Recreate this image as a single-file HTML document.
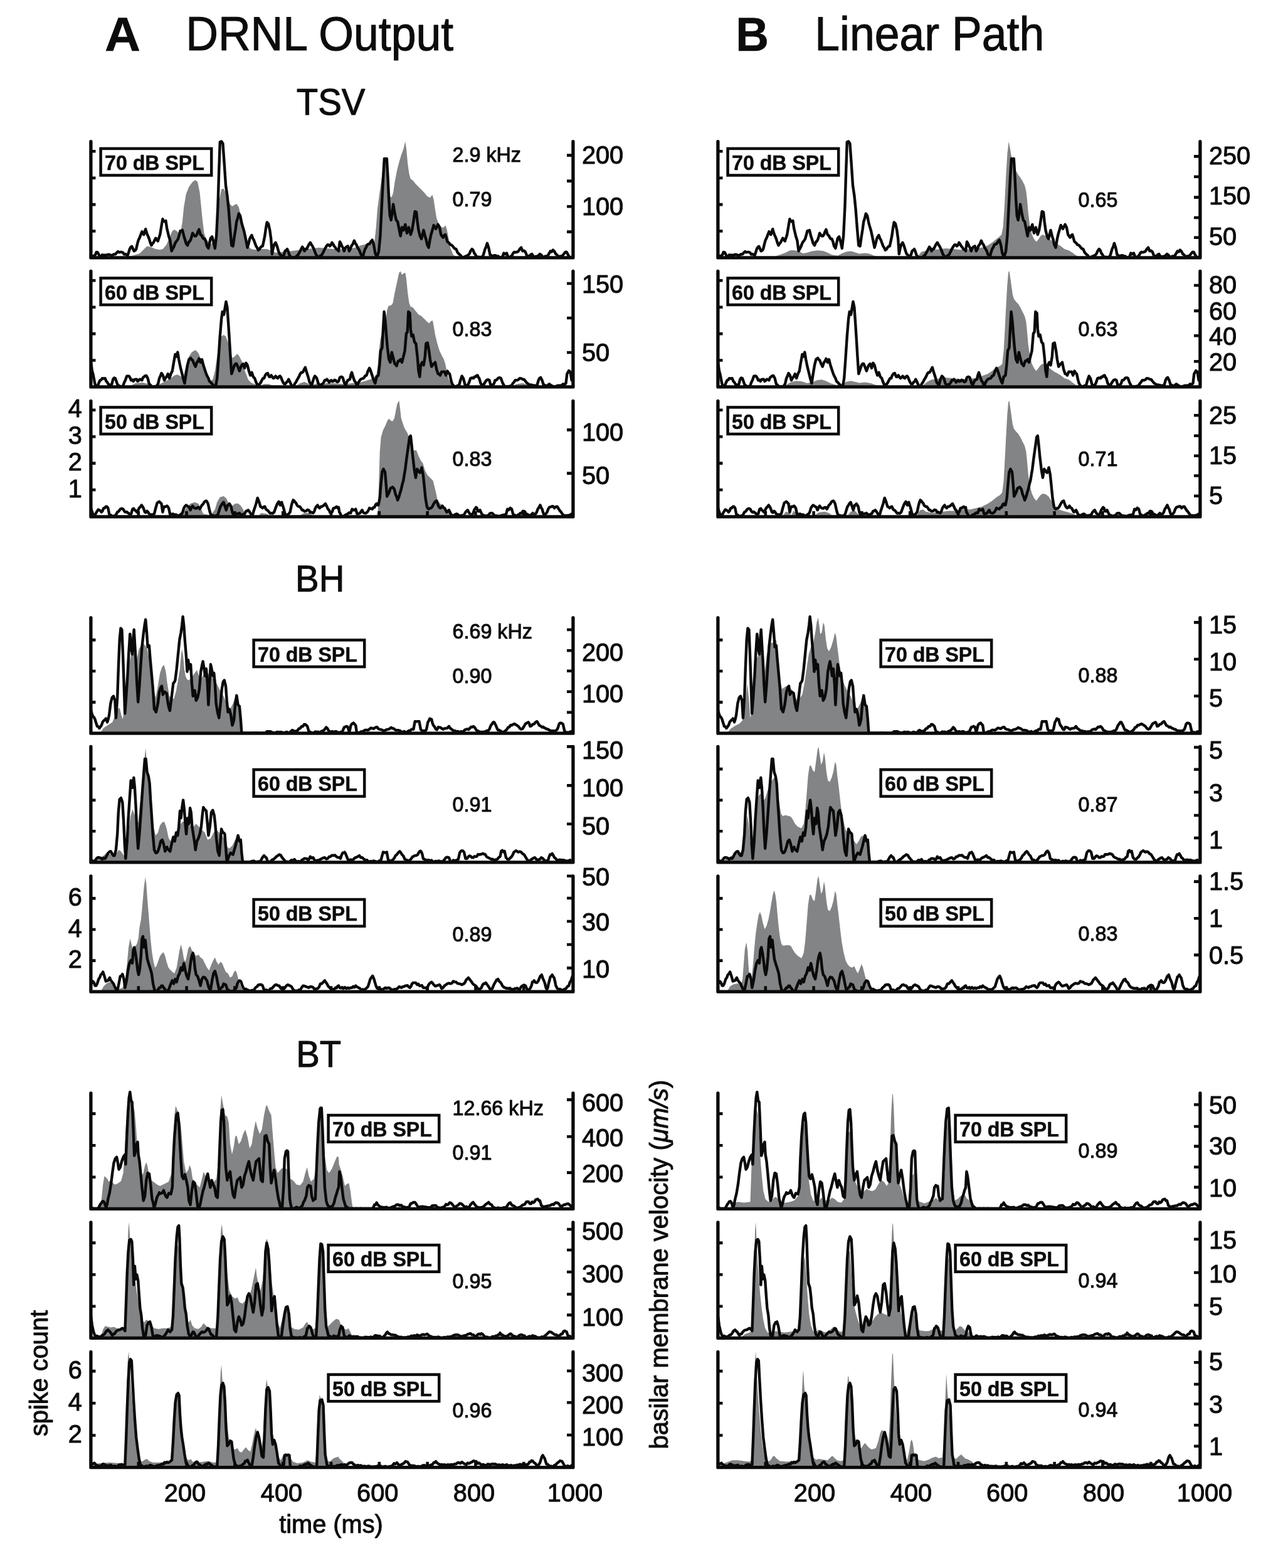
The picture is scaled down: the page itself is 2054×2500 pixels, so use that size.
<!DOCTYPE html>
<html lang="en"><head><meta charset="utf-8"><title>DRNL Output vs Linear Path</title>
<style>
html,body{margin:0;padding:0;background:#fff;}
body{width:2054px;height:2500px;overflow:hidden;font-family:"Liberation Sans", Arial, Helvetica, sans-serif;}
svg{display:block;}
text{font-family:"Liberation Sans", Arial, Helvetica, sans-serif;fill:#0c0c0c;stroke:#0c0c0c;stroke-width:1.0px;stroke-linejoin:round;}
.g{fill:#828486;stroke:none;}
.t{fill:none;stroke:#0a0a0a;stroke-width:4.4;stroke-linejoin:round;stroke-linecap:round;}
.ax{fill:none;stroke:#0a0a0a;stroke-width:5.3;stroke-linejoin:round;stroke-linecap:round;}
.tk{fill:none;stroke:#0a0a0a;stroke-width:4.6;}
.bx{fill:#fff;stroke:#0a0a0a;stroke-width:4.5;}
.al{font-size:41px;}
.bl{font-size:34px;font-weight:bold;stroke-width:0.5px;}
.nt{font-size:32.8px;}
.h1{font-size:75.2px;}
.h1b{font-size:76.5px;font-weight:bold;stroke-width:0.5px;}
.h2{font-size:59.5px;}
</style></head><body>
<svg width="2054" height="2500" viewBox="0 0 2054 2500" role="img" aria-label="Spike counts compared with DRNL output (A) and linear path (B) for TSV, BH and BT stimuli">
<rect width="2054" height="2500" fill="#fff"/>
<text class="h1b" transform="translate(167.1 81) scale(1.033 1)">A</text>
<text class="h1" transform="translate(296.2 80) scale(0.952 1)">DRNL Output</text>
<text class="h1b" transform="translate(1173.2 81) scale(0.955 1)">B</text>
<text class="h1" transform="translate(1299.2 80) scale(0.952 1)">Linear Path</text>
<text class="h2" transform="translate(527.6 183.4) scale(0.948 1)" text-anchor="middle">TSV</text>
<text class="h2" transform="translate(510.2 943) scale(0.948 1)" text-anchor="middle">BH</text>
<text class="h2" transform="translate(508.2 1701) scale(0.948 1)" text-anchor="middle">BT</text>
<text class="al" transform="translate(75.9 2189.5) rotate(-90) scale(0.97 1)" text-anchor="middle">spike count</text>
<text class="al" transform="translate(1065 2016) rotate(-90) scale(0.976 1)" text-anchor="middle">basilar membrane velocity (<tspan font-style="italic">μm/s</tspan>)</text>
<text class="al" transform="translate(528 2444) scale(0.97 1)" text-anchor="middle">time (ms)</text>
<text class="al" transform="translate(295 2393.6) scale(0.97 1)" text-anchor="middle">200</text>
<text class="al" transform="translate(1299 2393.6) scale(0.97 1)" text-anchor="middle">200</text>
<text class="al" transform="translate(449 2393.6) scale(0.97 1)" text-anchor="middle">400</text>
<text class="al" transform="translate(1453 2393.6) scale(0.97 1)" text-anchor="middle">400</text>
<text class="al" transform="translate(602.2 2393.6) scale(0.97 1)" text-anchor="middle">600</text>
<text class="al" transform="translate(1606.2 2393.6) scale(0.97 1)" text-anchor="middle">600</text>
<text class="al" transform="translate(756 2393.6) scale(0.97 1)" text-anchor="middle">800</text>
<text class="al" transform="translate(1760 2393.6) scale(0.97 1)" text-anchor="middle">800</text>
<text class="al" transform="translate(917 2393.6) scale(0.97 1)" text-anchor="middle">1000</text>
<text class="al" transform="translate(1921 2393.6) scale(0.97 1)" text-anchor="middle">1000</text>
<g id="A_tsv70">
<path class="g" d="M202.2,410.9L202.2,409.7L216,406.2L222.9,403.9L229.9,397L234.5,392.4L239.1,393.6L248.3,397L255.2,398.2L259.8,397L265.6,390.1L271.3,376.3L274.8,368.2L278.2,365.9L281.7,368.2L285.2,371.7L288.6,367.1L290.9,353.2L293.2,330.2L296.7,309.5L301.3,297.9L307.1,289.9L311.7,286.9L315.1,289.9L318.6,307.2L320.9,330.2L323.2,353.2L325.5,371.7L328.9,380.9L335.9,390.1L342.8,380.9L346.2,353.2L349.7,318.7L353.1,301.4L356.6,300.7L360,307.2L363.5,316.4L367,325.6L370.4,329.1L373.9,326.8L377.3,325.1L380.8,330.2L384.2,344L387.7,357.9L391.2,376.3L395.8,392.4L400.4,397L407.3,398.2L416.5,397L425.7,397L431.5,399.3L439.5,402.8L451.1,401.6L462.6,400.5L471.8,399.3L481,398.2L490.2,397L499.4,395.9L508.7,394.7L520.2,395.9L531.7,397L540,398.2L547.6,397L556.9,397L566.1,394.7L575.3,391.3L584.5,389L591.4,386.7L597.2,385.5L599.5,364.8L601.8,334.8L605.3,307.2L608.7,284.1L612.2,261.1L614.5,256.5L617.9,268L620.2,295.6L622.5,314.1L624.8,314.1L627.1,307.2L629.4,291L632.9,272.6L636.4,258.8L639.8,247.3L643.3,238L646.3,225.4L648.1,238L650.2,261.1L652.5,277.2L654.8,285.3L658.2,287.6L662.9,293.3L667.5,297.9L672.1,302.6L676.7,307.2L681.3,312.9L685.9,315.2L689.4,310.6L691.7,318.7L694,334.8L696.3,348.6L699.7,356.7L704.3,362.5L707.8,362.5L710.1,359L712.4,364.8L714.7,376.3L718.2,394.7L722.8,406.2L727.4,409.7L727.4,410.9Z"/>
<path class="t" d="M145.1,408.6L146.8,408.2L148.6,408.4L150.4,407.5L152.1,406.2L153.8,401.9L155.6,402.3L157.3,405.1L159.6,409.8L161.3,409.3L163,406.3L165.3,406.8L167.6,406.6L170,406.8L172.3,405.8L174.6,405.9L176.9,407.1L179.2,406.8L181.5,405.5L183.8,405.4L186.1,402.9L188.1,401L190.1,402.4L192.1,401.9L194.1,401.9L196.1,402.8L198,405.6L199.9,405.1L201.6,405.9L203.4,407.5L205.1,402.7L206.8,397.1L208.5,394.1L210.3,392.9L212,396.5L213.7,400.3L215.5,399.3L217.2,397.1L218.9,389.5L220.6,383.2L222.9,378.6L224.7,373.5L226.4,369.4L227.9,372.7L229.4,374L230.8,369.2L232.2,365.2L233.5,370.1L234.9,374L236.4,377.1L237.9,380.9L239.7,386.9L241.4,391.3L243.1,388.3L244.8,386.7L246.6,382.8L248.3,379.7L250,382.7L251.8,384.4L253.5,379.1L255.2,374L257.5,360.2L259.4,349.1L260.7,352.4L262.1,353.2L264.4,352.1L266.3,364.8L267.6,370.1L269,376.3L271.3,383.2L273.6,400.3L275.4,396.8L277.1,393.6L278.8,389.1L280.6,385.5L282.3,383.7L284,380.9L285.7,375L287.5,368.2L289.2,367.8L290.9,367.1L293.2,376.3L295,382L296.7,387.8L299,391.3L301.3,385.5L302.7,384.8L304.1,382.1L305.6,377.3L307.1,371.7L308.8,374.1L310.5,376.3L312.2,376.3L314,374L315.7,369.3L317.4,365.9L319.7,374L321.5,375.4L323.2,378.6L324.9,380.9L326.6,380.9L328.4,385.5L330.1,392.4L332.4,395.9L334.1,387.8L335.9,379.7L338.2,377.4L340.5,385.5L342.8,395.9L345.1,376.3L347.4,330.2L349.2,272.6L350.8,226.5L353.1,225.4L355.4,228.8L357.7,261.1L360,295.6L362.4,311.8L364.7,334.8L367,364.8L369.3,391.3L371.6,392.4L373.9,376.3L375.6,365.8L377.3,353.2L379.1,347.8L380.8,340.6L383.1,344L385.4,355.6L387.1,361.5L388.8,367.1L390.6,375L392.3,383.2L394.6,394.7L396.3,388.7L398.1,380.9L399.8,377.5L401.5,375.1L403.2,380L405,383.2L406.7,388.1L408.4,392.4L410.2,395.3L411.9,398.7L413.6,397.7L415.3,394.7L417.1,392.9L418.8,392.4L420.5,385L422.3,376.3L424,364.1L425.7,354.4L428,356.7L430.3,367.1L432.2,380.9L433.8,405.1L435.5,396.2L437.2,390.1L439.5,386.7L441.8,392.4L444.1,400.3L445.9,405.2L447.6,406.3L449.3,408.7L451.1,408.6L452.8,406.3L454.5,400.3L456.2,399.1L458,397.1L459.7,400.8L461.4,406.3L463.7,409.8L465.5,410.4L467.2,410.4L469.5,410.1L471.8,409.8L473.5,407.7L475.3,406.3L477,403.5L478.7,400.3L480.4,397L482.2,393.6L483.9,396.3L485.6,400.3L487.4,397L489.1,397.1L490.8,393.4L492.5,390.1L494.8,386.7L496.6,389.9L498.3,392.4L500,395.9L501.8,400.3L503.5,405L505.2,407.5L506.9,409.9L508.7,409.8L511,407.7L513.3,406.3L515.6,402L517.9,397.1L520.2,393.1L522.5,390.1L524.2,390.4L525.9,392.4L527.7,390.6L529.4,386.7L531.1,389L532.9,392.4L534.6,394.3L536.3,397.1L538.2,397.9L540,400.3L541.9,385.5L543.6,388.2L545.3,392.4L547.1,395.5L548.8,400.3L550.5,395.6L552.3,393.6L554.6,392.4L556.9,400.3L558.6,397.2L560.3,392.4L562.6,389.2L564.9,383.7L566.7,388.1L568.4,390.1L570.1,394.5L571.8,397.1L573.6,400.2L575.3,405.1L577,407.3L578.8,408.6L580.5,402.3L582.2,397.1L583.9,394.4L585.7,390.1L587.4,389.2L589.1,389L591.4,385.3L593.7,382.7L596,390.1L598.3,403.5L599.7,406.9L601.1,409.8L602.6,405.3L604.1,400.3L606.4,376.3L608.7,330.2L611,284.1L612.9,253L614.8,253.5L616.8,253L618.6,284.1L620.2,318.7L621.8,344L623.7,350.9L625.5,339.4L627.1,325.6L629.4,339.4L631.8,350.9L634.1,353.2L636.4,364.8L638.7,376.3L641,362.5L643.3,367.1L644.8,363.2L646.3,357.9L647.6,365.3L649,371.7L650.4,367.1L651.8,362.5L653.3,368L654.8,374L657.1,367.1L659.4,353.2L661.7,337.1L664,338.3L665.6,353.2L667.5,367.1L669.8,376.3L672.1,380.9L673.8,374.1L675.5,367.1L677.8,376.3L679.6,382.1L681.3,390.1L683.6,394.7L685.9,380.9L687.6,373.3L689.4,367.1L691.7,359L693.4,362.9L695.1,364.8L696.8,361.3L698.6,357.9L700.9,362.5L703.2,374L704.9,376.7L706.6,378.6L708.4,375.4L710.1,374L711.8,379.7L713.5,385.5L715.9,387.1L718.2,390.1L720.5,391.1L722.8,393.6L725.1,396.4L727.4,397.1L729.7,402.6L732,405.1L734.3,406.9L736.6,409.8L738.5,410.1L740.4,409.7L742.4,408.6L744.7,407.8L747,406.3L748.7,404.3L750.4,400.3L752.7,397.1L754.4,398.6L756.2,403.5L757.9,405.6L759.6,408.6L761.9,410.1L764.2,409.8L766.2,410.4L768.1,409.6L770,408.6L771.7,403.5L773.5,397.1L775.2,393.5L776.9,387.8L779.2,394.7L781.5,406.3L783.2,406.9L785,408.6L786.9,408L788.8,407.1L790.7,407.5L792.7,408.6L794.6,408.5L796.5,410.4L798.8,410.4L801.1,409.8L803.4,403.5L805.7,405.2L808,403.5L810.3,409.8L812.6,410.2L814.9,408.6L816.7,406.9L818.4,403.5L820.3,401.8L822.2,402.3L824.1,401.9L826.5,400.9L828.8,397.1L831.1,394.7L833.4,400.3L835.7,399.7L838,401.9L839.7,406.5L841.4,409.8L843.2,407.9L844.9,408.6L846.6,405.7L848.3,405.1L850.1,408.1L851.8,409.8L854.1,408.9L856.4,408.6L858.7,407.5L861,405.1L863.3,406.6L865.6,409.8L867.5,410.4L869.5,408.4L871.4,408.6L873.7,407.3L876,403.5L877.9,400.3L879.8,401.4L881.8,398.7L884.1,400.9L886.4,405.1L888.7,406.8L891,409.8L893.3,408.4L895.6,408.6L897.9,406.5L900.2,403.5L901.9,401.7L903.6,401.9L905.4,405.2L907.1,408.6L909.4,410.4L911.7,409.8"/>
<path class="ax" d="M144.9,225.6V410.9H913.9V225.6"/>
<path class="tk" d="M144.9,368.5h7.6M144.9,326.1h7.6M144.9,283.7h7.6M144.9,241.3h7.6M913.9,369.6h-9.9M913.9,329.3h-9.9M913.9,288.6h-9.9M913.9,247.6h-9.9"/>
<text class="al" transform="translate(927.9 343.1) scale(0.97 1)">100</text>
<text class="al" transform="translate(927.9 261) scale(0.97 1)">200</text>
<rect class="bx" x="160.6" y="236.9" width="176.6" height="42.6"/>
<text class="bl" transform="translate(246.5 271.1) scale(0.945 1)" text-anchor="middle">70 dB SPL</text>
<text class="nt" transform="translate(721.5 258.2) scale(0.985 1)">2.9 kHz</text>
<text class="nt" transform="translate(721.5 329.1) scale(0.985 1)">0.79</text>
</g>
<g id="A_tsv60">
<path class="g" d="M206.8,616.9L206.8,615.7L216,611.1L227.6,609.9L236.8,612.2L243.7,614.5L255.2,612.2L264.4,607.6L272.5,603L278.2,598.4L282.9,597.3L287.5,599.6L292.1,603L296.7,582.3L301.3,568.5L305.9,561.6L311.7,558.1L316.3,562.7L319.7,570.8L323.2,580L326.6,591.5L330.1,603L334.7,607.6L339.3,605.3L342.8,591.5L346.2,568.5L349.7,550L353.1,536.2L356.6,533.9L360,536.2L363.5,545.4L367,559.2L370.4,570.8L373.9,568.5L378.5,563.9L381.9,568.5L385.4,575.4L388.8,586.9L392.3,596.1L395.8,605.3L400.4,609.9L405,612.2L409.6,614.1L414.2,615.7L421.1,612.2L428,612.2L434.9,614.5L471.8,615.7L478.7,611.1L485.6,608.8L492.5,612.2L499.4,613.4L506.4,611.1L513.3,613.4L520.2,611.1L531.7,611.1L540,611.8L552.3,612.2L561.5,611.1L573,609.9L582.2,607.6L589.1,605.3L596,603L600.6,596.1L602.5,582.3L604.3,559.2L606.6,540.8L609.4,529.3L612.2,522.4L614.9,513.2L617.2,494.7L619.5,487.8L623.7,486.7L626.5,483.2L629.4,467.1L632.9,451L636.4,434.8L638.7,432.5L641,438.3L643.3,436L646.3,434.8L647.9,444L650.2,467.1L652.5,483.2L654.8,489L658.2,490.1L662.9,495.9L667.5,501.6L672.1,503.9L676.7,508.6L681.3,513.2L684.7,515.5L687.1,512L690,510.9L691.7,520.1L694,533.9L697.4,547.7L700.9,559.2L704.3,566.2L707.8,573.1L710.1,580L712.4,591.5L715.9,605.3L719.3,612.2L722.8,615.7L817.2,615.7L824.1,612.2L833.4,611.1L842.6,613.4L847.2,615.7L847.2,616.9Z"/>
<path class="t" d="M145.1,577.7L146.9,591.5L148.3,596.1L149.7,603.1L151.2,611L152.7,615.8L154.4,616.4L156.1,614.6L157.9,609.8L159.6,606.3L161.3,605.7L163,603.1L165.3,603.5L167.6,603.1L169.4,607.7L171.1,609.5L172.8,612.4L174.6,614.6L176.3,613.4L178,613.5L180.3,604.7L182.1,602.5L183.8,603.1L186.1,609.5L188.4,615.8L190.1,614.9L191.8,616.4L194.1,616.3L196.5,614.6L198.2,609.5L199.9,606.3L202.2,599.6L203.9,599.5L205.7,599.6L207.4,602.2L209.1,606.3L210.9,605.6L212.6,607.9L214.3,605.4L216,604.7L217.8,604.6L219.5,607.9L221.2,606.7L222.9,604.7L224.7,605.1L226.4,606.3L228.1,601.8L229.9,600.7L231.6,599.1L233.3,598.9L235.6,603.1L237.9,612.3L239.7,613.5L241.4,615.8L243.7,616.4L246,616.4L248.3,616.4L250.6,614.6L252.3,611.1L254.1,603.1L255.8,599.5L257.5,595L259.8,598.4L262.1,606.3L263.8,602.8L265.6,600.7L267.9,596.1L270.2,603.1L272.5,596.1L274.8,591.5L277.1,577.7L279.4,565L281.7,568.5L283.3,561.6L285.2,573.1L287.5,584.6L289.8,593.8L292.1,603.1L294.4,611.1L296.7,596.1L299,582.3L301.3,573.1L302.7,572L304.1,570.8L305.6,573.3L307.1,574.2L309.4,580L311.7,584.6L314,577.7L315.7,575.8L317.4,571.9L319.7,577.7L322,573.1L324.3,582.3L326.6,589.2L328.9,596.1L330.7,600.2L332.4,603.1L334.1,608.1L335.9,609.5L338.2,612L340.5,614.6L342.2,616L343.9,616.4L346.2,603.1L348.5,570.8L350.8,536.2L353.1,508.6L354.7,497L357.1,501.6L358.9,490.1L360.5,480.9L362.4,490.1L364,513.2L365.8,540.8L367.6,570.8L369.3,596.1L371.6,589.2L373.9,582.3L375.6,580L377.3,580L379.6,585.7L381.9,591.5L384.2,584.6L386,581.6L387.7,580L390,586.9L392.3,578.8L394.6,582.3L396.9,591.5L399.2,598.4L401.5,593.8L403.8,600.7L406.1,603.1L408.4,609.5L410.7,614.6L412.5,613.4L414.2,612.3L415.9,609.7L417.6,606.3L419.4,603.2L421.1,603.1L422.8,598.8L424.6,596.1L426.9,595L429.2,600.7L430.9,600.8L432.6,598.4L434.4,601.2L436.1,603.1L437.8,601.6L439.5,599.6L441.3,602.1L443,603.1L444.7,600.4L446.5,599.6L448.2,601.9L449.9,606.3L451.6,610L453.4,612.3L455.1,612.2L456.8,609.5L458.5,608.3L460.3,604.7L462.6,609.5L464.9,614.6L466.6,616.3L468.3,615.8L470.1,611.7L471.8,609.5L473.5,606.2L475.3,603.1L477,600.1L478.7,596.1L480.4,594L482.2,593.8L483.5,592.3L484.9,589.2L486.8,585.7L489.1,593.8L491.4,600.7L493.7,609.5L495.4,611.4L497.1,614.6L499.4,606.3L500.8,602.3L502.2,599.6L503.7,601.2L505.2,603.1L507.5,611.1L509.2,613.6L511,614.6L512.7,612.8L514.4,612.3L516.2,609.8L517.9,606.3L519.6,606.4L521.3,604.7L523.1,606.7L524.8,609.5L526.5,607.9L528.2,606.3L530,608.2L531.7,607.9L533.4,605.8L535.2,606.3L536.8,608.5L538.4,609.1L540,607.9L541.9,601.9L544.2,600.7L546.5,601.9L548.8,609.5L551.1,614.6L552.8,609.9L554.6,606.3L556.3,605.5L558,604.7L559.5,597.8L561,593.8L562.4,598.3L563.8,603.1L565.5,607.6L567.2,609.5L569.5,615.8L571.8,609.5L573.6,606.7L575.3,604.7L577.6,603.7L579.9,603.1L582.2,599.5L584.5,598.4L586.8,591.5L589.1,586.9L590.5,589.5L591.9,593.8L593.4,598.3L594.9,603.1L596.6,607.7L598.3,611.1L600.6,600.7L602,599.8L603.4,598.4L605.3,582.3L607.1,559.2L609.4,554.6L611,524.7L612.6,497L614.5,513.2L616.3,536.2L617.9,554.6L620.2,573.1L622.5,577.7L624.8,561.6L627.1,570.8L629.4,580L630.9,581.1L632.4,583.4L633.8,578.7L635.2,575.4L636.9,575.5L638.7,573.1L641,577.7L643.3,568.5L645.6,559.2L647.9,531.6L649.7,529.3L651.3,497L653.6,499.3L654.8,524.7L656.4,536.2L658.7,533.9L661,545.4L663.3,547.7L665.6,568.5L667.5,591.5L669.3,600.7L670.9,582.3L673.2,577.7L675.5,582.3L677.8,568.5L679.4,547.7L681.8,546.6L684.1,559.2L685.9,573.1L688.2,584.6L689.9,582L691.7,580L694,577.7L696.3,589.2L698.6,596.1L700.3,596.1L702,598.4L704.3,592.7L706.6,592.9L708.9,592.7L711.2,598.4L713.5,591.5L715.3,594.6L717,596.1L719.3,606.3L721,611.8L722.8,614.6L725.1,616.4L727.4,616.4L729.7,614.9L732,614.6L734.3,606.3L736.6,599.6L738.9,603.1L741.2,612.3L742.9,614.4L744.7,616.4L746.4,613.3L748.1,609.5L750.4,603.1L752.7,602.5L755,603.1L756.8,600.6L758.5,600.7L760,598.8L761.5,598.4L762.9,601.7L764.2,603.1L766.5,611.1L768.3,613.6L770,615.8L771.7,612.5L773.5,609.5L775.8,606.3L778.1,605.1L780.4,606.3L782.7,614.6L784.4,613.8L786.1,613.5L787.9,611.4L789.6,606.3L791.9,606L794.2,603.1L796.5,602.1L798.8,603.1L801.1,609.5L802.8,612.9L804.6,615.8L806.5,616.4L808.4,616.4L810.3,616.4L812.2,615.7L814.2,615.4L816.1,614.6L817.8,611.3L819.5,609.5L821.8,606.1L824.1,606.3L826.5,605.5L828.8,603.1L831.1,603.4L833.4,604.7L835.7,604.9L838,607.9L840.3,610.6L842.6,612.3L844.9,613.9L847.2,613.5L849.5,614.2L851.8,614.6L854.1,614.8L856.4,614.6L858.7,606.3L860.4,603.1L862.2,601.9L864.5,606.3L866.8,613.5L869.1,614.2L871.4,615.8L873.7,614.1L876,612.3L877.7,613.7L879.4,614.6L881.8,616.2L884.1,616.4L886.4,616.1L888.7,615L891,614.6L893.3,614.8L895.6,614.4L897.9,612.3L900.2,613L902.5,611.1L904.3,596.1L905.7,593.5L907.1,591L909.4,592.7L911.7,606.3"/>
<path class="ax" d="M144.9,432.5V616.9H913.9V432.5"/>
<path class="tk" d="M144.9,574.5h7.6M144.9,532.1h7.6M144.9,489.7h7.6M144.9,447.3h7.6M913.9,562h-9.9M913.9,507h-9.9M913.9,452h-9.9"/>
<text class="al" transform="translate(927.9 576.3) scale(0.97 1)">50</text>
<text class="al" transform="translate(927.9 467.2) scale(0.97 1)">150</text>
<rect class="bx" x="160.6" y="443.4" width="176.6" height="42.6"/>
<text class="bl" transform="translate(246.5 477.6) scale(0.945 1)" text-anchor="middle">60 dB SPL</text>
<text class="nt" transform="translate(721.5 535.5) scale(0.985 1)">0.83</text>
</g>
<g id="A_tsv50">
<path class="g" d="M289.8,823.9L289.8,822.7L296.7,810L303.6,803.1L310.5,800.8L316.3,803.1L320.9,812.3L324.3,819.2L335.9,821.5L342.8,812.3L346.2,800.8L350.8,792.7L356.6,791.1L361.2,795.1L364.7,803.1L368.1,810L371.6,805.4L375,803.1L379.6,802.7L383.1,805.4L386.5,810L390,816.9L393.5,822.7L411.9,822.7L416.5,818.1L425.7,819.2L430.3,822.7L476.4,822.7L485.6,818.1L494.8,818.1L499.4,822.7L600.6,822.7L602.9,812.3L604.3,766.2L605.7,720.2L607.6,697.1L611,685.6L614.5,678.7L617.9,670.6L620.2,667.6L623.2,670.6L626,671.8L628.8,667.2L631.1,655.6L633.4,644.1L636.4,638.4L638,651L639.8,667.2L642.1,674.1L644.4,681L646.7,685.6L649,689.1L652.5,697.1L655.9,708.6L659.4,717.9L664,717.9L667.5,727.1L670.9,734L674.4,738.6L677.8,750.1L681.3,757L684.7,760.5L688.2,763.9L690.5,766.2L692.8,775.5L695.1,784.7L697.4,796.2L702,803.1L706.6,806.6L711.2,810L715.9,816.9L720.5,822.7L720.5,823.9Z"/>
<path class="t" d="M145.1,810.1L146.6,815.3L148.1,819.3L149.8,820.9L151.5,821.6L153.2,817.8L155,814.9L156.7,812.6L158.4,813.3L160.2,814.4L161.9,816.5L163.6,814.3L165.3,810.1L167.1,809.8L168.8,807.7L170.5,807.7L172.3,810.1L174.6,821.6L176.9,821.3L179.2,823.4L181.5,822.4L183.8,822.8L185.5,819.6L187.2,816.5L189.5,815.1L191.8,811.7L194.1,810.7L196.5,811.7L198.2,815.1L199.9,816.5L202.2,816.2L204.5,818.1L206.8,819.7L209.1,819.3L211.4,811.7L213.2,810.8L214.9,813.3L216.6,814.5L218.3,816.5L220.1,813.7L221.8,810.1L223.8,808.1L225.7,805.4L227.2,807.3L228.7,810.1L231,816.5L232.7,817.3L234.5,814.9L236.2,816.6L237.9,819.3L239.7,820.7L241.4,820.5L243.7,820.5L246,819.3L248.3,810.1L250.6,802L252.3,800.7L254.1,799.7L255.8,801.6L257.5,803.1L259.4,816.5L260.7,810.8L262.1,807.7L264.2,807.8L266.3,806.6L267.6,807.8L269,810.1L271.3,820.5L273.6,819.9L275.9,819.3L278.2,820.6L280.6,820.5L282.9,821.8L285.2,822.8L287.5,820.4L289.8,819.3L291.5,816L293.2,810.1L295,807.2L296.7,805.4L298.4,806.5L300.1,807.7L301.9,808.9L303.6,813.3L305.3,809.2L307.1,806.6L308.8,809.1L310.5,810.1L312.8,810.7L315.1,808.9L316.8,808.9L318.6,811.7L320.3,808.5L322,805.4L323.8,803.9L325.5,800.8L327.2,799.2L328.9,798.5L330.3,800.1L331.7,803.1L334,813.3L335.5,818.8L337,821.6L339.3,821.6L341.6,822.8L343.9,822.5L346.2,821.6L347.9,819.5L349.7,813.3L351.4,807.9L353.1,805.4L354.9,802.4L356.6,800.8L358.9,807.7L360.7,813.3L363,805.4L364.4,805.3L365.8,803.1L367.2,805.3L368.6,807.7L370.4,816.5L372.7,821.6L375,820.5L377.3,819.3L379.6,819L381.9,818.1L383.7,820.4L385.4,820.5L387.1,820.8L388.8,819.3L390.6,818.7L392.3,814.9L394,814.6L395.8,813.3L397.5,815.4L399.2,818.1L400.9,820.9L402.7,821.6L404.4,815.2L406.1,810.1L408.4,803.1L410.7,793.9L413,799.7L415.3,807.7L417.1,808.5L418.8,810.1L420.5,808.3L422.3,807.7L424,811.7L425.7,813.3L427.4,814.1L429.2,816.5L430.9,818.5L432.6,818.1L434.9,818.5L437.2,816.5L439.5,810.1L440.9,806.2L442.3,803.1L444.6,799.7L446.9,805.4L449.2,800.8L450.7,805.8L452.2,810.1L454.5,819.3L456.2,820.5L458,821.6L460.3,819.2L462.6,816.5L464.9,805.4L466.3,800.6L467.6,797.4L469.1,798.3L470.6,800.8L472.1,801.9L473.6,805.4L475,806.9L476.4,807.7L478.1,807.8L479.9,810.1L481.6,813.2L483.3,813.3L485.6,815.2L487.9,814.9L490.2,812.8L492.5,813.3L494.3,816.7L496,816.5L497.7,817.3L499.4,818.1L501.2,815.4L502.9,810.1L504.6,807.4L506.4,805.4L508.1,808.7L509.8,810.1L511.5,807.7L513.3,807.7L515,806.6L516.7,805.4L519,803.1L521.3,807.7L523.1,811.9L524.8,813.3L526.5,817.3L528.2,818.1L530,815.5L531.7,810.1L533.4,810.1L535.2,808.9L536.8,807.8L538.4,809.9L540,808.9L541.2,816.5L542.7,818.8L544.2,822.8L546.1,822.9L548,823.3L550,821.6L552.3,820.5L554.6,819.3L556.9,817.4L559.2,818.1L561.5,811.7L563.4,813.3L565.3,813.3L567.2,811.7L569.5,819.3L571.8,819.1L574.1,818.1L575.9,815.2L577.6,813.3L579.3,817.1L581.1,818.1L583.4,818.3L585.7,816.5L587.4,813.9L589.1,810.1L591.4,810.9L593.7,811.7L595.5,809.1L597.2,808.9L598.9,804.8L600.6,803.1L602,805.3L603.4,805.4L605.7,793.9L607.6,770.9L609.4,752.4L611.5,747.8L612.7,750.7L614,752.4L615.6,770.9L617.2,791.6L619.5,787L621,783.7L622.5,778.9L624.3,777.6L626,776.6L627.4,777.8L628.8,780.1L631.1,789.3L632.6,792.1L634.1,797.4L636.4,791.6L638.1,785.7L639.8,780.1L641.5,772.2L643.3,766.2L644.8,756.7L646.3,747.8L648.6,729.4L650.9,713.3L653.2,697.1L654.8,694.8L656.4,708.6L658.2,727.1L660.6,747.8L662.9,761.6L665.2,747.8L667.5,751.3L669.8,753.6L671.2,750.5L672.5,745.5L674.8,757L676.7,775.5L678.5,793.9L680.8,807.7L682.2,810.4L683.6,811.7L685.3,810.5L687.1,810.1L688.8,808.7L690.5,805.4L692.2,802.2L694,799.7L696.3,798.5L698.6,805.4L700.3,808.6L702,810.1L703.8,809.1L705.5,806.6L707.2,809.2L708.9,810.1L710.7,813.2L712.4,816.5L714.1,815.5L715.9,813.3L717.6,816.6L719.3,820.5L721.6,821.7L723.9,821.6L726.2,820.1L728.5,819.3L730.8,820.8L733.1,822.8L735.1,822L737,821.8L738.9,821.6L740.6,819.8L742.4,816.5L744.1,814.6L745.8,813.3L747.5,816.7L749.3,819.3L751,820L752.7,820.5L754.4,818.3L756.2,813.3L757.7,811L759.2,808.9L760.6,810.2L761.9,814.9L763.7,815.3L765.4,813.3L767.1,816.9L768.8,820.5L771.2,821.5L773.5,822.8L775.4,822.5L777.3,821.9L779.2,821.6L780.9,818.9L782.7,818.1L785,818.3L787.3,820.5L789.2,822.5L791.1,822.1L793,822.8L795.3,822.7L797.6,823.2L800,821.6L802.3,821.1L804.6,820.8L806.9,820.5L809.2,811.7L811.5,813L813.8,809.9L816.1,811.7L818.4,820.5L820.3,821L822.2,822L824.1,822.8L826.1,820.8L828,820.1L829.9,818.1L831.8,818.5L833.7,815L835.7,814.9L837.4,816.3L839.1,820.5L841,819.8L843,821.6L844.9,821.6L847.2,821L849.5,818.1L851.8,820L854.1,819.3L855.8,816.7L857.6,811.7L859.5,808.9L861.5,805.4L863,809.3L864.5,811.7L866.2,817.5L867.9,821.6L870.2,819.5L872.5,816.5L874.3,811.4L876,808.9L878.3,808.2L880.6,807.3L882.3,807.5L884.1,810.1L886.4,808L888.7,807.7L890.4,810.5L892.1,813.3L894.4,816L896.7,819.3L898.5,821L900.2,822.8L902.1,821.7L904,822.5L905.9,821.6L907.9,821.6L909.8,820.5L911.7,819.3"/>
<path class="ax" d="M144.9,639.5V823.9H913.9V639.5"/>
<path class="tk" d="M144.9,781h7.6M144.9,738.6h7.6M144.9,696.2h7.6M144.9,653.8h7.6M913.9,754.6h-9.9M913.9,685.4h-9.9M220.8,823.9v-9M297.6,823.9v-9M374.4,823.9v-9M451.2,823.9v-9M528,823.9v-9M604.8,823.9v-9M681.6,823.9v-9M758.4,823.9v-9M835.2,823.9v-9"/>
<text class="al" transform="translate(130.9 792.6) scale(0.97 1)" text-anchor="end">1</text>
<text class="al" transform="translate(130.9 750.2) scale(0.97 1)" text-anchor="end">2</text>
<text class="al" transform="translate(130.9 707.8) scale(0.97 1)" text-anchor="end">3</text>
<text class="al" transform="translate(130.9 665.4) scale(0.97 1)" text-anchor="end">4</text>
<text class="al" transform="translate(927.9 772) scale(0.97 1)">50</text>
<text class="al" transform="translate(927.9 702.9) scale(0.97 1)">100</text>
<rect class="bx" x="160.6" y="649.4" width="176.6" height="42.6"/>
<text class="bl" transform="translate(246.5 683.6) scale(0.945 1)" text-anchor="middle">50 dB SPL</text>
<text class="nt" transform="translate(721.5 742.5) scale(0.985 1)">0.83</text>
</g>
<g id="A_bh70">
<path class="g" d="M159.6,1169.2L159.6,1168.7L165.3,1160.6L172.3,1156L179.2,1151.4L183.8,1139.9L187.2,1130.7L190.7,1128.4L193.5,1139.9L195.8,1146.8L198.1,1130.7L200.4,1103L204.5,1066.2L209.1,1043.1L213.7,1040.8L218.3,1050L221.8,1033.9L225.3,1029.3L229.9,1027L234.5,1033.9L237.9,1050L241.4,1073.1L244.8,1098.4L248.3,1112.2L251.8,1093.8L255.2,1073.1L258.7,1062.7L261.7,1060.4L264.4,1070.8L266.7,1089.2L270.2,1109.9L273.6,1112.2L277.1,1114.6L280.6,1103L284,1084.6L287,1066.2L288.6,1045.4L290.2,1035.1L292.1,1045.4L293.9,1066.2L295.8,1077.7L298.5,1083.4L301.3,1084.6L305.9,1080L310.5,1073.1L314,1068.5L317.4,1077.7L320.9,1082.3L324.3,1075.4L328.9,1070.8L333.5,1075.4L338.2,1080L342.8,1084.6L347.4,1093.8L352,1103L356.6,1109.9L361.2,1121.5L367,1130.7L371.6,1121.5L375,1112.2L378.5,1116.9L381.9,1126.1L384.2,1146.8L386.1,1168.7L386.1,1169.2Z"/>
<path class="t" d="M145.1,1133L146.6,1138L148.1,1142.2L149.8,1143.5L151.5,1146.8L153.2,1152.5L155,1158L156.7,1158.3L158.4,1161.2L160.2,1158.7L161.9,1156.4L163.6,1151.3L165.3,1149.1L167.1,1147.6L168.8,1145.7L171.1,1151.4L172.6,1146.9L174.1,1139.9L176.4,1121.5L178.7,1112.2L181,1109.9L183.3,1116.9L184.9,1144.5L187.2,1112.2L188.8,1066.2L190.7,1020.1L192.5,1001.6L194.4,1004L196,1043.1L197.6,1089.2L199.2,1137.6L201.1,1112.2L203.4,1077.7L205.2,1043.1L207.3,1010.9L209.1,1031.6L211,1043.1L212.6,1015.5L213.7,1004L215.3,1031.6L216.7,1054.6L218.3,1089.2L220.2,1119.2L222.3,1093.8L224.1,1066.2L226.4,1031.6L228.7,1010.9L230.6,997L232.2,987.8L234,1008.6L235.6,1031.6L237.9,1029.3L239.5,1050L241.4,1070.8L243.7,1096.1L246,1130.7L247.4,1132.4L248.8,1135.3L250.3,1128.7L251.8,1121.5L254.1,1103L256.4,1096.1L258,1093.8L259.8,1107.6L262.1,1103L263.8,1103.9L265.6,1105.3L267.9,1121.5L269.4,1128.5L270.9,1133L272.3,1121.6L273.6,1112.2L275,1100.3L276.4,1089.2L277.9,1087.7L279.4,1084.6L281.7,1066.2L284,1043.1L286.3,1020.1L288.6,1008.6L290.2,997L291.6,983.2L293.2,997L294.8,1020.1L296.7,1043.1L298.5,1070.8L300.1,1052.3L302,1066.2L304.1,1059.3L305.9,1089.2L307.7,1109.9L309.1,1104.6L310.5,1100.7L312.8,1116.9L315.1,1112.2L316.5,1105.9L317.9,1098.4L320.2,1070.8L322,1061.6L323.6,1054.6L325.5,1066.2L327.1,1077.7L328.9,1066.2L330.8,1089.2L332.4,1123.8L334.2,1089.2L335.9,1059.3L337.5,1066.2L339.3,1077.7L341.2,1073.1L342.8,1089.2L344.6,1121.5L346.9,1135.3L349.2,1144.5L351.5,1123.8L353.8,1098.4L355.9,1086.9L357.7,1084.6L360,1093.8L361.7,1116.9L363.5,1135.3L365.8,1130.7L368.1,1139.9L370.4,1156.4L371.8,1152.6L373.2,1146.8L375,1123.8L377.3,1108.8L379.6,1123.8L381.9,1126.1L383.8,1146.8L385.4,1168.7L387.4,1168.7L389.4,1168.7L391.4,1168.6L393.5,1168.7L395.8,1168.7L398.1,1168.7L400.4,1168.7L402.7,1168.7L405,1168.3L407.3,1168.7L409.6,1168.4L411.9,1168.7L414.2,1168.7L416.5,1168.7L418.8,1168.7L421.1,1168.7L423.4,1168.6L425.7,1166.2L428,1166.5L430.3,1166.1L432.6,1166.8L434.9,1168.7L437.2,1168.1L439.5,1168.7L441.8,1167L444.1,1167.6L446.5,1167.2L448.8,1167.2L451.1,1168.3L453.4,1168.7L455.7,1167.3L458,1167.3L460.3,1168.5L462.6,1167.6L464.3,1165.6L466,1164.2L467.8,1164.8L469.5,1166.5L471.8,1165.6L474.1,1165.3L476.4,1161.9L478.7,1161.2L481,1158.2L483.3,1158L485,1154.9L486.8,1154.9L488.5,1156.4L490.2,1158L492.5,1166.5L494.8,1166.9L497.1,1168.7L499.1,1168.7L501,1168L502.9,1166.5L504.8,1167.4L506.7,1166.8L508.7,1167.6L510.6,1167.4L512.5,1166L514.4,1165.3L516.3,1164.5L518.3,1162.3L520.2,1159.6L521.9,1161.2L523.6,1164.2L525.4,1166.1L527.1,1167.6L529.4,1166.1L531.7,1167.2L534,1166.5L536,1166.1L538,1167.5L540,1167.6L541.8,1168.2L543.6,1167L545.3,1167.6L547.1,1163.8L548.8,1159.6L550.7,1158.9L552.6,1158L554.6,1158.9L556.9,1167.6L558.2,1162.9L559.6,1156.4L561.7,1153.7L563.8,1152.6L565.5,1154.6L567.2,1156.4L568.8,1167.6L570.6,1168.4L572.4,1168.2L574.1,1167.6L576.1,1166.3L578,1167.2L579.9,1165.3L582.2,1163.9L584.5,1163.9L586.8,1164.2L589.1,1162.6L591.4,1160.6L593.7,1161.2L595.7,1162L597.6,1160.5L599.5,1159.6L601.4,1159.2L603.3,1162L605.3,1162.8L607.6,1163.2L609.9,1164.1L612.2,1165.3L614.5,1164.3L616.8,1163.2L619.1,1162.8L621.4,1161.9L623.7,1160L626,1161.2L628.3,1161.8L630.6,1164L632.9,1164.2L635.2,1164.3L637.5,1164.9L639.8,1166.5L642.1,1167.9L644.4,1166L646.7,1167.6L649,1167.3L651.3,1165.3L653.6,1165.3L655.6,1163.5L657.5,1162.4L659.4,1162.8L661.7,1150.3L664,1150.4L666.3,1150.2L668.6,1150.3L670.9,1162.8L672.8,1165L674.8,1165.2L676.7,1165.3L678.4,1165.4L680.1,1162.8L682.4,1151.4L683.9,1149.1L685.4,1145.7L686.8,1146.8L688.2,1146.8L689.6,1152.7L691,1156.4L693,1158.7L695.1,1162.8L697,1163.3L699,1159.3L700.9,1159.6L702.8,1160.1L704.7,1161.7L706.6,1162.8L708.9,1161.4L711.2,1161.2L713.5,1160.8L715.9,1158L718.2,1161.4L720.5,1162.8L722.4,1164.6L724.3,1165.3L726.2,1165.3L728.1,1167.2L730.1,1165.9L732,1167.6L734.3,1166.5L736.6,1166.4L738.9,1166.5L741.2,1163.8L743.5,1162.8L745.4,1162.4L747.3,1163.1L749.3,1161.2L751.2,1158.9L753.1,1159.4L755,1158L757.3,1160.2L759.6,1164.2L761.9,1165.2L764.2,1166.5L766.2,1167.5L768.1,1166.9L770,1167.6L771.9,1166.7L773.8,1166.8L775.8,1165.3L778.1,1165.3L780.4,1162.8L782.7,1156.9L785,1153.7L786.5,1151.4L788,1151.4L789.4,1153.9L790.7,1156.4L792.5,1160.9L794.2,1164.2L796.1,1163.9L798,1165.4L800,1166.5L801.9,1167.3L803.8,1166.8L805.7,1165.3L808,1163.5L810.3,1159.6L812.2,1159.3L814.2,1156.2L816.1,1156.4L818,1155.1L819.9,1154.1L821.8,1154.9L824.1,1156.3L826.5,1158L828.8,1161L831.1,1162.8L833.4,1161.8L835.7,1158L838,1154L840.3,1152.6L842.6,1151.4L844,1153.4L845.3,1158L847.4,1157.3L849.5,1154.9L851.8,1154.3L854.1,1151.4L856.4,1150.3L858.1,1153.2L859.9,1156.4L862.2,1157.5L864.5,1159.6L866.4,1158.9L868.3,1160.8L870.2,1161.2L872.2,1162.6L874.1,1162.6L876,1164.2L877.9,1164.9L879.8,1165.5L881.8,1165.3L884.1,1165.6L886.4,1164.8L888.7,1162.8L890,1159.7L891.4,1154.9L892.9,1152.9L894.4,1152.6L896.2,1153.3L897.9,1154.9L900.2,1165.3L902.5,1167.5L904.8,1167.6L907.1,1168.2L909.4,1166.5L911.7,1166.5"/>
<path class="ax" d="M144.9,984.8V1169.2H913.9V984.8"/>
<path class="tk" d="M144.9,1119.6h7.6M144.9,1070h7.6M144.9,1020.4h7.6M913.9,1135.8h-9.9M913.9,1102.8h-9.9M913.9,1069.8h-9.9M913.9,1037.2h-9.9M913.9,1004h-9.9"/>
<text class="al" transform="translate(927.9 1120) scale(0.97 1)">100</text>
<text class="al" transform="translate(927.9 1054.3) scale(0.97 1)">200</text>
<rect class="bx" x="404.6" y="1020.5" width="176.6" height="42.6"/>
<text class="bl" transform="translate(490.5 1054.7) scale(0.945 1)" text-anchor="middle">70 dB SPL</text>
<text class="nt" transform="translate(721.5 1017.5) scale(0.985 1)">6.69 kHz</text>
<text class="nt" transform="translate(721.5 1088.9) scale(0.985 1)">0.90</text>
</g>
<g id="A_bh60">
<path class="g" d="M151.5,1374.9L151.5,1374.7L158.4,1367.8L165.3,1364.3L170,1359.7L174.6,1362L181.5,1362L186.1,1359.7L189.5,1355.1L193,1357.4L197.6,1364.3L201.1,1359.7L204.5,1329.8L208,1302.1L211.4,1290.6L214.9,1299.8L218.3,1318.2L220.6,1309L222.9,1283.7L225.3,1265.3L227.6,1244.5L229.9,1214.6L232.2,1192.7L234,1214.6L236.3,1237.6L239.1,1256L241.4,1283.7L244.8,1318.2L248.3,1332.1L251.8,1327.5L255.2,1315.9L258.7,1311.3L262.1,1310.2L265.6,1320.6L269,1336.7L272.5,1341.3L275.9,1336.7L280.6,1327.5L285.2,1318.2L289.8,1311.3L294.4,1309L299,1313.6L303.6,1315.9L308.2,1318.2L312.8,1313.6L317.4,1318.2L322,1322.9L326.6,1327.5L331.2,1339L335.9,1336.7L340.5,1327.5L345.1,1322.9L349.7,1327.5L354.3,1332.1L358.9,1341.3L362.4,1350.5L365.8,1352.8L370.4,1348.2L375,1339L378.5,1336.7L381.9,1341.3L384.7,1359.7L387,1374.7L387,1374.9Z"/>
<path class="t" d="M145.1,1373.6L146.8,1372L148.6,1374.2L150.4,1372.5L152.1,1371.9L153.8,1368.9L156.1,1367.1L158.4,1367.3L160.7,1368L163,1370.2L165.3,1368L167.6,1368.9L169.4,1366L171.1,1362.5L172.6,1360L174.1,1358.6L175.5,1357.5L176.9,1357.4L178.2,1360.3L179.6,1362.5L181.1,1364.4L182.6,1364.1L184.9,1355.1L187.2,1329.8L188.8,1295.2L190.7,1274.5L193,1272.2L195.3,1279.1L197.1,1309L198.8,1345.9L200.4,1368.9L202.7,1341.3L204.5,1306.7L206.8,1272.2L208.7,1244.5L211,1256L213.3,1239.9L214.9,1256L216.5,1283.7L218.3,1322.9L220.2,1352.8L222.5,1327.5L224.8,1295.2L227.1,1260.6L229.4,1230.7L231,1210L232.6,1210L234.5,1230.7L236.8,1237.6L238.6,1249.1L240.2,1276.8L241.8,1299.8L243.7,1329.8L246,1355.1L248.3,1359.7L250,1359.8L251.8,1357.4L254.1,1350.5L256.4,1341.3L258.7,1339L261,1345.9L263.3,1357.4L264.8,1353.1L266.3,1350.5L267.6,1354L269,1355.1L271.3,1357.4L273.6,1345.9L275,1339.9L276.4,1334.4L278.7,1341.3L281,1327.5L283.3,1332.1L285.2,1318.2L287,1292.9L288.6,1304.4L290.2,1288.3L292.1,1275.6L293.9,1290.6L295.5,1313.6L297.1,1329.8L299,1304.4L301.3,1313.6L303.1,1288.3L304.7,1295.2L306.4,1318.2L308.2,1329.8L310,1341.3L311.7,1355.1L314,1341.3L316.3,1336.7L318.6,1329.8L320.9,1318.2L322.7,1299.8L324.3,1287.1L326.6,1290.6L328.9,1292.9L330.8,1313.6L332.4,1332.1L334.7,1318.2L337,1295.2L339.3,1291.8L341.6,1299.8L343.2,1313.6L345.1,1336.7L347.4,1357.4L349.7,1364.1L351.5,1341.3L353.1,1321.7L355.4,1327.5L356.9,1327.9L358.4,1329.8L360,1350.5L361.7,1373.6L363.2,1370.6L364.7,1365.7L366.4,1362.1L368.1,1359.7L369.8,1361.6L371.6,1362.5L373.3,1356.4L375,1350.5L377.3,1341.3L379.6,1332.1L381.9,1341.3L383.8,1339L385.4,1359.7L387,1374.4L389.2,1374.4L391.3,1374.1L393.5,1374.4L395.8,1374.4L398.1,1374.4L400.4,1373.6L402.7,1373L405,1372.7L407.3,1374.1L409.6,1374.4L411.9,1373.5L414.2,1374.4L415.9,1372.2L417.6,1368.9L419.4,1365.9L421.1,1364.1L422.8,1366.2L424.6,1367.3L426.9,1373.6L429.2,1374.2L431.5,1373.6L433.8,1371L436.1,1370.2L438.4,1368.2L440.7,1365.7L443,1364.4L445.3,1362.5L447.6,1363.3L449.9,1367.3L452.2,1370L454.5,1372.5L456.4,1374.4L458.4,1373.8L460.3,1374.4L462.6,1373.2L464.9,1371.3L467.2,1372.1L469.5,1370.2L471.8,1373.2L474.1,1373.6L476.4,1373.3L478.7,1374.4L481,1371.7L483.3,1370.2L485.6,1368.6L487.9,1368.9L489.7,1369.4L491.4,1371.3L493.1,1369.3L494.8,1365.7L497.1,1368.3L499.4,1367.3L501.8,1371.4L504.1,1372.5L506.4,1371.7L508.7,1371.3L511,1370L513.3,1368.9L515.6,1367.7L517.9,1367.3L520.2,1369.5L522.5,1368.9L524.8,1366L527.1,1365.7L529.4,1363.6L531.7,1364.1L534,1363.4L536.3,1365.7L538.2,1366.8L540,1367.3L541.5,1366.9L543,1368.9L544.8,1363.2L546.5,1359.7L548,1359.8L549.5,1358.6L550.9,1360.7L552.3,1364.1L554,1368.3L555.7,1372.5L557.6,1371.2L559.6,1370.5L561.5,1371.3L563.4,1370.4L565.3,1368.3L567.2,1367.3L569.2,1366.4L571.1,1365.3L573,1364.1L575.3,1367.2L577.6,1367.3L579.5,1369L581.4,1370.9L583.4,1371.3L585.3,1371.2L587.2,1373.8L589.1,1373.6L591.4,1373.1L593.7,1373.6L596,1372.5L598.3,1373.4L600.6,1374.2L602.9,1373.6L605.3,1372.3L607.6,1371.3L609.3,1364.5L611,1358.6L612.9,1359L614.9,1359.6L616.8,1358.6L619.1,1371.3L621.4,1372.4L623.7,1372.5L626,1371.2L628.3,1368.9L630.6,1364.4L632.9,1362.5L635.2,1359.3L637.5,1357.4L639.2,1359.4L641,1362.5L643.3,1364.8L645.6,1370.2L647.5,1370.6L649.4,1371.6L651.3,1372.5L653.6,1371.7L655.9,1368.9L657.9,1366L659.8,1365.2L661.7,1364.1L664,1364L666.3,1362.5L667.8,1359.3L669.3,1357.4L670.7,1356.7L672.1,1358.6L673.5,1362.3L674.8,1368.9L676.9,1369.9L679,1371.3L681.3,1371.6L683.6,1371.1L685.9,1372.5L688.2,1371.6L690.5,1374.4L692.8,1373.6L695.1,1373L697.4,1373.6L699.7,1372.5L702,1373.6L704.3,1373.4L706.6,1373.6L708.9,1370.4L711.2,1367.3L713.5,1366.7L715.9,1367.3L718.2,1373.6L720.5,1374.4L722.8,1371.6L725.1,1372.5L727,1372L728.9,1371.1L730.8,1370.2L733.1,1359.7L734.9,1357.2L736.6,1356.3L738.3,1356.7L740,1358.6L742.4,1368.9L744.7,1369.1L747,1365.7L748.9,1364.4L750.8,1365.5L752.7,1367.3L754.6,1367.3L756.6,1365.4L758.5,1365.7L760.4,1365.5L762.3,1362.1L764.2,1362.5L766.2,1362.3L768.1,1361.7L770,1360.9L771.9,1361.7L773.8,1362.3L775.8,1365.7L777.7,1367L779.6,1367.9L781.5,1368.9L783.4,1369.9L785.4,1369.6L787.3,1371.3L789.6,1370.8L791.9,1370.5L794.2,1368.9L795.9,1366.6L797.6,1365.7L799.3,1357L801,1355.8L802.8,1358.1L804.6,1357L806.9,1367.3L809.2,1369.9L811.5,1370.2L813.8,1367.9L816.1,1365.7L817.8,1362.7L819.5,1358.6L821.3,1357.6L823,1356.3L824.7,1357.4L826.5,1358.6L828.8,1357.7L831.1,1358.6L833.4,1361.2L835.7,1362.5L838,1366.1L840.3,1370.2L842.6,1372L844.9,1373.6L847.2,1370.3L849.5,1368.9L851.2,1367.8L852.9,1367.3L855.3,1369.9L857.6,1371.3L859.5,1370.6L861.4,1369.4L863.3,1367.3L865.6,1368.7L867.9,1371.3L869.8,1372.5L871.8,1372.5L873.7,1372.5L875.4,1366.8L877.1,1362.5L878.9,1362.9L880.6,1360.9L882.3,1363.7L884.1,1367.3L886.4,1369.1L888.7,1372.5L891,1371.1L893.3,1370.8L895.6,1371.3L897.9,1371.1L900.2,1371.8L902.5,1372.5L904.8,1373L907.1,1372.2L909.4,1371.3"/>
<path class="ax" d="M144.9,1190.5V1374.9H913.9V1190.5"/>
<path class="tk" d="M144.9,1325.3h7.6M144.9,1275.7h7.6M144.9,1226.1h7.6M913.9,1313.8h-9.9M913.9,1252.4h-9.9M913.9,1190.4h-9.9"/>
<text class="al" transform="translate(927.9 1330.6) scale(0.97 1)">50</text>
<text class="al" transform="translate(927.9 1269.7) scale(0.97 1)">100</text>
<text class="al" transform="translate(927.9 1209.8) scale(0.97 1)">150</text>
<rect class="bx" x="404.6" y="1227.1" width="176.6" height="42.6"/>
<text class="bl" transform="translate(490.5 1261.3) scale(0.945 1)" text-anchor="middle">60 dB SPL</text>
<text class="nt" transform="translate(721.5 1293.5) scale(0.985 1)">0.91</text>
</g>
<g id="A_bh50">
<path class="g" d="M160.7,1581.2L160.7,1580.7L165.3,1572.6L170,1568L174.6,1565.7L179.2,1568L183.8,1572.6L188.4,1577.2L195.3,1574.9L199.9,1561.1L202.7,1535.8L205,1510.4L207.5,1496.6L209.8,1505.8L212.6,1515L214.9,1510.4L218.3,1504.7L220.6,1496.6L222.5,1478.2L224.8,1466.6L227.1,1443.6L229.4,1416L231.7,1398.7L233.3,1409L234.9,1432.1L236.8,1455.1L238.6,1478.2L240.5,1501.2L242.5,1519.6L244.8,1533.5L247.1,1542.7L249.4,1540.4L251.8,1533.5L255.2,1524.2L258.7,1519.6L261,1518.5L263.3,1524.2L265.6,1533.5L268.6,1542.7L271.3,1546.1L274.8,1549.6L278.2,1551.9L281.7,1542.7L284,1528.9L286.3,1515L288.6,1505.8L290.9,1515L293.2,1528.9L295.5,1533.5L297.8,1524.2L300.1,1512.7L303.1,1508.1L305.9,1515L309.4,1519.6L312.8,1524.2L316.3,1521.9L319.7,1526.6L323.2,1528.9L326.6,1535.8L330.1,1542.7L333.5,1547.3L337,1538.1L340,1531.2L342.8,1526.6L345.5,1533.5L348.5,1538.1L351.5,1533.5L354.3,1535.8L357.1,1542.7L360,1549.6L363.5,1551.9L367,1558.8L370.4,1556.5L373.2,1549.6L375.5,1547.3L377.8,1551.9L380.1,1561.1L383.1,1570.3L386.5,1577.2L391.2,1580.7L391.2,1581.2Z"/>
<path class="t" d="M145.1,1568.4L146.6,1567.1L148.1,1564.6L149.8,1566.6L151.5,1571.6L153.2,1571.6L155,1568.4L157.3,1561.1L159,1558.8L160.7,1554.2L162.5,1552.5L164.2,1549.6L166.5,1556.5L168.8,1564.6L170.5,1563.7L172.3,1563.4L173.6,1560.8L175,1558.8L176.5,1562.8L178,1564.6L179.5,1566.6L181,1568.4L182.4,1571.9L183.8,1574.8L185.5,1578.3L187.2,1579.6L189.5,1568.4L191.8,1556.5L193.6,1556L195.3,1553.1L197.6,1561.1L199.4,1574.8L201.8,1563.4L204.1,1547.3L206.4,1535.8L208.7,1531.2L211,1535.8L212.6,1515L214.2,1510.4L216,1519.6L217.9,1533.5L219.5,1547.3L221.1,1554.2L222.9,1545L224.8,1524.2L226.4,1496.6L228,1493.1L229.9,1510.4L231.7,1498.9L233.3,1515L234.9,1528.9L236.8,1535.8L239.1,1542.7L240.5,1547.3L241.8,1551.9L244.1,1568.4L246.5,1578.5L248.5,1580.3L250.6,1579.6L252.3,1577.4L254.1,1574.8L255.8,1574.7L257.5,1571.6L259.2,1571.6L261,1574.8L262.7,1576.6L264.4,1579.6L266.2,1579.9L267.9,1580.7L269.6,1576L271.3,1571.6L273.1,1566.9L274.8,1563.4L277.1,1568.4L279.4,1561.1L281.7,1565.7L284,1556.5L286.3,1551.9L288.6,1542.7L290.9,1547.3L293.2,1535.8L295.5,1547.3L297.8,1556.5L300.1,1561.1L302.4,1547.3L304.1,1533.5L305.9,1524.2L307.7,1519.6L309.4,1528.9L311,1545L312.8,1554.2L315.1,1556.5L317.4,1563.4L319.7,1571.6L322,1561.1L324.3,1557.7L325.7,1558.6L327.1,1558.8L328.6,1561.7L330.1,1563.4L331.6,1569.7L333.1,1574.8L334.5,1577.2L335.9,1577.3L338.2,1563.4L340.5,1551.9L342.8,1548.4L345.1,1556.5L347.4,1568.4L348.8,1574.9L350.1,1579.6L351.6,1576.3L353.1,1574.8L354.9,1573.3L356.6,1568.4L358.3,1569.8L360,1570L362.4,1577.3L364.1,1578.3L365.8,1579.6L368.1,1580.7L370.4,1580.7L372.7,1579.3L375,1577.3L376.8,1575L378.5,1568.4L380.2,1565.3L381.9,1563.4L384.2,1564.6L386.5,1571.6L388.3,1575.4L390,1577.3L392.3,1576.9L394.6,1578.5L396.9,1579.1L399.2,1580.7L401.1,1578.9L403.1,1578.9L405,1578.5L407.3,1574.8L409.6,1573.2L411.9,1570.5L414.2,1570L416.5,1569.8L418.8,1571.6L420.5,1576.8L422.3,1578.5L424.6,1578.2L426.9,1579.6L429.2,1578.7L431.5,1576.2L433.8,1575.8L436.1,1573.2L438.4,1570.6L440.7,1570L443,1571.4L445.3,1571.6L447.6,1575.6L449.9,1577.3L452.2,1577.2L454.5,1574.8L456.8,1571.5L459.1,1570L460.9,1571.2L462.6,1571.6L464.9,1573.2L467.2,1577.3L469.1,1579.1L471,1580.2L472.9,1579.6L474.9,1580.1L476.8,1578.1L478.7,1578.5L481,1574.6L483.3,1571.6L485.6,1572.1L487.9,1573.2L490.2,1573.9L492.5,1574.8L494.8,1573.1L497.1,1573.2L499.4,1574.5L501.8,1577.3L504.1,1576.6L506.4,1576.2L508.7,1573.9L511,1568.4L513.3,1568.2L515.6,1565.7L517.9,1563.4L519.6,1566.2L521.3,1568.4L523.6,1572.6L525.9,1574.8L528.2,1576.8L530.6,1577.3L532.9,1577.4L535.2,1574.8L536.8,1575.3L538.4,1572.2L540,1571.6L541.9,1574.8L543.8,1575.3L545.7,1574.1L547.6,1576.2L550,1574.1L552.3,1576.1L554.6,1574.8L556.9,1575.9L559.2,1574.6L561.5,1574.8L563.4,1572.7L565.3,1574.2L567.2,1571.6L569.5,1573.6L571.8,1574.8L574.1,1575.9L576.5,1578.5L578.4,1577.4L580.3,1577.8L582.2,1577.3L584.5,1575.3L586.8,1573.2L589.1,1565.7L590.5,1561.2L591.9,1558.8L594.2,1556L596.5,1561.1L598,1566.7L599.5,1571.6L601.2,1575.4L602.9,1576.2L604.9,1576.1L606.8,1576.6L608.7,1578.5L610.6,1577.6L612.5,1576.1L614.5,1574.8L616.4,1575.8L618.3,1575.1L620.2,1574.8L622.5,1576.3L624.8,1578.5L626.8,1577.8L628.7,1577.3L630.6,1577.3L632.5,1576.7L634.4,1575.6L636.4,1573.2L638.3,1573.8L640.2,1574.7L642.1,1573.2L644,1573.1L646,1571.8L647.9,1571.6L649.8,1571.1L651.7,1573.4L653.6,1574.8L655.4,1572.6L657.1,1568.4L658.8,1567L660.6,1566.9L662.9,1566.9L665.2,1570L667.1,1568.8L669,1571.8L670.9,1571.6L672.8,1571.1L674.8,1574.7L676.7,1574.8L679,1575.1L681.3,1576.2L683,1570.9L684.7,1568.4L686.5,1566.9L688.2,1565.7L689.9,1567.5L691.7,1570L694,1572.3L696.3,1571.6L698.6,1570.9L700.9,1570L702.6,1572.3L704.3,1576.2L706.6,1574.8L708.9,1571.6L711.2,1570L713.5,1568.4L715.9,1567.7L718.2,1568.4L720.5,1567.7L722.8,1564.6L725.1,1565.6L727.4,1565.7L729.7,1568L732,1568.4L734.3,1568.9L736.6,1570L738.3,1569L740,1568.4L741.8,1565.9L743.5,1562.3L745.2,1560.9L747,1558.8L748.7,1561L750.4,1563.4L752.1,1565.5L753.9,1568.4L756.2,1570.3L758.5,1571.6L760.8,1574.6L763.1,1577.3L765.4,1577.1L767.7,1574.8L769.4,1570.7L771.2,1568.4L772.9,1568.6L774.6,1566.9L776.3,1568.9L778.1,1571.6L779.8,1574L781.5,1577.3L783.2,1578L785,1576.2L786.7,1572.2L788.4,1568.4L790.2,1565.4L791.9,1562.3L794.2,1561.1L795.9,1564.5L797.6,1565.7L799.4,1568L801.1,1571.6L803.4,1574.1L805.7,1574.8L807.6,1575.8L809.6,1575.6L811.5,1576.2L813.4,1575.4L815.3,1577.9L817.2,1577.3L819.2,1578.2L821.1,1575.9L823,1576.2L824.9,1575.4L826.8,1577.3L828.8,1577.3L831.1,1573.3L833.4,1571.6L835.7,1570.5L838,1571.6L840.3,1576.9L842.6,1578.5L844.3,1577.6L846,1574.8L847.5,1571.6L849,1565.7L850.4,1565.3L851.8,1563.4L853.5,1566L855.3,1566.9L857,1566.2L858.7,1563.4L860.1,1560L861.5,1556.5L863.8,1554.2L866.1,1561.1L867.6,1564.1L869.1,1568.4L870.6,1574.8L872.1,1577.3L873.5,1574.9L874.8,1568.4L876.2,1563.4L877.6,1557.7L879.1,1556.5L880.6,1554.2L882.1,1557L883.6,1558.8L885,1564.5L886.4,1571.6L888.7,1576.1L891,1577.3L892.9,1576.9L894.8,1578.2L896.7,1578.5L898.6,1578.3L900.6,1576.9L902.5,1576.2L904.8,1573L907.1,1571.6L908.8,1566.2L910.6,1563.4L912.9,1556.5"/>
<path class="ax" d="M144.9,1396.8V1581.2H913.9V1396.8"/>
<path class="tk" d="M144.9,1531.6h7.6M144.9,1482h7.6M144.9,1432.4h7.6M913.9,1543.4h-9.9M913.9,1506h-9.9M913.9,1469h-9.9M913.9,1432h-9.9M913.9,1396.8h-9.9M220.8,1581.2v-9M297.6,1581.2v-9M374.4,1581.2v-9M451.2,1581.2v-9M528,1581.2v-9M604.8,1581.2v-9M681.6,1581.2v-9M758.4,1581.2v-9M835.2,1581.2v-9"/>
<text class="al" transform="translate(130.9 1543.4) scale(0.97 1)" text-anchor="end">2</text>
<text class="al" transform="translate(130.9 1493.8) scale(0.97 1)" text-anchor="end">4</text>
<text class="al" transform="translate(130.9 1444.2) scale(0.97 1)" text-anchor="end">6</text>
<text class="al" transform="translate(927.9 1558.6) scale(0.97 1)">10</text>
<text class="al" transform="translate(927.9 1483.8) scale(0.97 1)">30</text>
<text class="al" transform="translate(927.9 1411.7) scale(0.97 1)">50</text>
<rect class="bx" x="404.6" y="1434.1" width="176.6" height="42.6"/>
<text class="bl" transform="translate(490.5 1468.3) scale(0.945 1)" text-anchor="middle">50 dB SPL</text>
<text class="nt" transform="translate(721.5 1501) scale(0.985 1)">0.89</text>
</g>
<g id="A_bt70">
<path class="g" d="M159.6,1927.4L159.6,1926.7L161.9,1911.7L164.2,1888.7L166.5,1874.9L168.8,1877.2L171.1,1879.5L173.4,1884.1L176.9,1881.8L180.3,1886.4L183.8,1888.7L188.4,1886.4L193,1882.9L196.5,1870.2L198.8,1835.7L201.1,1789.6L203.4,1766.6L205.7,1755L209.1,1752.7L212.6,1762L214.9,1773.5L217.2,1801.1L219.5,1835.7L221.8,1861L225.3,1874.9L228.7,1870.2L231,1858.7L233.3,1853L235.6,1861L237.9,1874.9L241.4,1881.8L246,1885.2L250.6,1888.7L255.2,1891L259.8,1888.7L264.4,1886.4L269,1884.1L273.6,1870.2L275.9,1824.2L278.2,1778.1L280.1,1763.1L282.4,1768.9L285.2,1778.1L288.6,1796.5L290.9,1824.2L293.2,1851.8L296.7,1870.2L300.1,1865.6L302.4,1857.6L304.7,1863.3L307.1,1879.5L310.5,1884.1L314,1888.7L318.6,1893.3L322,1879.5L324.8,1867.9L327.8,1874.9L331.2,1879.5L335.9,1884.1L340.5,1885.2L345.1,1879.5L348.5,1847.2L350.8,1778.1L353.1,1745.8L355.4,1759.6L358.9,1778.1L362.4,1780.4L364.7,1789.6L367,1824.2L370,1840.3L372.7,1828.8L375,1812.6L377.3,1810.3L380.8,1824.2L384.2,1819.6L387.7,1808L391.2,1801.1L394.6,1812.6L398.1,1831.1L401.5,1824.2L405,1801.1L407.7,1787.3L410.7,1798.8L414.2,1808L417.6,1801.1L421.1,1778.1L423.9,1764.3L425.7,1762L429.2,1771.2L432.6,1778.1L434.9,1808L437.2,1835.7L439.5,1861L443,1870.2L448.8,1863.3L453.4,1861L459.1,1865.6L462.6,1879.5L467.2,1881.8L472.9,1888.7L478.7,1889.8L483.3,1884.1L486.8,1870.2L489.8,1861L492.5,1874.9L496,1884.1L500.6,1879.5L504.1,1861L506.4,1812.6L508.7,1766.6L511,1762L514.4,1789.6L517.9,1842.6L521.3,1865.6L524.8,1870.2L529.4,1863.3L534,1851.8L537.5,1843.8L540,1844.9L540.7,1856.4L543,1863.3L546.5,1874.9L550,1891L553.4,1887.5L556.4,1886.4L558.7,1897.9L561,1916.3L562.6,1926.7L562.6,1927.4Z"/>
<path class="t" d="M145.1,1925.6L146.8,1925.9L148.6,1926.8L150.4,1926.9L152.3,1926.9L154.2,1926.9L156.1,1926.8L157.9,1924.3L159.6,1920.7L161.3,1918.5L163,1915.9L164.8,1915.2L166.5,1917.5L168,1922.4L169.5,1924.5L170.9,1919.8L172.3,1911.7L174.6,1902.5L176.9,1888.7L179.2,1870.2L181.5,1854.1L183.8,1847.2L186.1,1844.9L187.9,1854.1L189.5,1864.5L191.8,1861L194.1,1851.8L196.5,1844.9L198.8,1841.4L200.4,1856.4L202.2,1812.6L204.1,1773.5L205.7,1750.4L207.3,1741.2L209.1,1755L210.7,1757.3L212.6,1801.1L214.2,1842.6L216,1835.7L217.9,1824.2L219.5,1820.7L220.6,1840.3L222.5,1851.8L224.3,1870.2L226.4,1893.3L228.7,1914.3L231,1907.1L233.3,1881.8L235.6,1870.2L237.9,1871.4L240.2,1888.7L242.5,1911.7L244,1916.8L245.5,1924.5L246.9,1922.8L248.3,1917.5L249.7,1911L251.1,1907.1L252.6,1904.9L254.1,1901.4L255.8,1903.1L257.5,1902.5L259.2,1901.5L261,1897.9L263.3,1904.8L264.8,1907.7L266.3,1909.4L267.6,1906.4L269,1902.5L270.8,1902.9L272.5,1903.7L274.8,1893.3L276.4,1847.2L278.2,1812.6L280.1,1789.6L281.7,1776.9L283.5,1774.6L285.2,1789.6L287,1824.2L288.6,1851.8L290.2,1874.9L292.5,1879.5L294.8,1872.6L297.1,1881.8L299.4,1893.3L301.3,1914.3L303.6,1920.7L305.9,1897.9L308.2,1884.1L310.5,1886.4L312.8,1902.5L315.1,1923.3L316.5,1924.5L317.9,1924.5L319.4,1919.4L320.9,1911.7L322.4,1904.8L323.9,1897.9L325.3,1894.2L326.6,1888.7L328.9,1879.5L331.2,1871.4L333.1,1881.8L335.4,1893.3L337.7,1881.8L340,1888.7L342.3,1893.3L344.6,1907.1L346.9,1909.4L348.5,1881.8L350.1,1835.7L352,1789.6L353.8,1770L355.4,1768.9L357.1,1789.6L358.4,1824.2L360,1861L362.4,1881.8L364.7,1872.6L367,1867.9L369.3,1888.7L371.6,1904.8L373.9,1909.4L376.2,1893.3L378.5,1881.8L380.8,1879.5L383.1,1877.2L385.4,1893.3L387.7,1888.7L390,1874.9L392.3,1867.9L394.6,1858.7L396.9,1851.8L399.2,1865.6L401.5,1874.9L403.8,1881.8L406.1,1865.6L408.4,1851.8L410.7,1849.5L413,1847.2L414.7,1865.6L416.5,1881.8L418.8,1884.1L420.6,1847.2L422.3,1811.5L424.6,1810.3L426.9,1819.6L429.2,1824.2L430.8,1861L432.6,1886.4L434.9,1874.9L437.2,1865.6L439.5,1879.5L441.8,1897.9L444.1,1911.7L445.5,1916.6L446.9,1923.3L448.4,1925.8L449.9,1926.8L452.2,1893.3L453.8,1847.2L456.1,1835.7L457.6,1834.6L459.1,1835.7L460.3,1870.2L462.1,1911.7L463.5,1919.9L464.9,1925.6L466.6,1926.6L468.3,1926.9L470.6,1926.1L472.9,1924.5L475.3,1926L477.6,1925.6L479.9,1924.4L482.2,1922.2L483.9,1916.9L485.6,1914.3L487,1910.4L488.4,1907.1L490.2,1893.3L492.5,1889.8L493.9,1891.6L495.3,1891L497.1,1907.1L499.4,1914.3L501.2,1911.8L502.9,1911.7L504.5,1870.2L506.4,1824.2L508.2,1789.6L510.5,1767.7L512.8,1766.6L514.4,1801.1L516,1847.2L517.9,1893.3L520.2,1914.3L521.9,1920.1L523.6,1923.3L525.9,1923.9L528.2,1924.5L530.6,1922.5L532.9,1917.5L534.6,1909.7L536.3,1904.8L538.2,1898L540,1893.3L541.4,1867.9L543,1874.9L545.3,1893.3L547.6,1911.7L549.4,1917.6L551.1,1923.3L553.4,1924.5L555.7,1926.8L557.8,1926.9L559.9,1926.9L561.9,1926.8L564,1926.9L566.1,1926.9L568.4,1926.6L570.7,1926.9L573,1926.9L575.3,1926.6L577.6,1926.9L579.9,1926.9L582.2,1926.9L584.5,1926.9L586.8,1926.9L589.1,1926.9L591.4,1926.9L593.7,1926.9L595.5,1924.9L597.2,1920.7L598.9,1920.7L600.6,1917.5L602.4,1920.8L604.1,1922.2L606.4,1924.2L608.7,1924.5L610.6,1925.5L612.5,1925L614.5,1925.2L616.8,1924.6L619.1,1926.8L621.4,1925.6L623.3,1925.4L625.2,1924.4L627.1,1923.8L629.1,1923.5L631,1921.9L632.9,1920.7L635.2,1920.7L637.5,1922.1L639.8,1921.4L641.7,1923.5L643.7,1924.3L645.6,1924.5L647.5,1925.9L649.4,1924.9L651.3,1925.6L653.1,1923L654.8,1919.1L657.1,1918.4L659.4,1916.9L661.7,1916.9L664,1920.1L666.3,1923.8L668.6,1924.5L670.9,1923.9L673.2,1923.8L675.1,1924L677.1,1924.3L679,1924.5L681.3,1925L683.6,1925.2L685.9,1925.6L687.6,1924.3L689.4,1922.2L691.3,1922.6L693.2,1921.9L695.1,1922.2L697.4,1924.8L699.7,1925.6L702,1925.7L704.3,1925.3L706.6,1924.5L708.9,1923.6L711.2,1920.1L713.2,1920.9L715.1,1920.1L717,1917.5L719.3,1917.9L721.6,1920.7L723.9,1923.4L726.2,1924.5L728.5,1922.6L730.8,1921.4L733.1,1918.8L735.4,1919.1L737.7,1920.9L740,1923.3L742,1924.6L743.9,1923.8L745.8,1925.6L748.1,1924.6L750.4,1920.7L752.5,1918.4L754.6,1916.9L756.5,1919.6L758.5,1922.2L760.4,1924.3L762.3,1924.8L764.2,1925.6L766.2,1925.2L768.1,1924.9L770,1924.5L772.3,1922.7L774.6,1920.1L776.9,1918.8L779.2,1916.9L781.5,1919.8L783.8,1920.7L786.1,1924.5L788.4,1925.6L790.4,1926.5L792.5,1926.1L794.5,1925.5L796.5,1926.8L798.8,1926.1L801.1,1926.9L803.4,1925.1L805.7,1925.6L808,1924.1L810.3,1920.1L812.1,1918.1L813.8,1917.5L815.7,1920.6L817.7,1922.2L819.5,1922.6L821.2,1924L823,1925.6L825.3,1925.9L827.6,1925.1L829.9,1924.5L831.8,1922.6L833.7,1920.9L835.7,1920.7L837.4,1919.4L839,1916.6L840.7,1915.9L842.8,1916L844.9,1919.1L846.8,1919.3L848.7,1916.3L850.6,1917.5L852.4,1916.1L854.1,1912.9L855.8,1912.3L857.6,1911.7L859.3,1914.4L861,1914.3L863.3,1922.2L865.6,1923.7L867.9,1924L870.2,1923.3L872.5,1922.9L874.8,1922.4L877.1,1922.2L879.1,1920.9L881,1920L882.9,1920.7L884.6,1918.6L886.4,1917.5L888.7,1917.7L891,1919.1L893.3,1922.7L895.6,1923.3L897.5,1922.1L899.4,1920.7L901.3,1920.7L903.6,1919.6L905.9,1919.1L908.2,1920.7L910.6,1923.3"/>
<path class="ax" d="M144.9,1743V1927.4H913.9V1743"/>
<path class="tk" d="M144.9,1876.8h7.6M144.9,1826.2h7.6M144.9,1775.6h7.6M913.9,1869.6h-9.9M913.9,1812.2h-9.9M913.9,1753.4h-9.9"/>
<text class="al" transform="translate(927.9 1885.2) scale(0.97 1)">200</text>
<text class="al" transform="translate(927.9 1828.4) scale(0.97 1)">400</text>
<text class="al" transform="translate(927.9 1771.8) scale(0.97 1)">600</text>
<rect class="bx" x="523.6" y="1778.1" width="176.6" height="42.6"/>
<text class="bl" transform="translate(609.5 1812.3) scale(0.945 1)" text-anchor="middle">70 dB SPL</text>
<text class="nt" transform="translate(721.5 1777.5) scale(0.985 1)">12.66 kHz</text>
<text class="nt" transform="translate(721.5 1848.7) scale(0.985 1)">0.91</text>
</g>
<g id="A_bt60">
<path class="g" d="M160.7,2133.4L160.7,2132.7L164.2,2120L167.6,2114.3L172.3,2115.4L176.9,2116.6L181.5,2115.4L186.1,2117.7L193,2118.9L198.8,2117.7L201.1,2076.2L202.7,2018.6L204.5,1961L205.7,1948.4L207.3,1972.6L209.1,1995.6L211.4,2011.7L213.7,2030.2L217.2,2053.2L220.6,2076.2L223.4,2090.1L226.4,2103.9L229.9,2108.5L233.3,2103.9L236.8,2106.2L241.4,2113.1L246,2117.7L252.9,2118.9L259.8,2117.7L266.7,2117.7L273.6,2115.4L276.4,2076.2L278.7,2030.2L281,1995.6L284,1984.1L287.5,2018.6L290.9,2057.8L294.4,2085.5L297.8,2103.9L301.3,2108.5L303.6,2103.9L306.4,2113.1L310.5,2117.7L316.3,2118.9L320.9,2115.4L324.3,2109.7L327.8,2113.1L331.2,2116.6L338.2,2117.7L345.1,2117.7L347.8,2076.2L350.1,2007.1L352.4,1961L353.8,1951.8L355.4,1968L358.9,1995.6L362.4,2030.2L365.8,2057.8L370.4,2067L375,2070.5L378.5,2068.2L381.9,2076.2L386.5,2078.6L391.2,2073.9L395.8,2069.3L400.4,2057.8L403.8,2041.7L406.1,2030.2L408,2020.9L409.6,2034.8L412.4,2048.6L415.3,2057.8L418.8,2041.7L421.6,2007.1L423.9,1979.5L425.7,1974.9L428,1984.1L430.8,2014L433.8,2048.6L436.8,2067L439.5,2085.5L443,2108.5L446.5,2117.7L449.9,2103.9L453.4,2090.1L456.8,2087.8L460.3,2099.3L463.7,2115.4L469.5,2118.9L476.4,2120L483.3,2116.6L486.8,2110.8L489.8,2107.4L492.5,2113.1L497.1,2120L502.9,2117.7L505.9,2087.8L508.2,2030.2L511,1988.7L513.7,1988.7L516.7,2041.7L519.7,2099.3L522.5,2115.4L527.1,2110.8L531.7,2106.2L536.3,2102.7L540,2103.9L540.7,2103.9L543,2110.8L547.6,2117.7L552.3,2120L555.7,2117.7L558,2122.3L561.5,2129.2L566.1,2132.7L566.1,2133.4Z"/>
<path class="t" d="M145.1,2099.3L146.9,2113.1L149.2,2123.5L150.9,2128.3L152.7,2130.5L155,2130L157.3,2131.6L159.6,2131.1L161.9,2130.5L163.6,2128.4L165.3,2128.2L167.1,2126.5L168.8,2123.5L170.5,2121.4L172.3,2120.3L174,2122.5L175.7,2123.5L177.4,2126.8L179.2,2129.3L180.9,2127L182.6,2126.7L184.4,2123.9L186.1,2121.9L188.4,2120.6L190.7,2120.3L193,2119L195.3,2117.7L197.4,2119.3L199.4,2121.9L201.1,2076.2L202.7,2030.2L204.5,1995.6L206.4,1977.2L208.7,1976L210.3,1979.5L211.9,2007.1L213.3,2048.6L214.9,2018.6L216.5,2039.4L218.3,2032.5L220.2,2041.7L221.8,2064.7L223.4,2085.5L225.3,2097L227.1,2117.7L229.4,2131.6L230.8,2131.6L232.2,2129.3L234.5,2113.1L236.8,2108.5L239.1,2107.4L241.4,2115.4L243.7,2129.3L245.4,2130.5L247.1,2131.6L248.9,2129.4L250.6,2129.3L252.9,2129.9L255.2,2130.5L257.5,2132.1L259.8,2131.6L262.1,2130.1L264.4,2126.7L266.2,2123.9L267.9,2120.3L269.6,2122.1L271.3,2123.5L272.7,2121.3L274.1,2120.3L275.9,2099.3L277.8,2053.2L279.6,2007.1L281.7,1972.6L283.5,1956.4L285.2,1954.1L286.3,1972.6L287.9,2018.6L289.3,2046.3L291.6,2053.2L293.2,2067L294.8,2085.5L296.7,2094.7L298.5,2113.1L300.8,2126.7L302.4,2129.4L304.1,2131.6L305.9,2127.1L307.7,2123.5L309.1,2123.9L310.5,2126.7L312.2,2130.4L314,2131.6L315.7,2131.2L317.4,2128.2L319.7,2125.7L322,2123.5L324.3,2124.4L326.6,2123.5L328.9,2121.4L331.2,2117.7L333,2118.9L334.7,2123.5L336.4,2127.6L338.2,2128.2L339.9,2130.4L341.6,2131.6L343.3,2132.9L345.1,2132.8L347.4,2099.3L349.2,2053.2L351.1,2007.1L353.1,1979.5L355.4,1971.4L357.7,1976L359.4,2007.1L360.7,2041.7L362.4,2080.9L364.7,2076.2L367,2065.9L369.3,2076.2L371.6,2099.3L373.9,2120.3L376.2,2123.5L378.5,2108.5L380.8,2099.3L383.1,2103.9L385.4,2113.1L387.7,2110.8L390,2099.3L392.3,2080.9L394.6,2067L396.9,2062.4L399.2,2067L401.5,2080.9L403.8,2092.4L406.1,2076.2L408.4,2048.6L410.7,2046.3L413,2060.1L415.3,2080.9L417.6,2097L420,2085.5L421.6,2041.7L423.4,1995.6L425.3,1981.8L427.6,1991L429.4,2014L431.5,2053.2L433.1,2090.1L435.4,2071.6L437.7,2067L439.5,2087.8L441.8,2113.1L444.1,2131.6L446.5,2131L448.8,2131.6L451.1,2113.1L452.4,2104.2L453.8,2094.7L456.1,2084.3L458.4,2083.2L460.7,2094.7L462.6,2117.7L464.9,2131.6L467.2,2131.9L469.5,2132.8L471.8,2132.9L474.1,2132.9L476.4,2132.9L478.7,2132.3L481,2132.9L483.3,2132.8L485.6,2130.6L487.9,2129.3L490.2,2117.7L491.6,2117L493,2114.3L494.5,2115.3L496,2117.7L498.3,2126.7L500.6,2132.8L502.3,2131.4L504.1,2131.6L505.9,2099.3L507.7,2053.2L509.6,2007.1L511.4,1982.9L513.3,1984.1L515.1,1995.6L516.7,2041.7L518.3,2087.8L520.2,2115.4L521.9,2121.7L523.6,2129.3L525.9,2130.3L528.2,2131.6L530.2,2132.3L532.1,2129.7L534,2130.5L536,2131.7L538,2130.4L540,2130.5L541.9,2120.3L544.2,2114.3L546.5,2116.6L548.8,2129.3L550.5,2131.5L552.3,2131.6L554.6,2132.2L556.9,2129.6L559.2,2130.5L561.5,2132L563.8,2130.7L566.1,2131.6L568.4,2130.9L570.7,2131.1L573,2132.9L575.3,2132.8L577.6,2132.9L579.9,2132.7L582.2,2131.8L584.5,2132.1L586.8,2132L589.1,2132.9L591.4,2131.4L593.7,2132.8L596,2131.2L598.3,2129.3L600.6,2129.4L602.9,2130.5L604.9,2130L606.8,2131L608.7,2132.8L610.6,2132.3L612.5,2130.3L614.5,2128.2L616.2,2125.1L617.9,2123.5L619.7,2126.2L621.4,2126.7L623.7,2128.1L626,2128.2L628.3,2128.6L630.6,2128.8L632.9,2130.5L635.2,2131.2L637.5,2132.2L639.8,2131.6L642.1,2132.9L644.4,2132.3L646.7,2132.9L649,2132.1L651.3,2131.4L653.6,2131.9L655.9,2129.8L658.2,2130.5L660.6,2129.2L662.9,2130.5L665.2,2128.3L667.5,2129.3L669.8,2129.9L672.1,2128.5L674.4,2127.5L676.7,2128.2L679,2127.6L681.3,2126.7L683.6,2129L685.9,2130.5L688.2,2131.1L690.5,2132.5L692.8,2131.9L695.1,2132.8L697.4,2131.8L699.7,2131.8L702,2132.9L704.3,2132.9L706.6,2132.9L708.9,2132L711.2,2132.9L713.5,2131.5L715.9,2131.6L718.2,2131.1L720.5,2131L722.8,2129.3L725.1,2128.5L727.4,2128.2L729.7,2128.2L732,2129L734.3,2130.5L736.6,2130.7L738.9,2129.9L741.2,2129.3L743.5,2129L745.8,2127.3L748.1,2126.7L750.4,2126.1L752.7,2128.2L755,2128.2L757.3,2130.6L759.6,2130.5L761.9,2127.8L764.2,2126.7L766,2127.7L767.7,2126.1L770,2127.6L772.3,2130.5L774.3,2131.6L776.3,2131.6L778.4,2132.4L780.4,2132.8L782.4,2132.9L784.4,2131.4L786.4,2130.8L788.4,2131.6L790.4,2129.8L792.3,2130.2L794.2,2128.2L795.9,2128.1L797.6,2125.1L799.4,2128.2L801.1,2128.2L803,2129.8L804.9,2130.1L806.9,2131.6L809.2,2129.8L811.5,2128.2L813.2,2126.8L814.9,2126.7L817.2,2129.3L819.5,2130.5L821.5,2130.6L823.4,2132L825.3,2131.6L827.6,2129.4L829.9,2128.2L832.2,2128.3L834.5,2129.3L836.4,2129.6L838.4,2132.6L840.3,2132.8L842.6,2131.1L844.9,2130.5L847.2,2131.2L849.5,2129.3L851.4,2130.5L853.3,2130.5L855.3,2131.6L857.6,2132.9L859.9,2132.6L862.2,2132.8L864.1,2131.3L866,2132.4L867.9,2130.5L870.2,2128.9L872.5,2126.7L874.3,2124.9L876,2123.5L878.3,2123.6L880.6,2125.1L882.9,2126.8L885.2,2128.2L887.1,2128.1L889,2129.6L891,2130.5L892.9,2129L894.8,2126.9L896.7,2126.7L898.5,2122.9L900.2,2121.9L901.9,2122.6L903.6,2123.5L905.9,2130.5L908.2,2130.1L910.6,2131.6"/>
<path class="ax" d="M144.9,1949V2133.4H913.9V1949"/>
<path class="tk" d="M144.9,2082.8h7.6M144.9,2032.2h7.6M144.9,1981.6h7.6M913.9,2096.6h-9.9M913.9,2063.5h-9.9M913.9,2028h-9.9M913.9,1993h-9.9M913.9,1960h-9.9"/>
<text class="al" transform="translate(927.9 2113.5) scale(0.97 1)">100</text>
<text class="al" transform="translate(927.9 2044.6) scale(0.97 1)">300</text>
<text class="al" transform="translate(927.9 1976.6) scale(0.97 1)">500</text>
<rect class="bx" x="523.6" y="1985.1" width="176.6" height="42.6"/>
<text class="bl" transform="translate(609.5 2019.3) scale(0.945 1)" text-anchor="middle">60 dB SPL</text>
<text class="nt" transform="translate(721.5 2053.8) scale(0.985 1)">0.95</text>
</g>
<g id="A_bt50">
<path class="g" d="M146.9,2339.7L146.9,2335.2L158.4,2332.9L174.6,2331.8L190.7,2332.9L198.8,2332.9L200.6,2282.2L202.2,2213.1L203.8,2167L205.2,2154.4L206.8,2178.6L209.1,2213.1L211.9,2247.7L214.9,2282.2L218.3,2309.9L221.8,2326L226.4,2330.6L231,2327.2L234.5,2326L237.9,2329.5L243.7,2331.8L255.2,2331.8L266.7,2330.6L273.6,2328.3L275.9,2293.8L278.2,2247.7L281,2224.6L284,2222.3L287.5,2254.6L290.9,2291.5L294.4,2314.5L297.8,2326L301.3,2328.3L304.1,2326L307.1,2330.6L315.1,2331.8L324.3,2330.6L331.2,2329.5L340.5,2331.8L346.2,2331.8L348.1,2282.2L350.1,2224.6L352,2185.5L353.1,2176.3L354.7,2201.6L357.7,2220L361.2,2259.2L364.7,2291.5L368.1,2305.3L371.6,2309.9L375,2311.1L378.5,2308.7L381.9,2314.5L385.4,2315.7L388.8,2311.1L392.3,2307.6L395.8,2312.2L399.2,2314.5L401.5,2305.3L403.8,2293.8L406.1,2282.2L408,2276.5L410,2286.9L413,2300.7L416.5,2309.9L419.3,2293.8L421.6,2247.7L423.9,2208.5L425.3,2199.3L426.9,2210.8L429.9,2236.2L432.6,2273L436.1,2291.5L439.5,2305.3L443,2321.4L447.6,2328.3L451.1,2321.4L454.5,2318L459.1,2318L462.6,2323.7L467.2,2330.6L474.1,2332.9L483.3,2331.8L490.2,2328.3L496,2330.6L502.9,2331.8L505.9,2293.8L507.7,2247.7L509.6,2223.5L512.1,2231.6L515.6,2259.2L518.3,2305.3L521.3,2328.3L525.9,2330.6L530.6,2326L535.2,2323.7L540,2322.6L540.7,2324.9L544.2,2328.3L547.6,2331.8L552.3,2335.2L556.9,2338.7L556.9,2339.7Z"/>
<path class="t" d="M145.1,2334.2L146.8,2334L148.6,2333.6L150.4,2332.6L152.7,2335.1L155,2336.5L157.3,2337.1L159.6,2337.6L161.9,2336.3L164.2,2334.2L166.5,2334.9L168.8,2336.5L170.7,2336.6L172.6,2336.6L174.6,2336.5L176.5,2335.7L178.4,2337.5L180.3,2337.6L182.2,2337.4L184.2,2337.6L186.1,2338.8L188,2337.1L189.9,2335.5L191.8,2335.3L194.1,2334.7L196.5,2336.5L197.9,2337.2L199.4,2335.3L201.1,2293.8L202.7,2247.7L204.5,2201.6L206.4,2171.6L208,2167L209.8,2169.3L211.4,2201.6L213.3,2236.2L215.1,2263.8L217.2,2291.5L219.5,2309.9L221.8,2326.2L224.1,2336.5L226.4,2336.9L228.7,2338.8L230.6,2339.2L232.5,2337.4L234.5,2337.6L236.8,2337.7L239.1,2335.9L241.4,2336.5L243.7,2337.7L246,2338.5L248.3,2337.6L250.2,2336.9L252.1,2336.3L254.1,2336.5L256.4,2335.1L258.7,2334.2L260.6,2334.5L262.5,2331.5L264.4,2332.6L266.3,2331L268.3,2332.2L270.2,2331L272.1,2329.7L274.1,2327.8L275.9,2300.7L277.8,2263.8L279.6,2236.2L281.7,2223.5L284,2221.2L285.6,2224.6L287,2254.6L288.6,2277.6L290.2,2291.5L292.1,2303L294.4,2319.1L296.7,2332.6L298.4,2334.2L300.1,2337.6L302.4,2338.7L304.7,2338.8L307.1,2336.4L309.4,2335.3L311.1,2332.2L312.8,2331L314.5,2330.8L316.3,2334.2L318,2334.8L319.7,2336.5L322,2337.8L324.3,2337.6L326.6,2335.4L328.9,2334.2L330.7,2334.6L332.4,2332.6L334.1,2333.4L335.9,2335.3L338.2,2336.7L340.5,2338.8L342.4,2338.4L344.3,2339.2L346.2,2339.2L348.1,2305.3L349.7,2263.8L351.5,2224.6L353.4,2208.5L355.4,2205.1L357.3,2210.8L358.9,2236.2L360.5,2277.6L362.4,2305.3L364.7,2303L367,2297.2L369.3,2298.4L370.9,2312.2L372.7,2326.2L375,2335.3L377.3,2336.6L379.6,2338.8L381.9,2337.4L384.2,2337.6L386,2335.6L387.7,2334.2L389.4,2333.4L391.2,2329.4L392.9,2329.9L394.6,2327.8L396.3,2331.5L398.1,2335.3L399.8,2337.1L401.5,2337.6L403.8,2323.7L406.1,2305.3L408.4,2291.5L410.7,2283.4L413,2291.5L415.3,2305.3L417.6,2321.4L420,2323.7L421.6,2293.8L423.4,2247.7L425.3,2215.4L427.6,2212L429.9,2217.7L431.5,2247.7L433.1,2286.9L434.9,2303L437.2,2296.1L439.5,2303L441.8,2316.8L444.1,2332.6L445.9,2334.8L447.6,2338.8L449.9,2338L452.2,2339.2L453.8,2320.3L455.7,2319.5L457.6,2320.4L459.5,2319.4L461.4,2320.3L463,2338.8L465.2,2339L467.3,2339.2L469.5,2339.2L471.8,2339.2L474.1,2339.2L476.4,2338.8L478.7,2337.1L481,2338.2L483.3,2336.5L485.6,2335.2L487.9,2334.2L489.7,2334.7L491.4,2332.6L493.7,2334.9L496,2336.5L497.9,2338L499.8,2338.4L501.8,2339.2L503.5,2338.7L505.2,2337.6L506.8,2293.8L508.7,2247.7L510.5,2232.7L511.9,2232.6L513.3,2231.6L515.6,2240.8L517,2282.2L518.6,2319.1L520,2326.8L521.3,2335.3L523.3,2337.7L525.2,2337.6L527.1,2338.8L529.4,2337.5L531.7,2338.2L534,2337.6L536,2338.5L538,2336.1L540,2336.5L541.8,2336.1L543.6,2335.3L545.3,2335.3L547.6,2336.2L550,2335L552.3,2336.5L554.6,2334.4L556.9,2332.6L559.2,2331.9L561.5,2332L563.8,2334.7L566.1,2335.8L568.4,2337.1L570.7,2335.9L573,2337.2L575.3,2336.4L577.6,2338L579.9,2337.6L582.2,2337.7L584.5,2338.4L586.8,2337.4L589.1,2337.6L591.4,2338.7L593.7,2338.4L596,2338.7L598.3,2338.1L600.6,2337.9L602.9,2337.2L605.3,2336.9L607.6,2337.6L609.9,2339.2L612.2,2338.2L614.5,2337.8L616.8,2338.8L619.1,2338.8L621.4,2338L623.7,2337.6L626,2336.7L628.3,2333.3L630.6,2334.2L632.9,2332L635.2,2334.9L637.5,2336.5L639.8,2335L642.1,2334.2L644.4,2332.7L646.7,2330L648.5,2330.5L650.2,2331L652.5,2335.3L654.8,2336.5L656.8,2336.9L658.8,2337L660.8,2336.9L662.9,2338.1L665.2,2338.2L667.5,2337.8L669.8,2338.8L672.1,2337.6L674.4,2336.4L676.7,2336.2L679,2337.5L681.3,2336.5L683.6,2337L685.9,2336.4L688.2,2335.3L689.9,2334.7L691.7,2332L693.4,2331.8L695.1,2330L697.4,2333L699.7,2334.2L702,2335.7L704.3,2334.9L706.6,2335.8L708.9,2335L711.2,2336.8L713.5,2335.3L715.9,2335.4L718.2,2335.5L720.5,2334.9L722.8,2335.6L725.1,2334.1L727.4,2334.2L729.7,2332.2L732,2332L734.3,2333.2L736.6,2331L738.9,2332.8L741.2,2334.2L743.5,2335.2L745.8,2332.5L748.1,2333.3L750.4,2331.9L752.7,2331L755,2329.2L757.3,2330L759.6,2330.3L761.9,2333.3L764.2,2332.5L766.5,2334.7L768.8,2335.3L771.2,2335L773.5,2336.8L775.8,2335.8L778.1,2334.3L780.4,2334.9L782.7,2334.9L785,2334L787.3,2334.5L789.6,2334.2L791.9,2335.1L794.2,2335.8L796.5,2335.3L798.8,2336.7L801.1,2335.1L803.4,2335.8L805.7,2336.5L808,2335.1L810.3,2336.5L812.6,2337L814.9,2336L817.2,2337.6L819.5,2336.5L821.8,2336.7L824.1,2335.8L826.5,2335.9L828.8,2334.6L831.1,2334.9L833.4,2335.8L835.7,2334.1L838,2335.3L840.3,2335.1L842.6,2334.2L844.3,2331L846,2331L847.8,2328.7L849.5,2329.4L851.2,2331.7L852.9,2332.6L854.7,2334.7L856.4,2336.5L858.1,2336.3L859.9,2334.2L861.4,2331.5L862.9,2326.2L864.2,2322.2L865.6,2320.3L867,2323L868.4,2324.9L869.9,2329.7L871.4,2334.2L873.7,2334.9L876,2337.6L877.9,2337.4L879.8,2337.9L881.8,2338.8L884.1,2336.2L886.4,2335.3L888.7,2332.6L891,2331L892.7,2329.1L894.4,2329.4L896.2,2329.9L897.9,2332.6L899.6,2336.1L901.3,2337.6L903.3,2339L905.2,2337L907.1,2338.1L909.4,2337.9L911.7,2336.5"/>
<path class="ax" d="M144.9,2155.3V2339.7H913.9V2155.3"/>
<path class="tk" d="M144.9,2288.5h7.6M144.9,2237.3h7.6M144.9,2186.1h7.6M913.9,2288h-9.9M913.9,2236.2h-9.9M913.9,2185.8h-9.9M220.8,2339.7v-9M297.6,2339.7v-9M374.4,2339.7v-9M451.2,2339.7v-9M528,2339.7v-9M604.8,2339.7v-9M681.6,2339.7v-9M758.4,2339.7v-9M835.2,2339.7v-9"/>
<text class="al" transform="translate(130.9 2299.9) scale(0.97 1)" text-anchor="end">2</text>
<text class="al" transform="translate(130.9 2248.7) scale(0.97 1)" text-anchor="end">4</text>
<text class="al" transform="translate(130.9 2197.5) scale(0.97 1)" text-anchor="end">6</text>
<text class="al" transform="translate(927.9 2304.7) scale(0.97 1)">100</text>
<text class="al" transform="translate(927.9 2254.2) scale(0.97 1)">200</text>
<text class="al" transform="translate(927.9 2202.8) scale(0.97 1)">300</text>
<rect class="bx" x="523.6" y="2191.6" width="176.6" height="42.6"/>
<text class="bl" transform="translate(609.5 2225.8) scale(0.945 1)" text-anchor="middle">50 dB SPL</text>
<text class="nt" transform="translate(721.5 2259.9) scale(0.985 1)">0.96</text>
</g>
<g id="B_tsv70">
<path class="g" d="M1232.2,410.9L1232.2,409.7L1243.7,406.2L1252.9,402.8L1259.8,399.3L1266.7,398.9L1273.6,400.5L1280.6,403.9L1287.5,402.8L1294.4,400.5L1303.6,399.3L1312.8,400L1319.7,402.8L1326.6,406.2L1335.9,407.4L1342.8,403.9L1349.7,401.2L1357.7,400.5L1364.7,402.8L1370.4,404.4L1379.6,403.5L1386.5,404.4L1393.5,407.4L1402.7,409.7L1462.6,409.7L1469.5,401.6L1478.7,399.3L1490.2,398.2L1499.4,397L1508.7,395.9L1520.2,397L1531.7,398.2L1540,398.2L1547.6,397L1556.9,395.9L1566.1,394.7L1575.3,391.3L1582.2,386.7L1589.1,380.9L1593.7,377.4L1597.2,374L1599.5,362.5L1601.8,330.2L1604.1,284.1L1606.4,245L1608.7,225.4L1611,238L1613.3,251.9L1616.8,261.1L1620.2,272.6L1623.7,278.4L1627.1,283L1630.6,288.7L1634.1,295.6L1636.4,304.9L1638,318.7L1639.8,339.4L1642.1,357.9L1645.6,374L1649,380.9L1652.5,385.5L1655.9,382.1L1659.4,376.3L1662.9,374L1667.5,376.3L1672.1,379.7L1676.7,383.2L1681.3,386.7L1685.9,389L1691.7,392.4L1697.4,397L1704.3,399.3L1710.1,402.8L1714.7,406.2L1720.5,409.7L1720.5,410.9Z"/>
<path class="t" d="M1145.1,408.6L1146.8,408.2L1148.6,408.4L1150.4,407.5L1152.1,406.2L1153.8,401.9L1155.6,402.3L1157.3,405.1L1159.6,409.8L1161.3,409.3L1163,406.3L1165.3,406.8L1167.6,406.6L1170,406.8L1172.3,405.8L1174.6,405.9L1176.9,407.1L1179.2,406.8L1181.5,405.5L1183.8,405.4L1186.1,402.9L1188.1,401L1190.1,402.4L1192.1,401.9L1194.1,401.9L1196.1,402.8L1198,405.6L1199.9,405.1L1201.6,405.9L1203.4,407.5L1205.1,402.7L1206.8,397.1L1208.5,394.1L1210.3,392.9L1212,396.5L1213.7,400.3L1215.5,399.3L1217.2,397.1L1218.9,389.5L1220.6,383.2L1222.9,378.6L1224.7,373.5L1226.4,369.4L1227.9,372.7L1229.4,374L1230.8,369.2L1232.2,365.2L1233.5,370.1L1234.9,374L1236.4,377.1L1237.9,380.9L1239.7,386.9L1241.4,391.3L1243.1,388.3L1244.8,386.7L1246.6,382.8L1248.3,379.7L1250,382.7L1251.8,384.4L1253.5,379.1L1255.2,374L1257.5,360.2L1259.4,349.1L1260.7,352.4L1262.1,353.2L1264.4,352.1L1266.3,364.8L1267.6,370.1L1269,376.3L1271.3,383.2L1273.6,400.3L1275.4,396.8L1277.1,393.6L1278.8,389.1L1280.6,385.5L1282.3,383.7L1284,380.9L1285.7,375L1287.5,368.2L1289.2,367.8L1290.9,367.1L1293.2,376.3L1295,382L1296.7,387.8L1299,391.3L1301.3,385.5L1302.7,384.8L1304.1,382.1L1305.6,377.3L1307.1,371.7L1308.8,374.1L1310.5,376.3L1312.2,376.3L1314,374L1315.7,369.3L1317.4,365.9L1319.7,374L1321.5,375.4L1323.2,378.6L1324.9,380.9L1326.6,380.9L1328.4,385.5L1330.1,392.4L1332.4,395.9L1334.1,387.8L1335.9,379.7L1338.2,377.4L1340.5,385.5L1342.8,395.9L1345.1,376.3L1347.4,330.2L1349.2,272.6L1350.8,226.5L1353.1,225.4L1355.4,228.8L1357.7,261.1L1360,295.6L1362.4,311.8L1364.7,334.8L1367,364.8L1369.3,391.3L1371.6,392.4L1373.9,376.3L1375.6,365.8L1377.3,353.2L1379.1,347.8L1380.8,340.6L1383.1,344L1385.4,355.6L1387.1,361.5L1388.8,367.1L1390.6,375L1392.3,383.2L1394.6,394.7L1396.3,388.7L1398.1,380.9L1399.8,377.5L1401.5,375.1L1403.2,380L1405,383.2L1406.7,388.1L1408.4,392.4L1410.2,395.3L1411.9,398.7L1413.6,397.7L1415.3,394.7L1417.1,392.9L1418.8,392.4L1420.5,385L1422.3,376.3L1424,364.1L1425.7,354.4L1428,356.7L1430.3,367.1L1432.2,380.9L1433.8,405.1L1435.5,396.2L1437.2,390.1L1439.5,386.7L1441.8,392.4L1444.1,400.3L1445.9,405.2L1447.6,406.3L1449.3,408.7L1451.1,408.6L1452.8,406.3L1454.5,400.3L1456.2,399.1L1458,397.1L1459.7,400.8L1461.4,406.3L1463.7,409.8L1465.5,410.4L1467.2,410.4L1469.5,410.1L1471.8,409.8L1473.5,407.7L1475.3,406.3L1477,403.5L1478.7,400.3L1480.4,397L1482.2,393.6L1483.9,396.3L1485.6,400.3L1487.4,397L1489.1,397.1L1490.8,393.4L1492.5,390.1L1494.8,386.7L1496.6,389.9L1498.3,392.4L1500,395.9L1501.8,400.3L1503.5,405L1505.2,407.5L1506.9,409.9L1508.7,409.8L1511,407.7L1513.3,406.3L1515.6,402L1517.9,397.1L1520.2,393.1L1522.5,390.1L1524.2,390.4L1525.9,392.4L1527.7,390.6L1529.4,386.7L1531.1,389L1532.9,392.4L1534.6,394.3L1536.3,397.1L1538.2,397.9L1540,400.3L1541.9,385.5L1543.6,388.2L1545.3,392.4L1547.1,395.5L1548.8,400.3L1550.5,395.6L1552.3,393.6L1554.6,392.4L1556.9,400.3L1558.6,397.2L1560.3,392.4L1562.6,389.2L1564.9,383.7L1566.7,388.1L1568.4,390.1L1570.1,394.5L1571.8,397.1L1573.6,400.2L1575.3,405.1L1577,407.3L1578.8,408.6L1580.5,402.3L1582.2,397.1L1583.9,394.4L1585.7,390.1L1587.4,389.2L1589.1,389L1591.4,385.3L1593.7,382.7L1596,390.1L1598.3,403.5L1599.7,406.9L1601.1,409.8L1602.6,405.3L1604.1,400.3L1606.4,376.3L1608.7,330.2L1611,284.1L1612.9,253L1614.8,253.5L1616.8,253L1618.6,284.1L1620.2,318.7L1621.8,344L1623.7,350.9L1625.5,339.4L1627.1,325.6L1629.4,339.4L1631.8,350.9L1634.1,353.2L1636.4,364.8L1638.7,376.3L1641,362.5L1643.3,367.1L1644.8,363.2L1646.3,357.9L1647.6,365.3L1649,371.7L1650.4,367.1L1651.8,362.5L1653.3,368L1654.8,374L1657.1,367.1L1659.4,353.2L1661.7,337.1L1664,338.3L1665.6,353.2L1667.5,367.1L1669.8,376.3L1672.1,380.9L1673.8,374.1L1675.5,367.1L1677.8,376.3L1679.6,382.1L1681.3,390.1L1683.6,394.7L1685.9,380.9L1687.6,373.3L1689.4,367.1L1691.7,359L1693.4,362.9L1695.1,364.8L1696.8,361.3L1698.6,357.9L1700.9,362.5L1703.2,374L1704.9,376.7L1706.6,378.6L1708.4,375.4L1710.1,374L1711.8,379.7L1713.5,385.5L1715.9,387.1L1718.2,390.1L1720.5,391.1L1722.8,393.6L1725.1,396.4L1727.4,397.1L1729.7,402.6L1732,405.1L1734.3,406.9L1736.6,409.8L1738.5,410.1L1740.4,409.7L1742.4,408.6L1744.7,407.8L1747,406.3L1748.7,404.3L1750.4,400.3L1752.7,397.1L1754.4,398.6L1756.2,403.5L1757.9,405.6L1759.6,408.6L1761.9,410.1L1764.2,409.8L1766.2,410.4L1768.1,409.6L1770,408.6L1771.7,403.5L1773.5,397.1L1775.2,393.5L1776.9,387.8L1779.2,394.7L1781.5,406.3L1783.2,406.9L1785,408.6L1786.9,408L1788.8,407.1L1790.7,407.5L1792.7,408.6L1794.6,408.5L1796.5,410.4L1798.8,410.4L1801.1,409.8L1803.4,403.5L1805.7,405.2L1808,403.5L1810.3,409.8L1812.6,410.2L1814.9,408.6L1816.7,406.9L1818.4,403.5L1820.3,401.8L1822.2,402.3L1824.1,401.9L1826.5,400.9L1828.8,397.1L1831.1,394.7L1833.4,400.3L1835.7,399.7L1838,401.9L1839.7,406.5L1841.4,409.8L1843.2,407.9L1844.9,408.6L1846.6,405.7L1848.3,405.1L1850.1,408.1L1851.8,409.8L1854.1,408.9L1856.4,408.6L1858.7,407.5L1861,405.1L1863.3,406.6L1865.6,409.8L1867.5,410.4L1869.5,408.4L1871.4,408.6L1873.7,407.3L1876,403.5L1877.9,400.3L1879.8,401.4L1881.8,398.7L1884.1,400.9L1886.4,405.1L1888.7,406.8L1891,409.8L1893.3,408.4L1895.6,408.6L1897.9,406.5L1900.2,403.5L1901.9,401.7L1903.6,401.9L1905.4,405.2L1907.1,408.6L1909.4,410.4L1911.7,409.8"/>
<path class="ax" d="M1144.9,225.6V410.9H1913.9V225.6"/>
<path class="tk" d="M1144.9,368.5h7.6M1144.9,326.1h7.6M1144.9,283.7h7.6M1144.9,241.3h7.6M1913.9,378.8h-9.9M1913.9,347h-9.9M1913.9,314.6h-9.9M1913.9,281.8h-9.9M1913.9,249.4h-9.9"/>
<text class="al" transform="translate(1927.9 390.8) scale(0.97 1)">50</text>
<text class="al" transform="translate(1927.9 326.4) scale(0.97 1)">150</text>
<text class="al" transform="translate(1927.9 261.8) scale(0.97 1)">250</text>
<rect class="bx" x="1160.6" y="236.9" width="176.6" height="42.6"/>
<text class="bl" transform="translate(1246.5 271.1) scale(0.945 1)" text-anchor="middle">70 dB SPL</text>
<text class="nt" transform="translate(1719.5 329.9) scale(0.985 1)">0.65</text>
</g>
<g id="B_tsv60">
<path class="g" d="M1250.6,616.9L1250.6,615.7L1259.8,609.9L1269,607.2L1278.2,608.1L1287.5,611.1L1296.7,608.8L1303.6,606L1310.5,605.3L1317.4,607.6L1324.3,611.1L1333.5,614.1L1342.8,612.2L1349.7,608.8L1356.6,607.2L1363.5,608.8L1370.4,610.4L1379.6,609.5L1388.8,611.1L1398.1,614.5L1411.9,615.7L1471.8,614.5L1478.7,608.8L1485.6,605.3L1492.5,604.2L1499.4,603L1508.7,601.9L1517.9,603L1531.7,604.2L1540,604.2L1543,604.2L1554.6,603L1566.1,599.6L1575.3,596.1L1582.2,591.5L1589.1,585.7L1594.9,583.4L1598.3,580L1600.6,559.2L1602.5,524.7L1604.3,490.1L1606.2,455.6L1608,434.8L1609.4,431.4L1611,441.7L1612.9,455.6L1614.9,469.4L1616.8,476.3L1620.2,480.9L1623.7,484.4L1627.1,490.1L1630.6,497L1634.1,503.9L1636.4,513.2L1638,529.3L1639.8,550L1642.6,568.5L1645.6,580L1649,586.9L1652.5,591.5L1655.9,586.9L1659.4,582.3L1662.9,580L1667.5,582.3L1672.1,585.7L1676.7,589.2L1681.3,592.7L1685.9,595L1691.7,598.4L1697.4,603L1704.3,605.3L1708.9,608.8L1713.5,612.2L1718.2,615.7L1718.2,616.9Z"/>
<path class="t" d="M1145.1,577.7L1146.9,591.5L1148.3,596.1L1149.7,603.1L1151.2,611L1152.7,615.8L1154.4,616.4L1156.1,614.6L1157.9,609.8L1159.6,606.3L1161.3,605.7L1163,603.1L1165.3,603.5L1167.6,603.1L1169.4,607.7L1171.1,609.5L1172.8,612.4L1174.6,614.6L1176.3,613.4L1178,613.5L1180.3,604.7L1182.1,602.5L1183.8,603.1L1186.1,609.5L1188.4,615.8L1190.1,614.9L1191.8,616.4L1194.1,616.3L1196.5,614.6L1198.2,609.5L1199.9,606.3L1202.2,599.6L1203.9,599.5L1205.7,599.6L1207.4,602.2L1209.1,606.3L1210.9,605.6L1212.6,607.9L1214.3,605.4L1216,604.7L1217.8,604.6L1219.5,607.9L1221.2,606.7L1222.9,604.7L1224.7,605.1L1226.4,606.3L1228.1,601.8L1229.9,600.7L1231.6,599.1L1233.3,598.9L1235.6,603.1L1237.9,612.3L1239.7,613.5L1241.4,615.8L1243.7,616.4L1246,616.4L1248.3,616.4L1250.6,614.6L1252.3,611.1L1254.1,603.1L1255.8,599.5L1257.5,595L1259.8,598.4L1262.1,606.3L1263.8,602.8L1265.6,600.7L1267.9,596.1L1270.2,603.1L1272.5,596.1L1274.8,591.5L1277.1,577.7L1279.4,565L1281.7,568.5L1283.3,561.6L1285.2,573.1L1287.5,584.6L1289.8,593.8L1292.1,603.1L1294.4,611.1L1296.7,596.1L1299,582.3L1301.3,573.1L1302.7,572L1304.1,570.8L1305.6,573.3L1307.1,574.2L1309.4,580L1311.7,584.6L1314,577.7L1315.7,575.8L1317.4,571.9L1319.7,577.7L1322,573.1L1324.3,582.3L1326.6,589.2L1328.9,596.1L1330.7,600.2L1332.4,603.1L1334.1,608.1L1335.9,609.5L1338.2,612L1340.5,614.6L1342.2,616L1343.9,616.4L1346.2,603.1L1348.5,570.8L1350.8,536.2L1353.1,508.6L1354.7,497L1357.1,501.6L1358.9,490.1L1360.5,480.9L1362.4,490.1L1364,513.2L1365.8,540.8L1367.6,570.8L1369.3,596.1L1371.6,589.2L1373.9,582.3L1375.6,580L1377.3,580L1379.6,585.7L1381.9,591.5L1384.2,584.6L1386,581.6L1387.7,580L1390,586.9L1392.3,578.8L1394.6,582.3L1396.9,591.5L1399.2,598.4L1401.5,593.8L1403.8,600.7L1406.1,603.1L1408.4,609.5L1410.7,614.6L1412.5,613.4L1414.2,612.3L1415.9,609.7L1417.6,606.3L1419.4,603.2L1421.1,603.1L1422.8,598.8L1424.6,596.1L1426.9,595L1429.2,600.7L1430.9,600.8L1432.6,598.4L1434.4,601.2L1436.1,603.1L1437.8,601.6L1439.5,599.6L1441.3,602.1L1443,603.1L1444.7,600.4L1446.5,599.6L1448.2,601.9L1449.9,606.3L1451.6,610L1453.4,612.3L1455.1,612.2L1456.8,609.5L1458.5,608.3L1460.3,604.7L1462.6,609.5L1464.9,614.6L1466.6,616.3L1468.3,615.8L1470.1,611.7L1471.8,609.5L1473.5,606.2L1475.3,603.1L1477,600.1L1478.7,596.1L1480.4,594L1482.2,593.8L1483.5,592.3L1484.9,589.2L1486.8,585.7L1489.1,593.8L1491.4,600.7L1493.7,609.5L1495.4,611.4L1497.1,614.6L1499.4,606.3L1500.8,602.3L1502.2,599.6L1503.7,601.2L1505.2,603.1L1507.5,611.1L1509.2,613.6L1511,614.6L1512.7,612.8L1514.4,612.3L1516.2,609.8L1517.9,606.3L1519.6,606.4L1521.3,604.7L1523.1,606.7L1524.8,609.5L1526.5,607.9L1528.2,606.3L1530,608.2L1531.7,607.9L1533.4,605.8L1535.2,606.3L1536.8,608.5L1538.4,609.1L1540,607.9L1541.9,601.9L1544.2,600.7L1546.5,601.9L1548.8,609.5L1551.1,614.6L1552.8,609.9L1554.6,606.3L1556.3,605.5L1558,604.7L1559.5,597.8L1561,593.8L1562.4,598.3L1563.8,603.1L1565.5,607.6L1567.2,609.5L1569.5,615.8L1571.8,609.5L1573.6,606.7L1575.3,604.7L1577.6,603.7L1579.9,603.1L1582.2,599.5L1584.5,598.4L1586.8,591.5L1589.1,586.9L1590.5,589.5L1591.9,593.8L1593.4,598.3L1594.9,603.1L1596.6,607.7L1598.3,611.1L1600.6,600.7L1602,599.8L1603.4,598.4L1605.3,582.3L1607.1,559.2L1609.4,554.6L1611,524.7L1612.6,497L1614.5,513.2L1616.3,536.2L1617.9,554.6L1620.2,573.1L1622.5,577.7L1624.8,561.6L1627.1,570.8L1629.4,580L1630.9,581.1L1632.4,583.4L1633.8,578.7L1635.2,575.4L1636.9,575.5L1638.7,573.1L1641,577.7L1643.3,568.5L1645.6,559.2L1647.9,531.6L1649.7,529.3L1651.3,497L1653.6,499.3L1654.8,524.7L1656.4,536.2L1658.7,533.9L1661,545.4L1663.3,547.7L1665.6,568.5L1667.5,591.5L1669.3,600.7L1670.9,582.3L1673.2,577.7L1675.5,582.3L1677.8,568.5L1679.4,547.7L1681.8,546.6L1684.1,559.2L1685.9,573.1L1688.2,584.6L1689.9,582L1691.7,580L1694,577.7L1696.3,589.2L1698.6,596.1L1700.3,596.1L1702,598.4L1704.3,592.7L1706.6,592.9L1708.9,592.7L1711.2,598.4L1713.5,591.5L1715.3,594.6L1717,596.1L1719.3,606.3L1721,611.8L1722.8,614.6L1725.1,616.4L1727.4,616.4L1729.7,614.9L1732,614.6L1734.3,606.3L1736.6,599.6L1738.9,603.1L1741.2,612.3L1742.9,614.4L1744.7,616.4L1746.4,613.3L1748.1,609.5L1750.4,603.1L1752.7,602.5L1755,603.1L1756.8,600.6L1758.5,600.7L1760,598.8L1761.5,598.4L1762.9,601.7L1764.2,603.1L1766.5,611.1L1768.3,613.6L1770,615.8L1771.7,612.5L1773.5,609.5L1775.8,606.3L1778.1,605.1L1780.4,606.3L1782.7,614.6L1784.4,613.8L1786.1,613.5L1787.9,611.4L1789.6,606.3L1791.9,606L1794.2,603.1L1796.5,602.1L1798.8,603.1L1801.1,609.5L1802.8,612.9L1804.6,615.8L1806.5,616.4L1808.4,616.4L1810.3,616.4L1812.2,615.7L1814.2,615.4L1816.1,614.6L1817.8,611.3L1819.5,609.5L1821.8,606.1L1824.1,606.3L1826.5,605.5L1828.8,603.1L1831.1,603.4L1833.4,604.7L1835.7,604.9L1838,607.9L1840.3,610.6L1842.6,612.3L1844.9,613.9L1847.2,613.5L1849.5,614.2L1851.8,614.6L1854.1,614.8L1856.4,614.6L1858.7,606.3L1860.4,603.1L1862.2,601.9L1864.5,606.3L1866.8,613.5L1869.1,614.2L1871.4,615.8L1873.7,614.1L1876,612.3L1877.7,613.7L1879.4,614.6L1881.8,616.2L1884.1,616.4L1886.4,616.1L1888.7,615L1891,614.6L1893.3,614.8L1895.6,614.4L1897.9,612.3L1900.2,613L1902.5,611.1L1904.3,596.1L1905.7,593.5L1907.1,591L1909.4,592.7L1911.7,606.3"/>
<path class="ax" d="M1144.9,432.5V616.9H1913.9V432.5"/>
<path class="tk" d="M1144.9,574.5h7.6M1144.9,532.1h7.6M1144.9,489.7h7.6M1144.9,447.3h7.6M1913.9,576.3h-9.9M1913.9,535.2h-9.9M1913.9,495.6h-9.9M1913.9,455h-9.9"/>
<text class="al" transform="translate(1927.9 590.6) scale(0.97 1)">20</text>
<text class="al" transform="translate(1927.9 549.8) scale(0.97 1)">40</text>
<text class="al" transform="translate(1927.9 510) scale(0.97 1)">60</text>
<text class="al" transform="translate(1927.9 468.2) scale(0.97 1)">80</text>
<rect class="bx" x="1160.6" y="443.4" width="176.6" height="42.6"/>
<text class="bl" transform="translate(1246.5 477.6) scale(0.945 1)" text-anchor="middle">60 dB SPL</text>
<text class="nt" transform="translate(1719.5 535.5) scale(0.985 1)">0.63</text>
</g>
<g id="B_tsv50">
<path class="g" d="M1248.3,823.9L1248.3,822.7L1252.9,815.8L1257.5,816.9L1262.1,821.5L1265.6,814.6L1269,816.9L1273.6,821.5L1299,821.5L1305.9,816.9L1315.1,815.8L1322,818.1L1326.6,821.5L1352,821.5L1356.6,815.8L1363.5,814.6L1368.1,819.2L1372.7,822.7L1462.6,821.5L1467.2,813.5L1471.8,812.3L1476.4,815.8L1485.6,818.1L1494.8,816.9L1504.1,815.8L1513.3,814.6L1522.5,814.6L1531.7,812.3L1540,812.3L1547.6,812.3L1556.9,810L1566.1,807.7L1575.3,803.1L1582.2,798.5L1589.1,792.7L1594.9,789.3L1598.3,784.7L1600.6,766.2L1602.5,731.7L1604.3,697.1L1606.2,662.6L1608,641.8L1609.4,638.4L1611,648.7L1612.9,662.6L1614.9,676.4L1616.8,683.3L1620.2,687.9L1623.7,691.4L1627.1,697.1L1630.6,704L1634.1,710.9L1636.4,720.2L1638,736.3L1639.8,757L1642.6,775.5L1645.6,787L1649,793.9L1652.5,798.5L1655.9,793.9L1659.4,789.3L1662.9,787L1667.5,788.1L1672.1,791.6L1676.7,798.5L1681.3,807.7L1688.2,812.3L1695.1,814.6L1704.3,816.9L1711.2,819.2L1718.2,822.7L1718.2,823.9Z"/>
<path class="t" d="M1145.1,810.1L1146.6,815.3L1148.1,819.3L1149.8,820.9L1151.5,821.6L1153.2,817.8L1155,814.9L1156.7,812.6L1158.4,813.3L1160.2,814.4L1161.9,816.5L1163.6,814.3L1165.3,810.1L1167.1,809.8L1168.8,807.7L1170.5,807.7L1172.3,810.1L1174.6,821.6L1176.9,821.3L1179.2,823.4L1181.5,822.4L1183.8,822.8L1185.5,819.6L1187.2,816.5L1189.5,815.1L1191.8,811.7L1194.1,810.7L1196.5,811.7L1198.2,815.1L1199.9,816.5L1202.2,816.2L1204.5,818.1L1206.8,819.7L1209.1,819.3L1211.4,811.7L1213.2,810.8L1214.9,813.3L1216.6,814.5L1218.3,816.5L1220.1,813.7L1221.8,810.1L1223.8,808.1L1225.7,805.4L1227.2,807.3L1228.7,810.1L1231,816.5L1232.7,817.3L1234.5,814.9L1236.2,816.6L1237.9,819.3L1239.7,820.7L1241.4,820.5L1243.7,820.5L1246,819.3L1248.3,810.1L1250.6,802L1252.3,800.7L1254.1,799.7L1255.8,801.6L1257.5,803.1L1259.4,816.5L1260.7,810.8L1262.1,807.7L1264.2,807.8L1266.3,806.6L1267.6,807.8L1269,810.1L1271.3,820.5L1273.6,819.9L1275.9,819.3L1278.2,820.6L1280.6,820.5L1282.9,821.8L1285.2,822.8L1287.5,820.4L1289.8,819.3L1291.5,816L1293.2,810.1L1295,807.2L1296.7,805.4L1298.4,806.5L1300.1,807.7L1301.9,808.9L1303.6,813.3L1305.3,809.2L1307.1,806.6L1308.8,809.1L1310.5,810.1L1312.8,810.7L1315.1,808.9L1316.8,808.9L1318.6,811.7L1320.3,808.5L1322,805.4L1323.8,803.9L1325.5,800.8L1327.2,799.2L1328.9,798.5L1330.3,800.1L1331.7,803.1L1334,813.3L1335.5,818.8L1337,821.6L1339.3,821.6L1341.6,822.8L1343.9,822.5L1346.2,821.6L1347.9,819.5L1349.7,813.3L1351.4,807.9L1353.1,805.4L1354.9,802.4L1356.6,800.8L1358.9,807.7L1360.7,813.3L1363,805.4L1364.4,805.3L1365.8,803.1L1367.2,805.3L1368.6,807.7L1370.4,816.5L1372.7,821.6L1375,820.5L1377.3,819.3L1379.6,819L1381.9,818.1L1383.7,820.4L1385.4,820.5L1387.1,820.8L1388.8,819.3L1390.6,818.7L1392.3,814.9L1394,814.6L1395.8,813.3L1397.5,815.4L1399.2,818.1L1400.9,820.9L1402.7,821.6L1404.4,815.2L1406.1,810.1L1408.4,803.1L1410.7,793.9L1413,799.7L1415.3,807.7L1417.1,808.5L1418.8,810.1L1420.5,808.3L1422.3,807.7L1424,811.7L1425.7,813.3L1427.4,814.1L1429.2,816.5L1430.9,818.5L1432.6,818.1L1434.9,818.5L1437.2,816.5L1439.5,810.1L1440.9,806.2L1442.3,803.1L1444.6,799.7L1446.9,805.4L1449.2,800.8L1450.7,805.8L1452.2,810.1L1454.5,819.3L1456.2,820.5L1458,821.6L1460.3,819.2L1462.6,816.5L1464.9,805.4L1466.3,800.6L1467.6,797.4L1469.1,798.3L1470.6,800.8L1472.1,801.9L1473.6,805.4L1475,806.9L1476.4,807.7L1478.1,807.8L1479.9,810.1L1481.6,813.2L1483.3,813.3L1485.6,815.2L1487.9,814.9L1490.2,812.8L1492.5,813.3L1494.3,816.7L1496,816.5L1497.7,817.3L1499.4,818.1L1501.2,815.4L1502.9,810.1L1504.6,807.4L1506.4,805.4L1508.1,808.7L1509.8,810.1L1511.5,807.7L1513.3,807.7L1515,806.6L1516.7,805.4L1519,803.1L1521.3,807.7L1523.1,811.9L1524.8,813.3L1526.5,817.3L1528.2,818.1L1530,815.5L1531.7,810.1L1533.4,810.1L1535.2,808.9L1536.8,807.8L1538.4,809.9L1540,808.9L1541.2,816.5L1542.7,818.8L1544.2,822.8L1546.1,822.9L1548,823.3L1550,821.6L1552.3,820.5L1554.6,819.3L1556.9,817.4L1559.2,818.1L1561.5,811.7L1563.4,813.3L1565.3,813.3L1567.2,811.7L1569.5,819.3L1571.8,819.1L1574.1,818.1L1575.9,815.2L1577.6,813.3L1579.3,817.1L1581.1,818.1L1583.4,818.3L1585.7,816.5L1587.4,813.9L1589.1,810.1L1591.4,810.9L1593.7,811.7L1595.5,809.1L1597.2,808.9L1598.9,804.8L1600.6,803.1L1602,805.3L1603.4,805.4L1605.7,793.9L1607.6,770.9L1609.4,752.4L1611.5,747.8L1612.7,750.7L1614,752.4L1615.6,770.9L1617.2,791.6L1619.5,787L1621,783.7L1622.5,778.9L1624.3,777.6L1626,776.6L1627.4,777.8L1628.8,780.1L1631.1,789.3L1632.6,792.1L1634.1,797.4L1636.4,791.6L1638.1,785.7L1639.8,780.1L1641.5,772.2L1643.3,766.2L1644.8,756.7L1646.3,747.8L1648.6,729.4L1650.9,713.3L1653.2,697.1L1654.8,694.8L1656.4,708.6L1658.2,727.1L1660.6,747.8L1662.9,761.6L1665.2,747.8L1667.5,751.3L1669.8,753.6L1671.2,750.5L1672.5,745.5L1674.8,757L1676.7,775.5L1678.5,793.9L1680.8,807.7L1682.2,810.4L1683.6,811.7L1685.3,810.5L1687.1,810.1L1688.8,808.7L1690.5,805.4L1692.2,802.2L1694,799.7L1696.3,798.5L1698.6,805.4L1700.3,808.6L1702,810.1L1703.8,809.1L1705.5,806.6L1707.2,809.2L1708.9,810.1L1710.7,813.2L1712.4,816.5L1714.1,815.5L1715.9,813.3L1717.6,816.6L1719.3,820.5L1721.6,821.7L1723.9,821.6L1726.2,820.1L1728.5,819.3L1730.8,820.8L1733.1,822.8L1735.1,822L1737,821.8L1738.9,821.6L1740.6,819.8L1742.4,816.5L1744.1,814.6L1745.8,813.3L1747.5,816.7L1749.3,819.3L1751,820L1752.7,820.5L1754.4,818.3L1756.2,813.3L1757.7,811L1759.2,808.9L1760.6,810.2L1761.9,814.9L1763.7,815.3L1765.4,813.3L1767.1,816.9L1768.8,820.5L1771.2,821.5L1773.5,822.8L1775.4,822.5L1777.3,821.9L1779.2,821.6L1780.9,818.9L1782.7,818.1L1785,818.3L1787.3,820.5L1789.2,822.5L1791.1,822.1L1793,822.8L1795.3,822.7L1797.6,823.2L1800,821.6L1802.3,821.1L1804.6,820.8L1806.9,820.5L1809.2,811.7L1811.5,813L1813.8,809.9L1816.1,811.7L1818.4,820.5L1820.3,821L1822.2,822L1824.1,822.8L1826.1,820.8L1828,820.1L1829.9,818.1L1831.8,818.5L1833.7,815L1835.7,814.9L1837.4,816.3L1839.1,820.5L1841,819.8L1843,821.6L1844.9,821.6L1847.2,821L1849.5,818.1L1851.8,820L1854.1,819.3L1855.8,816.7L1857.6,811.7L1859.5,808.9L1861.5,805.4L1863,809.3L1864.5,811.7L1866.2,817.5L1867.9,821.6L1870.2,819.5L1872.5,816.5L1874.3,811.4L1876,808.9L1878.3,808.2L1880.6,807.3L1882.3,807.5L1884.1,810.1L1886.4,808L1888.7,807.7L1890.4,810.5L1892.1,813.3L1894.4,816L1896.7,819.3L1898.5,821L1900.2,822.8L1902.1,821.7L1904,822.5L1905.9,821.6L1907.9,821.6L1909.8,820.5L1911.7,819.3"/>
<path class="ax" d="M1144.9,639.5V823.9H1913.9V639.5"/>
<path class="tk" d="M1144.9,781h7.6M1144.9,738.6h7.6M1144.9,696.2h7.6M1144.9,653.8h7.6M1913.9,790.8h-9.9M1913.9,758.5h-9.9M1913.9,726.8h-9.9M1913.9,694.8h-9.9M1913.9,662.2h-9.9M1220.8,823.9v-9M1297.6,823.9v-9M1374.4,823.9v-9M1451.2,823.9v-9M1528,823.9v-9M1604.8,823.9v-9M1681.6,823.9v-9M1758.4,823.9v-9M1835.2,823.9v-9"/>
<text class="al" transform="translate(1927.9 804) scale(0.97 1)">5</text>
<text class="al" transform="translate(1927.9 740.2) scale(0.97 1)">15</text>
<text class="al" transform="translate(1927.9 675.7) scale(0.97 1)">25</text>
<rect class="bx" x="1160.6" y="649.4" width="176.6" height="42.6"/>
<text class="bl" transform="translate(1246.5 683.6) scale(0.945 1)" text-anchor="middle">50 dB SPL</text>
<text class="nt" transform="translate(1719.5 742.5) scale(0.985 1)">0.71</text>
</g>
<g id="B_bh70">
<path class="g" d="M1159.6,1169.2L1159.6,1168.7L1165.3,1161.8L1172.3,1157.2L1179.2,1153.7L1183.8,1149.1L1187.2,1135.3L1189.5,1112.2L1191.8,1089.2L1194.1,1112.2L1196.5,1144.5L1198.8,1135.3L1201.1,1103L1203.4,1070.8L1206.8,1050L1210.3,1043.1L1213.7,1040.8L1217.2,1054.6L1219.5,1070.8L1222.9,1043.1L1226.4,1031.6L1229.9,1024.7L1234.5,1024.7L1237.9,1020.1L1240.2,1038.5L1242.5,1066.2L1244.8,1089.2L1247.1,1098.4L1250.6,1096.1L1254.1,1093.8L1257.5,1096.1L1262.1,1098.4L1266.7,1107.6L1271.3,1116.9L1275.9,1112.2L1279.4,1107.6L1282.9,1089.2L1286.3,1066.2L1289.8,1043.1L1293.2,1031.6L1296.7,1027L1300.1,1008.6L1302.4,992.4L1304.7,984.4L1306.4,997L1308.2,1010.9L1310.5,1008.6L1312.8,992.4L1314.7,997L1317,1020.1L1319.3,1033.9L1322,1038.5L1325.5,1031.6L1328.9,1020.1L1331.7,1008.6L1333.5,1015.5L1335.4,1031.6L1337.7,1050L1340.5,1070.8L1343.9,1084.6L1347.4,1093.8L1352,1103L1356.6,1109.9L1361.2,1121.5L1367,1130.7L1371.6,1121.5L1375,1112.2L1378.5,1116.9L1381.9,1126.1L1384.2,1146.8L1386.1,1168.7L1386.1,1169.2Z"/>
<path class="t" d="M1145.1,1133L1146.6,1138L1148.1,1142.2L1149.8,1143.5L1151.5,1146.8L1153.2,1152.5L1155,1158L1156.7,1158.3L1158.4,1161.2L1160.2,1158.7L1161.9,1156.4L1163.6,1151.3L1165.3,1149.1L1167.1,1147.6L1168.8,1145.7L1171.1,1151.4L1172.6,1146.9L1174.1,1139.9L1176.4,1121.5L1178.7,1112.2L1181,1109.9L1183.3,1116.9L1184.9,1144.5L1187.2,1112.2L1188.8,1066.2L1190.7,1020.1L1192.5,1001.6L1194.4,1004L1196,1043.1L1197.6,1089.2L1199.2,1137.6L1201.1,1112.2L1203.4,1077.7L1205.2,1043.1L1207.3,1010.9L1209.1,1031.6L1211,1043.1L1212.6,1015.5L1213.7,1004L1215.3,1031.6L1216.7,1054.6L1218.3,1089.2L1220.2,1119.2L1222.3,1093.8L1224.1,1066.2L1226.4,1031.6L1228.7,1010.9L1230.6,997L1232.2,987.8L1234,1008.6L1235.6,1031.6L1237.9,1029.3L1239.5,1050L1241.4,1070.8L1243.7,1096.1L1246,1130.7L1247.4,1132.4L1248.8,1135.3L1250.3,1128.7L1251.8,1121.5L1254.1,1103L1256.4,1096.1L1258,1093.8L1259.8,1107.6L1262.1,1103L1263.8,1103.9L1265.6,1105.3L1267.9,1121.5L1269.4,1128.5L1270.9,1133L1272.3,1121.6L1273.6,1112.2L1275,1100.3L1276.4,1089.2L1277.9,1087.7L1279.4,1084.6L1281.7,1066.2L1284,1043.1L1286.3,1020.1L1288.6,1008.6L1290.2,997L1291.6,983.2L1293.2,997L1294.8,1020.1L1296.7,1043.1L1298.5,1070.8L1300.1,1052.3L1302,1066.2L1304.1,1059.3L1305.9,1089.2L1307.7,1109.9L1309.1,1104.6L1310.5,1100.7L1312.8,1116.9L1315.1,1112.2L1316.5,1105.9L1317.9,1098.4L1320.2,1070.8L1322,1061.6L1323.6,1054.6L1325.5,1066.2L1327.1,1077.7L1328.9,1066.2L1330.8,1089.2L1332.4,1123.8L1334.2,1089.2L1335.9,1059.3L1337.5,1066.2L1339.3,1077.7L1341.2,1073.1L1342.8,1089.2L1344.6,1121.5L1346.9,1135.3L1349.2,1144.5L1351.5,1123.8L1353.8,1098.4L1355.9,1086.9L1357.7,1084.6L1360,1093.8L1361.7,1116.9L1363.5,1135.3L1365.8,1130.7L1368.1,1139.9L1370.4,1156.4L1371.8,1152.6L1373.2,1146.8L1375,1123.8L1377.3,1108.8L1379.6,1123.8L1381.9,1126.1L1383.8,1146.8L1385.4,1168.7L1387.4,1168.7L1389.4,1168.7L1391.4,1168.6L1393.5,1168.7L1395.8,1168.7L1398.1,1168.7L1400.4,1168.7L1402.7,1168.7L1405,1168.3L1407.3,1168.7L1409.6,1168.4L1411.9,1168.7L1414.2,1168.7L1416.5,1168.7L1418.8,1168.7L1421.1,1168.7L1423.4,1168.6L1425.7,1166.2L1428,1166.5L1430.3,1166.1L1432.6,1166.8L1434.9,1168.7L1437.2,1168.1L1439.5,1168.7L1441.8,1167L1444.1,1167.6L1446.5,1167.2L1448.8,1167.2L1451.1,1168.3L1453.4,1168.7L1455.7,1167.3L1458,1167.3L1460.3,1168.5L1462.6,1167.6L1464.3,1165.6L1466,1164.2L1467.8,1164.8L1469.5,1166.5L1471.8,1165.6L1474.1,1165.3L1476.4,1161.9L1478.7,1161.2L1481,1158.2L1483.3,1158L1485,1154.9L1486.8,1154.9L1488.5,1156.4L1490.2,1158L1492.5,1166.5L1494.8,1166.9L1497.1,1168.7L1499.1,1168.7L1501,1168L1502.9,1166.5L1504.8,1167.4L1506.7,1166.8L1508.7,1167.6L1510.6,1167.4L1512.5,1166L1514.4,1165.3L1516.3,1164.5L1518.3,1162.3L1520.2,1159.6L1521.9,1161.2L1523.6,1164.2L1525.4,1166.1L1527.1,1167.6L1529.4,1166.1L1531.7,1167.2L1534,1166.5L1536,1166.1L1538,1167.5L1540,1167.6L1541.8,1168.2L1543.6,1167L1545.3,1167.6L1547.1,1163.8L1548.8,1159.6L1550.7,1158.9L1552.6,1158L1554.6,1158.9L1556.9,1167.6L1558.2,1162.9L1559.6,1156.4L1561.7,1153.7L1563.8,1152.6L1565.5,1154.6L1567.2,1156.4L1568.8,1167.6L1570.6,1168.4L1572.4,1168.2L1574.1,1167.6L1576.1,1166.3L1578,1167.2L1579.9,1165.3L1582.2,1163.9L1584.5,1163.9L1586.8,1164.2L1589.1,1162.6L1591.4,1160.6L1593.7,1161.2L1595.7,1162L1597.6,1160.5L1599.5,1159.6L1601.4,1159.2L1603.3,1162L1605.3,1162.8L1607.6,1163.2L1609.9,1164.1L1612.2,1165.3L1614.5,1164.3L1616.8,1163.2L1619.1,1162.8L1621.4,1161.9L1623.7,1160L1626,1161.2L1628.3,1161.8L1630.6,1164L1632.9,1164.2L1635.2,1164.3L1637.5,1164.9L1639.8,1166.5L1642.1,1167.9L1644.4,1166L1646.7,1167.6L1649,1167.3L1651.3,1165.3L1653.6,1165.3L1655.6,1163.5L1657.5,1162.4L1659.4,1162.8L1661.7,1150.3L1664,1150.4L1666.3,1150.2L1668.6,1150.3L1670.9,1162.8L1672.8,1165L1674.8,1165.2L1676.7,1165.3L1678.4,1165.4L1680.1,1162.8L1682.4,1151.4L1683.9,1149.1L1685.4,1145.7L1686.8,1146.8L1688.2,1146.8L1689.6,1152.7L1691,1156.4L1693,1158.7L1695.1,1162.8L1697,1163.3L1699,1159.3L1700.9,1159.6L1702.8,1160.1L1704.7,1161.7L1706.6,1162.8L1708.9,1161.4L1711.2,1161.2L1713.5,1160.8L1715.9,1158L1718.2,1161.4L1720.5,1162.8L1722.4,1164.6L1724.3,1165.3L1726.2,1165.3L1728.1,1167.2L1730.1,1165.9L1732,1167.6L1734.3,1166.5L1736.6,1166.4L1738.9,1166.5L1741.2,1163.8L1743.5,1162.8L1745.4,1162.4L1747.3,1163.1L1749.3,1161.2L1751.2,1158.9L1753.1,1159.4L1755,1158L1757.3,1160.2L1759.6,1164.2L1761.9,1165.2L1764.2,1166.5L1766.2,1167.5L1768.1,1166.9L1770,1167.6L1771.9,1166.7L1773.8,1166.8L1775.8,1165.3L1778.1,1165.3L1780.4,1162.8L1782.7,1156.9L1785,1153.7L1786.5,1151.4L1788,1151.4L1789.4,1153.9L1790.7,1156.4L1792.5,1160.9L1794.2,1164.2L1796.1,1163.9L1798,1165.4L1800,1166.5L1801.9,1167.3L1803.8,1166.8L1805.7,1165.3L1808,1163.5L1810.3,1159.6L1812.2,1159.3L1814.2,1156.2L1816.1,1156.4L1818,1155.1L1819.9,1154.1L1821.8,1154.9L1824.1,1156.3L1826.5,1158L1828.8,1161L1831.1,1162.8L1833.4,1161.8L1835.7,1158L1838,1154L1840.3,1152.6L1842.6,1151.4L1844,1153.4L1845.3,1158L1847.4,1157.3L1849.5,1154.9L1851.8,1154.3L1854.1,1151.4L1856.4,1150.3L1858.1,1153.2L1859.9,1156.4L1862.2,1157.5L1864.5,1159.6L1866.4,1158.9L1868.3,1160.8L1870.2,1161.2L1872.2,1162.6L1874.1,1162.6L1876,1164.2L1877.9,1164.9L1879.8,1165.5L1881.8,1165.3L1884.1,1165.6L1886.4,1164.8L1888.7,1162.8L1890,1159.7L1891.4,1154.9L1892.9,1152.9L1894.4,1152.6L1896.2,1153.3L1897.9,1154.9L1900.2,1165.3L1902.5,1167.5L1904.8,1167.6L1907.1,1168.2L1909.4,1166.5L1911.7,1166.5"/>
<path class="ax" d="M1144.9,984.8V1169.2H1913.9V984.8"/>
<path class="tk" d="M1144.9,1119.6h7.6M1144.9,1070h7.6M1144.9,1020.4h7.6M1913.9,1109.7h-9.9M1913.9,1051h-9.9M1913.9,992.4h-9.9"/>
<text class="al" transform="translate(1927.9 1127.2) scale(0.97 1)">5</text>
<text class="al" transform="translate(1927.9 1068.6) scale(0.97 1)">10</text>
<text class="al" transform="translate(1927.9 1009.6) scale(0.97 1)">15</text>
<rect class="bx" x="1404.6" y="1020.5" width="176.6" height="42.6"/>
<text class="bl" transform="translate(1490.5 1054.7) scale(0.945 1)" text-anchor="middle">70 dB SPL</text>
<text class="nt" transform="translate(1719.5 1088.1) scale(0.985 1)">0.88</text>
</g>
<g id="B_bh60">
<path class="g" d="M1151.5,1374.9L1151.5,1374.7L1158.4,1368.9L1165.3,1365.5L1172.3,1362L1179.2,1359.7L1184.9,1357.4L1187.2,1341.3L1189.5,1318.2L1191.8,1299.8L1194.1,1313.6L1196.5,1341.3L1198.8,1350.5L1201.1,1329.8L1203.4,1299.8L1206.8,1276.8L1210.3,1267.6L1213.7,1265.3L1217.2,1276.8L1220.6,1272.2L1224.1,1260.6L1227.6,1249.1L1231,1244.5L1234.5,1239.9L1237.9,1244.5L1240.2,1260.6L1242.5,1279.1L1245.5,1297.5L1248.3,1301L1252.9,1299.8L1257.5,1301L1261,1302.1L1264.4,1306.7L1267.9,1313.6L1272.5,1318.2L1278.2,1320.6L1281.7,1313.6L1284,1295.2L1286.3,1267.6L1288.6,1237.6L1290.9,1221.5L1293.2,1220.3L1296.2,1228.4L1299,1230.7L1301.3,1214.6L1303.6,1196.1L1305.4,1190.4L1307.1,1203L1309.4,1219.2L1311.7,1214.6L1314,1199.6L1315.6,1207.6L1317.9,1230.7L1320.2,1244.5L1323.2,1246.8L1326.2,1239.9L1328.9,1230.7L1331.7,1214.6L1333.5,1219.2L1335.4,1237.6L1337.7,1256L1340,1276.8L1342.3,1295.2L1345.1,1309L1348.5,1322.9L1352,1327.5L1355.4,1329.8L1358.9,1334.4L1362.4,1341.3L1365.8,1345.9L1369.3,1341.3L1372.7,1334.4L1376.2,1332.1L1379.6,1336.7L1383.1,1345.9L1385.4,1362L1387.7,1374.7L1387.7,1374.9Z"/>
<path class="t" d="M1145.1,1373.6L1146.8,1372L1148.6,1374.2L1150.4,1372.5L1152.1,1371.9L1153.8,1368.9L1156.1,1367.1L1158.4,1367.3L1160.7,1368L1163,1370.2L1165.3,1368L1167.6,1368.9L1169.4,1366L1171.1,1362.5L1172.6,1360L1174.1,1358.6L1175.5,1357.5L1176.9,1357.4L1178.2,1360.3L1179.6,1362.5L1181.1,1364.4L1182.6,1364.1L1184.9,1355.1L1187.2,1329.8L1188.8,1295.2L1190.7,1274.5L1193,1272.2L1195.3,1279.1L1197.1,1309L1198.8,1345.9L1200.4,1368.9L1202.7,1341.3L1204.5,1306.7L1206.8,1272.2L1208.7,1244.5L1211,1256L1213.3,1239.9L1214.9,1256L1216.5,1283.7L1218.3,1322.9L1220.2,1352.8L1222.5,1327.5L1224.8,1295.2L1227.1,1260.6L1229.4,1230.7L1231,1210L1232.6,1210L1234.5,1230.7L1236.8,1237.6L1238.6,1249.1L1240.2,1276.8L1241.8,1299.8L1243.7,1329.8L1246,1355.1L1248.3,1359.7L1250,1359.8L1251.8,1357.4L1254.1,1350.5L1256.4,1341.3L1258.7,1339L1261,1345.9L1263.3,1357.4L1264.8,1353.1L1266.3,1350.5L1267.6,1354L1269,1355.1L1271.3,1357.4L1273.6,1345.9L1275,1339.9L1276.4,1334.4L1278.7,1341.3L1281,1327.5L1283.3,1332.1L1285.2,1318.2L1287,1292.9L1288.6,1304.4L1290.2,1288.3L1292.1,1275.6L1293.9,1290.6L1295.5,1313.6L1297.1,1329.8L1299,1304.4L1301.3,1313.6L1303.1,1288.3L1304.7,1295.2L1306.4,1318.2L1308.2,1329.8L1310,1341.3L1311.7,1355.1L1314,1341.3L1316.3,1336.7L1318.6,1329.8L1320.9,1318.2L1322.7,1299.8L1324.3,1287.1L1326.6,1290.6L1328.9,1292.9L1330.8,1313.6L1332.4,1332.1L1334.7,1318.2L1337,1295.2L1339.3,1291.8L1341.6,1299.8L1343.2,1313.6L1345.1,1336.7L1347.4,1357.4L1349.7,1364.1L1351.5,1341.3L1353.1,1321.7L1355.4,1327.5L1356.9,1327.9L1358.4,1329.8L1360,1350.5L1361.7,1373.6L1363.2,1370.6L1364.7,1365.7L1366.4,1362.1L1368.1,1359.7L1369.8,1361.6L1371.6,1362.5L1373.3,1356.4L1375,1350.5L1377.3,1341.3L1379.6,1332.1L1381.9,1341.3L1383.8,1339L1385.4,1359.7L1387,1374.4L1389.2,1374.4L1391.3,1374.1L1393.5,1374.4L1395.8,1374.4L1398.1,1374.4L1400.4,1373.6L1402.7,1373L1405,1372.7L1407.3,1374.1L1409.6,1374.4L1411.9,1373.5L1414.2,1374.4L1415.9,1372.2L1417.6,1368.9L1419.4,1365.9L1421.1,1364.1L1422.8,1366.2L1424.6,1367.3L1426.9,1373.6L1429.2,1374.2L1431.5,1373.6L1433.8,1371L1436.1,1370.2L1438.4,1368.2L1440.7,1365.7L1443,1364.4L1445.3,1362.5L1447.6,1363.3L1449.9,1367.3L1452.2,1370L1454.5,1372.5L1456.4,1374.4L1458.4,1373.8L1460.3,1374.4L1462.6,1373.2L1464.9,1371.3L1467.2,1372.1L1469.5,1370.2L1471.8,1373.2L1474.1,1373.6L1476.4,1373.3L1478.7,1374.4L1481,1371.7L1483.3,1370.2L1485.6,1368.6L1487.9,1368.9L1489.7,1369.4L1491.4,1371.3L1493.1,1369.3L1494.8,1365.7L1497.1,1368.3L1499.4,1367.3L1501.8,1371.4L1504.1,1372.5L1506.4,1371.7L1508.7,1371.3L1511,1370L1513.3,1368.9L1515.6,1367.7L1517.9,1367.3L1520.2,1369.5L1522.5,1368.9L1524.8,1366L1527.1,1365.7L1529.4,1363.6L1531.7,1364.1L1534,1363.4L1536.3,1365.7L1538.2,1366.8L1540,1367.3L1541.5,1366.9L1543,1368.9L1544.8,1363.2L1546.5,1359.7L1548,1359.8L1549.5,1358.6L1550.9,1360.7L1552.3,1364.1L1554,1368.3L1555.7,1372.5L1557.6,1371.2L1559.6,1370.5L1561.5,1371.3L1563.4,1370.4L1565.3,1368.3L1567.2,1367.3L1569.2,1366.4L1571.1,1365.3L1573,1364.1L1575.3,1367.2L1577.6,1367.3L1579.5,1369L1581.4,1370.9L1583.4,1371.3L1585.3,1371.2L1587.2,1373.8L1589.1,1373.6L1591.4,1373.1L1593.7,1373.6L1596,1372.5L1598.3,1373.4L1600.6,1374.2L1602.9,1373.6L1605.3,1372.3L1607.6,1371.3L1609.3,1364.5L1611,1358.6L1612.9,1359L1614.9,1359.6L1616.8,1358.6L1619.1,1371.3L1621.4,1372.4L1623.7,1372.5L1626,1371.2L1628.3,1368.9L1630.6,1364.4L1632.9,1362.5L1635.2,1359.3L1637.5,1357.4L1639.2,1359.4L1641,1362.5L1643.3,1364.8L1645.6,1370.2L1647.5,1370.6L1649.4,1371.6L1651.3,1372.5L1653.6,1371.7L1655.9,1368.9L1657.9,1366L1659.8,1365.2L1661.7,1364.1L1664,1364L1666.3,1362.5L1667.8,1359.3L1669.3,1357.4L1670.7,1356.7L1672.1,1358.6L1673.5,1362.3L1674.8,1368.9L1676.9,1369.9L1679,1371.3L1681.3,1371.6L1683.6,1371.1L1685.9,1372.5L1688.2,1371.6L1690.5,1374.4L1692.8,1373.6L1695.1,1373L1697.4,1373.6L1699.7,1372.5L1702,1373.6L1704.3,1373.4L1706.6,1373.6L1708.9,1370.4L1711.2,1367.3L1713.5,1366.7L1715.9,1367.3L1718.2,1373.6L1720.5,1374.4L1722.8,1371.6L1725.1,1372.5L1727,1372L1728.9,1371.1L1730.8,1370.2L1733.1,1359.7L1734.9,1357.2L1736.6,1356.3L1738.3,1356.7L1740,1358.6L1742.4,1368.9L1744.7,1369.1L1747,1365.7L1748.9,1364.4L1750.8,1365.5L1752.7,1367.3L1754.6,1367.3L1756.6,1365.4L1758.5,1365.7L1760.4,1365.5L1762.3,1362.1L1764.2,1362.5L1766.2,1362.3L1768.1,1361.7L1770,1360.9L1771.9,1361.7L1773.8,1362.3L1775.8,1365.7L1777.7,1367L1779.6,1367.9L1781.5,1368.9L1783.4,1369.9L1785.4,1369.6L1787.3,1371.3L1789.6,1370.8L1791.9,1370.5L1794.2,1368.9L1795.9,1366.6L1797.6,1365.7L1799.3,1357L1801,1355.8L1802.8,1358.1L1804.6,1357L1806.9,1367.3L1809.2,1369.9L1811.5,1370.2L1813.8,1367.9L1816.1,1365.7L1817.8,1362.7L1819.5,1358.6L1821.3,1357.6L1823,1356.3L1824.7,1357.4L1826.5,1358.6L1828.8,1357.7L1831.1,1358.6L1833.4,1361.2L1835.7,1362.5L1838,1366.1L1840.3,1370.2L1842.6,1372L1844.9,1373.6L1847.2,1370.3L1849.5,1368.9L1851.2,1367.8L1852.9,1367.3L1855.3,1369.9L1857.6,1371.3L1859.5,1370.6L1861.4,1369.4L1863.3,1367.3L1865.6,1368.7L1867.9,1371.3L1869.8,1372.5L1871.8,1372.5L1873.7,1372.5L1875.4,1366.8L1877.1,1362.5L1878.9,1362.9L1880.6,1360.9L1882.3,1363.7L1884.1,1367.3L1886.4,1369.1L1888.7,1372.5L1891,1371.1L1893.3,1370.8L1895.6,1371.3L1897.9,1371.1L1900.2,1371.8L1902.5,1372.5L1904.8,1373L1907.1,1372.2L1909.4,1371.3"/>
<path class="ax" d="M1144.9,1190.5V1374.9H1913.9V1190.5"/>
<path class="tk" d="M1144.9,1325.3h7.6M1144.9,1275.7h7.6M1144.9,1226.1h7.6M1913.9,1336h-9.9M1913.9,1300h-9.9M1913.9,1263h-9.9M1913.9,1226.7h-9.9M1913.9,1191.5h-9.9"/>
<text class="al" transform="translate(1927.9 1352.6) scale(0.97 1)">1</text>
<text class="al" transform="translate(1927.9 1278) scale(0.97 1)">3</text>
<text class="al" transform="translate(1927.9 1210.2) scale(0.97 1)">5</text>
<rect class="bx" x="1404.6" y="1227.1" width="176.6" height="42.6"/>
<text class="bl" transform="translate(1490.5 1261.3) scale(0.945 1)" text-anchor="middle">60 dB SPL</text>
<text class="nt" transform="translate(1719.5 1293.5) scale(0.985 1)">0.87</text>
</g>
<g id="B_bh50">
<path class="g" d="M1159.6,1581.2L1159.6,1580.7L1164.2,1572.6L1170,1569.2L1176.9,1568L1181.5,1570.3L1184.2,1561.1L1186.1,1535.8L1187.9,1512.7L1190.2,1502.4L1192.1,1515L1193.9,1542.7L1195.8,1568L1198.1,1563.4L1200.4,1542.7L1202.7,1515L1205,1489.7L1207.3,1473.6L1209.6,1459.7L1211.9,1454L1214.2,1459.7L1216.5,1471.3L1219.5,1481.6L1222.5,1475.9L1225.3,1466.6L1227.6,1455.1L1229.9,1441.3L1232.2,1427.5L1234.5,1419.4L1236.3,1425.2L1238.2,1439L1240,1459.7L1241.8,1478.2L1244.1,1496.6L1246.5,1505.8L1249.4,1508.1L1252.9,1507L1257.5,1507L1261,1508.1L1264.4,1513.9L1267.9,1519.6L1272.5,1524.2L1278.2,1527.7L1281.7,1519.6L1284,1501.2L1286.3,1473.6L1288.6,1443.6L1290.9,1427.5L1293.2,1426.3L1296.2,1434.4L1299,1436.7L1301.3,1420.6L1303.6,1402.1L1305.4,1396.4L1307.1,1409L1309.4,1425.2L1311.7,1420.6L1314,1405.6L1315.6,1413.6L1317.9,1436.7L1320.2,1450.5L1323.2,1452.8L1326.2,1445.9L1328.9,1436.7L1331.7,1420.6L1333.5,1425.2L1335.4,1443.6L1337.7,1462L1340,1482.8L1342.3,1501.2L1345.1,1517.3L1348.5,1531.2L1352,1538.1L1355.4,1541.5L1358.9,1542.7L1362.4,1540.4L1365.3,1547.3L1368.1,1551.9L1370.9,1545L1373.9,1536.9L1376.2,1542.7L1378.5,1551.9L1381.5,1563.4L1385.4,1570.3L1390,1576.1L1393.5,1580.7L1393.5,1581.2Z"/>
<path class="t" d="M1145.1,1568.4L1146.6,1567.1L1148.1,1564.6L1149.8,1566.6L1151.5,1571.6L1153.2,1571.6L1155,1568.4L1157.3,1561.1L1159,1558.8L1160.7,1554.2L1162.5,1552.5L1164.2,1549.6L1166.5,1556.5L1168.8,1564.6L1170.5,1563.7L1172.3,1563.4L1173.6,1560.8L1175,1558.8L1176.5,1562.8L1178,1564.6L1179.5,1566.6L1181,1568.4L1182.4,1571.9L1183.8,1574.8L1185.5,1578.3L1187.2,1579.6L1189.5,1568.4L1191.8,1556.5L1193.6,1556L1195.3,1553.1L1197.6,1561.1L1199.4,1574.8L1201.8,1563.4L1204.1,1547.3L1206.4,1535.8L1208.7,1531.2L1211,1535.8L1212.6,1515L1214.2,1510.4L1216,1519.6L1217.9,1533.5L1219.5,1547.3L1221.1,1554.2L1222.9,1545L1224.8,1524.2L1226.4,1496.6L1228,1493.1L1229.9,1510.4L1231.7,1498.9L1233.3,1515L1234.9,1528.9L1236.8,1535.8L1239.1,1542.7L1240.5,1547.3L1241.8,1551.9L1244.1,1568.4L1246.5,1578.5L1248.5,1580.3L1250.6,1579.6L1252.3,1577.4L1254.1,1574.8L1255.8,1574.7L1257.5,1571.6L1259.2,1571.6L1261,1574.8L1262.7,1576.6L1264.4,1579.6L1266.2,1579.9L1267.9,1580.7L1269.6,1576L1271.3,1571.6L1273.1,1566.9L1274.8,1563.4L1277.1,1568.4L1279.4,1561.1L1281.7,1565.7L1284,1556.5L1286.3,1551.9L1288.6,1542.7L1290.9,1547.3L1293.2,1535.8L1295.5,1547.3L1297.8,1556.5L1300.1,1561.1L1302.4,1547.3L1304.1,1533.5L1305.9,1524.2L1307.7,1519.6L1309.4,1528.9L1311,1545L1312.8,1554.2L1315.1,1556.5L1317.4,1563.4L1319.7,1571.6L1322,1561.1L1324.3,1557.7L1325.7,1558.6L1327.1,1558.8L1328.6,1561.7L1330.1,1563.4L1331.6,1569.7L1333.1,1574.8L1334.5,1577.2L1335.9,1577.3L1338.2,1563.4L1340.5,1551.9L1342.8,1548.4L1345.1,1556.5L1347.4,1568.4L1348.8,1574.9L1350.1,1579.6L1351.6,1576.3L1353.1,1574.8L1354.9,1573.3L1356.6,1568.4L1358.3,1569.8L1360,1570L1362.4,1577.3L1364.1,1578.3L1365.8,1579.6L1368.1,1580.7L1370.4,1580.7L1372.7,1579.3L1375,1577.3L1376.8,1575L1378.5,1568.4L1380.2,1565.3L1381.9,1563.4L1384.2,1564.6L1386.5,1571.6L1388.3,1575.4L1390,1577.3L1392.3,1576.9L1394.6,1578.5L1396.9,1579.1L1399.2,1580.7L1401.1,1578.9L1403.1,1578.9L1405,1578.5L1407.3,1574.8L1409.6,1573.2L1411.9,1570.5L1414.2,1570L1416.5,1569.8L1418.8,1571.6L1420.5,1576.8L1422.3,1578.5L1424.6,1578.2L1426.9,1579.6L1429.2,1578.7L1431.5,1576.2L1433.8,1575.8L1436.1,1573.2L1438.4,1570.6L1440.7,1570L1443,1571.4L1445.3,1571.6L1447.6,1575.6L1449.9,1577.3L1452.2,1577.2L1454.5,1574.8L1456.8,1571.5L1459.1,1570L1460.9,1571.2L1462.6,1571.6L1464.9,1573.2L1467.2,1577.3L1469.1,1579.1L1471,1580.2L1472.9,1579.6L1474.9,1580.1L1476.8,1578.1L1478.7,1578.5L1481,1574.6L1483.3,1571.6L1485.6,1572.1L1487.9,1573.2L1490.2,1573.9L1492.5,1574.8L1494.8,1573.1L1497.1,1573.2L1499.4,1574.5L1501.8,1577.3L1504.1,1576.6L1506.4,1576.2L1508.7,1573.9L1511,1568.4L1513.3,1568.2L1515.6,1565.7L1517.9,1563.4L1519.6,1566.2L1521.3,1568.4L1523.6,1572.6L1525.9,1574.8L1528.2,1576.8L1530.6,1577.3L1532.9,1577.4L1535.2,1574.8L1536.8,1575.3L1538.4,1572.2L1540,1571.6L1541.9,1574.8L1543.8,1575.3L1545.7,1574.1L1547.6,1576.2L1550,1574.1L1552.3,1576.1L1554.6,1574.8L1556.9,1575.9L1559.2,1574.6L1561.5,1574.8L1563.4,1572.7L1565.3,1574.2L1567.2,1571.6L1569.5,1573.6L1571.8,1574.8L1574.1,1575.9L1576.5,1578.5L1578.4,1577.4L1580.3,1577.8L1582.2,1577.3L1584.5,1575.3L1586.8,1573.2L1589.1,1565.7L1590.5,1561.2L1591.9,1558.8L1594.2,1556L1596.5,1561.1L1598,1566.7L1599.5,1571.6L1601.2,1575.4L1602.9,1576.2L1604.9,1576.1L1606.8,1576.6L1608.7,1578.5L1610.6,1577.6L1612.5,1576.1L1614.5,1574.8L1616.4,1575.8L1618.3,1575.1L1620.2,1574.8L1622.5,1576.3L1624.8,1578.5L1626.8,1577.8L1628.7,1577.3L1630.6,1577.3L1632.5,1576.7L1634.4,1575.6L1636.4,1573.2L1638.3,1573.8L1640.2,1574.7L1642.1,1573.2L1644,1573.1L1646,1571.8L1647.9,1571.6L1649.8,1571.1L1651.7,1573.4L1653.6,1574.8L1655.4,1572.6L1657.1,1568.4L1658.8,1567L1660.6,1566.9L1662.9,1566.9L1665.2,1570L1667.1,1568.8L1669,1571.8L1670.9,1571.6L1672.8,1571.1L1674.8,1574.7L1676.7,1574.8L1679,1575.1L1681.3,1576.2L1683,1570.9L1684.7,1568.4L1686.5,1566.9L1688.2,1565.7L1689.9,1567.5L1691.7,1570L1694,1572.3L1696.3,1571.6L1698.6,1570.9L1700.9,1570L1702.6,1572.3L1704.3,1576.2L1706.6,1574.8L1708.9,1571.6L1711.2,1570L1713.5,1568.4L1715.9,1567.7L1718.2,1568.4L1720.5,1567.7L1722.8,1564.6L1725.1,1565.6L1727.4,1565.7L1729.7,1568L1732,1568.4L1734.3,1568.9L1736.6,1570L1738.3,1569L1740,1568.4L1741.8,1565.9L1743.5,1562.3L1745.2,1560.9L1747,1558.8L1748.7,1561L1750.4,1563.4L1752.1,1565.5L1753.9,1568.4L1756.2,1570.3L1758.5,1571.6L1760.8,1574.6L1763.1,1577.3L1765.4,1577.1L1767.7,1574.8L1769.4,1570.7L1771.2,1568.4L1772.9,1568.6L1774.6,1566.9L1776.3,1568.9L1778.1,1571.6L1779.8,1574L1781.5,1577.3L1783.2,1578L1785,1576.2L1786.7,1572.2L1788.4,1568.4L1790.2,1565.4L1791.9,1562.3L1794.2,1561.1L1795.9,1564.5L1797.6,1565.7L1799.4,1568L1801.1,1571.6L1803.4,1574.1L1805.7,1574.8L1807.6,1575.8L1809.6,1575.6L1811.5,1576.2L1813.4,1575.4L1815.3,1577.9L1817.2,1577.3L1819.2,1578.2L1821.1,1575.9L1823,1576.2L1824.9,1575.4L1826.8,1577.3L1828.8,1577.3L1831.1,1573.3L1833.4,1571.6L1835.7,1570.5L1838,1571.6L1840.3,1576.9L1842.6,1578.5L1844.3,1577.6L1846,1574.8L1847.5,1571.6L1849,1565.7L1850.4,1565.3L1851.8,1563.4L1853.5,1566L1855.3,1566.9L1857,1566.2L1858.7,1563.4L1860.1,1560L1861.5,1556.5L1863.8,1554.2L1866.1,1561.1L1867.6,1564.1L1869.1,1568.4L1870.6,1574.8L1872.1,1577.3L1873.5,1574.9L1874.8,1568.4L1876.2,1563.4L1877.6,1557.7L1879.1,1556.5L1880.6,1554.2L1882.1,1557L1883.6,1558.8L1885,1564.5L1886.4,1571.6L1888.7,1576.1L1891,1577.3L1892.9,1576.9L1894.8,1578.2L1896.7,1578.5L1898.6,1578.3L1900.6,1576.9L1902.5,1576.2L1904.8,1573L1907.1,1571.6L1908.8,1566.2L1910.6,1563.4L1912.9,1556.5"/>
<path class="ax" d="M1144.9,1396.8V1581.2H1913.9V1396.8"/>
<path class="tk" d="M1144.9,1531.6h7.6M1144.9,1482h7.6M1144.9,1432.4h7.6M1913.9,1522.6h-9.9M1913.9,1464.3h-9.9M1913.9,1405.6h-9.9M1220.8,1581.2v-9M1297.6,1581.2v-9M1374.4,1581.2v-9M1451.2,1581.2v-9M1528,1581.2v-9M1604.8,1581.2v-9M1681.6,1581.2v-9M1758.4,1581.2v-9M1835.2,1581.2v-9"/>
<text class="al" transform="translate(1927.9 1537.2) scale(0.97 1)">0.5</text>
<text class="al" transform="translate(1927.9 1478.2) scale(0.97 1)">1</text>
<text class="al" transform="translate(1927.9 1418.8) scale(0.97 1)">1.5</text>
<rect class="bx" x="1404.6" y="1434.1" width="176.6" height="42.6"/>
<text class="bl" transform="translate(1490.5 1468.3) scale(0.945 1)" text-anchor="middle">50 dB SPL</text>
<text class="nt" transform="translate(1719.5 1500) scale(0.985 1)">0.83</text>
</g>
<g id="B_bt70">
<path class="g" d="M1163,1927.4L1163,1926.7L1170,1918.6L1176.9,1916.3L1186.1,1917.5L1196.5,1916.3L1198.1,1870.2L1199.9,1824.2L1202.2,1789.6L1204.5,1773.5L1206.8,1768.9L1209.1,1778.1L1211,1812.6L1212.6,1847.2L1214.9,1874.9L1217.2,1897.9L1220.6,1911.7L1225.3,1916.3L1229.9,1914L1234.5,1909.4L1237.9,1908.3L1241.4,1914L1246,1918.6L1252.9,1917.5L1259.8,1916.3L1266.7,1914L1272.5,1907.1L1275.9,1881.8L1278.2,1835.7L1280.6,1801.1L1282.9,1789.6L1285.6,1812.6L1287.9,1851.8L1290.2,1884.1L1293.2,1904.8L1296.7,1914L1301.3,1916.3L1305.9,1914L1310.5,1909.4L1315.1,1914L1322,1914L1326.6,1909.4L1331.2,1911.7L1335.9,1916.3L1341.6,1917.5L1346.2,1911.7L1348.5,1881.8L1350.8,1835.7L1353.1,1805.7L1355.4,1803.4L1357.7,1824.2L1360,1861L1363,1881.8L1367,1891L1371.6,1897.9L1377.3,1900.2L1381.9,1895.6L1386.5,1897.9L1391.2,1899.1L1395.8,1896.7L1400.4,1888.7L1405,1881.8L1409.6,1884.1L1414.2,1891L1417.6,1884.1L1419.3,1835.7L1421.1,1778.1L1422.9,1745.8L1423.9,1743.5L1425.3,1766.6L1426.9,1812.6L1428.5,1858.7L1431.5,1884.1L1434.9,1888.7L1438.4,1897.9L1441.8,1911.7L1445.3,1923.2L1449.9,1916.3L1452.2,1893.3L1454.5,1874.9L1457.5,1870.2L1460.3,1893.3L1462.6,1914L1467.2,1916.3L1474.1,1918.6L1481,1916.3L1487.9,1914L1492.5,1909.4L1497.1,1914L1502.9,1911.7L1506.4,1870.2L1508.7,1812.6L1511,1787.3L1513.3,1789.6L1516,1835.7L1519,1893.3L1522.5,1914L1527.1,1911.7L1531.7,1907.1L1536.3,1904.8L1540,1907.1L1540.7,1909.4L1543,1911.7L1547.6,1915.2L1552.3,1919.8L1556.9,1924.4L1560.3,1926.7L1560.3,1927.4Z"/>
<path class="t" d="M1145.1,1925.6L1146.8,1925.9L1148.6,1926.8L1150.4,1926.9L1152.3,1926.9L1154.2,1926.9L1156.1,1926.8L1157.9,1924.3L1159.6,1920.7L1161.3,1918.5L1163,1915.9L1164.8,1915.2L1166.5,1917.5L1168,1922.4L1169.5,1924.5L1170.9,1919.8L1172.3,1911.7L1174.6,1902.5L1176.9,1888.7L1179.2,1870.2L1181.5,1854.1L1183.8,1847.2L1186.1,1844.9L1187.9,1854.1L1189.5,1864.5L1191.8,1861L1194.1,1851.8L1196.5,1844.9L1198.8,1841.4L1200.4,1856.4L1202.2,1812.6L1204.1,1773.5L1205.7,1750.4L1207.3,1741.2L1209.1,1755L1210.7,1757.3L1212.6,1801.1L1214.2,1842.6L1216,1835.7L1217.9,1824.2L1219.5,1820.7L1220.6,1840.3L1222.5,1851.8L1224.3,1870.2L1226.4,1893.3L1228.7,1914.3L1231,1907.1L1233.3,1881.8L1235.6,1870.2L1237.9,1871.4L1240.2,1888.7L1242.5,1911.7L1244,1916.8L1245.5,1924.5L1246.9,1922.8L1248.3,1917.5L1249.7,1911L1251.1,1907.1L1252.6,1904.9L1254.1,1901.4L1255.8,1903.1L1257.5,1902.5L1259.2,1901.5L1261,1897.9L1263.3,1904.8L1264.8,1907.7L1266.3,1909.4L1267.6,1906.4L1269,1902.5L1270.8,1902.9L1272.5,1903.7L1274.8,1893.3L1276.4,1847.2L1278.2,1812.6L1280.1,1789.6L1281.7,1776.9L1283.5,1774.6L1285.2,1789.6L1287,1824.2L1288.6,1851.8L1290.2,1874.9L1292.5,1879.5L1294.8,1872.6L1297.1,1881.8L1299.4,1893.3L1301.3,1914.3L1303.6,1920.7L1305.9,1897.9L1308.2,1884.1L1310.5,1886.4L1312.8,1902.5L1315.1,1923.3L1316.5,1924.5L1317.9,1924.5L1319.4,1919.4L1320.9,1911.7L1322.4,1904.8L1323.9,1897.9L1325.3,1894.2L1326.6,1888.7L1328.9,1879.5L1331.2,1871.4L1333.1,1881.8L1335.4,1893.3L1337.7,1881.8L1340,1888.7L1342.3,1893.3L1344.6,1907.1L1346.9,1909.4L1348.5,1881.8L1350.1,1835.7L1352,1789.6L1353.8,1770L1355.4,1768.9L1357.1,1789.6L1358.4,1824.2L1360,1861L1362.4,1881.8L1364.7,1872.6L1367,1867.9L1369.3,1888.7L1371.6,1904.8L1373.9,1909.4L1376.2,1893.3L1378.5,1881.8L1380.8,1879.5L1383.1,1877.2L1385.4,1893.3L1387.7,1888.7L1390,1874.9L1392.3,1867.9L1394.6,1858.7L1396.9,1851.8L1399.2,1865.6L1401.5,1874.9L1403.8,1881.8L1406.1,1865.6L1408.4,1851.8L1410.7,1849.5L1413,1847.2L1414.7,1865.6L1416.5,1881.8L1418.8,1884.1L1420.6,1847.2L1422.3,1811.5L1424.6,1810.3L1426.9,1819.6L1429.2,1824.2L1430.8,1861L1432.6,1886.4L1434.9,1874.9L1437.2,1865.6L1439.5,1879.5L1441.8,1897.9L1444.1,1911.7L1445.5,1916.6L1446.9,1923.3L1448.4,1925.8L1449.9,1926.8L1452.2,1893.3L1453.8,1847.2L1456.1,1835.7L1457.6,1834.6L1459.1,1835.7L1460.3,1870.2L1462.1,1911.7L1463.5,1919.9L1464.9,1925.6L1466.6,1926.6L1468.3,1926.9L1470.6,1926.1L1472.9,1924.5L1475.3,1926L1477.6,1925.6L1479.9,1924.4L1482.2,1922.2L1483.9,1916.9L1485.6,1914.3L1487,1910.4L1488.4,1907.1L1490.2,1893.3L1492.5,1889.8L1493.9,1891.6L1495.3,1891L1497.1,1907.1L1499.4,1914.3L1501.2,1911.8L1502.9,1911.7L1504.5,1870.2L1506.4,1824.2L1508.2,1789.6L1510.5,1767.7L1512.8,1766.6L1514.4,1801.1L1516,1847.2L1517.9,1893.3L1520.2,1914.3L1521.9,1920.1L1523.6,1923.3L1525.9,1923.9L1528.2,1924.5L1530.6,1922.5L1532.9,1917.5L1534.6,1909.7L1536.3,1904.8L1538.2,1898L1540,1893.3L1541.4,1867.9L1543,1874.9L1545.3,1893.3L1547.6,1911.7L1549.4,1917.6L1551.1,1923.3L1553.4,1924.5L1555.7,1926.8L1557.8,1926.9L1559.9,1926.9L1561.9,1926.8L1564,1926.9L1566.1,1926.9L1568.4,1926.6L1570.7,1926.9L1573,1926.9L1575.3,1926.6L1577.6,1926.9L1579.9,1926.9L1582.2,1926.9L1584.5,1926.9L1586.8,1926.9L1589.1,1926.9L1591.4,1926.9L1593.7,1926.9L1595.5,1924.9L1597.2,1920.7L1598.9,1920.7L1600.6,1917.5L1602.4,1920.8L1604.1,1922.2L1606.4,1924.2L1608.7,1924.5L1610.6,1925.5L1612.5,1925L1614.5,1925.2L1616.8,1924.6L1619.1,1926.8L1621.4,1925.6L1623.3,1925.4L1625.2,1924.4L1627.1,1923.8L1629.1,1923.5L1631,1921.9L1632.9,1920.7L1635.2,1920.7L1637.5,1922.1L1639.8,1921.4L1641.7,1923.5L1643.7,1924.3L1645.6,1924.5L1647.5,1925.9L1649.4,1924.9L1651.3,1925.6L1653.1,1923L1654.8,1919.1L1657.1,1918.4L1659.4,1916.9L1661.7,1916.9L1664,1920.1L1666.3,1923.8L1668.6,1924.5L1670.9,1923.9L1673.2,1923.8L1675.1,1924L1677.1,1924.3L1679,1924.5L1681.3,1925L1683.6,1925.2L1685.9,1925.6L1687.6,1924.3L1689.4,1922.2L1691.3,1922.6L1693.2,1921.9L1695.1,1922.2L1697.4,1924.8L1699.7,1925.6L1702,1925.7L1704.3,1925.3L1706.6,1924.5L1708.9,1923.6L1711.2,1920.1L1713.2,1920.9L1715.1,1920.1L1717,1917.5L1719.3,1917.9L1721.6,1920.7L1723.9,1923.4L1726.2,1924.5L1728.5,1922.6L1730.8,1921.4L1733.1,1918.8L1735.4,1919.1L1737.7,1920.9L1740,1923.3L1742,1924.6L1743.9,1923.8L1745.8,1925.6L1748.1,1924.6L1750.4,1920.7L1752.5,1918.4L1754.6,1916.9L1756.5,1919.6L1758.5,1922.2L1760.4,1924.3L1762.3,1924.8L1764.2,1925.6L1766.2,1925.2L1768.1,1924.9L1770,1924.5L1772.3,1922.7L1774.6,1920.1L1776.9,1918.8L1779.2,1916.9L1781.5,1919.8L1783.8,1920.7L1786.1,1924.5L1788.4,1925.6L1790.4,1926.5L1792.5,1926.1L1794.5,1925.5L1796.5,1926.8L1798.8,1926.1L1801.1,1926.9L1803.4,1925.1L1805.7,1925.6L1808,1924.1L1810.3,1920.1L1812.1,1918.1L1813.8,1917.5L1815.7,1920.6L1817.7,1922.2L1819.5,1922.6L1821.2,1924L1823,1925.6L1825.3,1925.9L1827.6,1925.1L1829.9,1924.5L1831.8,1922.6L1833.7,1920.9L1835.7,1920.7L1837.4,1919.4L1839,1916.6L1840.7,1915.9L1842.8,1916L1844.9,1919.1L1846.8,1919.3L1848.7,1916.3L1850.6,1917.5L1852.4,1916.1L1854.1,1912.9L1855.8,1912.3L1857.6,1911.7L1859.3,1914.4L1861,1914.3L1863.3,1922.2L1865.6,1923.7L1867.9,1924L1870.2,1923.3L1872.5,1922.9L1874.8,1922.4L1877.1,1922.2L1879.1,1920.9L1881,1920L1882.9,1920.7L1884.6,1918.6L1886.4,1917.5L1888.7,1917.7L1891,1919.1L1893.3,1922.7L1895.6,1923.3L1897.5,1922.1L1899.4,1920.7L1901.3,1920.7L1903.6,1919.6L1905.9,1919.1L1908.2,1920.7L1910.6,1923.3"/>
<path class="ax" d="M1144.9,1743V1927.4H1913.9V1743"/>
<path class="tk" d="M1144.9,1876.8h7.6M1144.9,1826.2h7.6M1144.9,1775.6h7.6M1913.9,1892.9h-9.9M1913.9,1860.7h-9.9M1913.9,1827.6h-9.9M1913.9,1796h-9.9M1913.9,1761.3h-9.9"/>
<text class="al" transform="translate(1927.9 1908) scale(0.97 1)">10</text>
<text class="al" transform="translate(1927.9 1840.8) scale(0.97 1)">30</text>
<text class="al" transform="translate(1927.9 1776.2) scale(0.97 1)">50</text>
<rect class="bx" x="1523.6" y="1778.1" width="176.6" height="42.6"/>
<text class="bl" transform="translate(1609.5 1812.3) scale(0.945 1)" text-anchor="middle">70 dB SPL</text>
<text class="nt" transform="translate(1719.5 1846.4) scale(0.985 1)">0.89</text>
</g>
<g id="B_bt60">
<path class="g" d="M1181.5,2133.4L1181.5,2132.7L1188.4,2126.9L1195.3,2124.6L1199.4,2122.3L1201.1,2076.2L1202.7,2018.6L1204.1,1961L1205.2,1948.4L1206.4,1972.6L1208,2007.1L1210.3,2041.7L1212.6,2067L1214.9,2087.8L1217.2,2103.9L1220.2,2117.7L1224.1,2124.6L1229.9,2125.8L1236.8,2122.3L1243.7,2123.5L1250.6,2124.6L1259.8,2123.5L1266.7,2122.3L1273.6,2120L1276.4,2087.8L1278.7,2041.7L1281,2014L1283.3,2002.5L1285.6,2030.2L1287.9,2067L1290.2,2094.7L1293.2,2113.1L1296.7,2122.3L1301.3,2123.5L1305.9,2120L1310.5,2122.3L1317.4,2124.6L1324.3,2120L1328.9,2115.4L1333.5,2120L1340.5,2123.5L1346.2,2122.3L1348.5,2087.8L1350.8,2030.2L1353.1,1995.6L1355.4,1995.6L1357.7,2030.2L1360,2064.7L1363,2085.5L1365.8,2097L1369.3,2108.5L1372.7,2115.4L1377.3,2108.5L1381.9,2099.3L1386.5,2103.9L1391.2,2106.2L1395.8,2099.3L1400.4,2094.7L1405,2092.4L1409.6,2094.7L1414.2,2097L1417.6,2087.8L1420,2030.2L1421.6,1984.1L1422.9,1954.1L1423.9,1949.5L1425.3,1972.6L1426.9,2007.1L1429.2,2041.7L1432.2,2067L1434.9,2085.5L1438.4,2099.3L1441.8,2117.7L1445.3,2126.9L1449.9,2108.5L1452.9,2090.1L1455.7,2087.8L1459.1,2099.3L1462.6,2117.7L1467.2,2121.2L1474.1,2122.3L1481,2122.3L1486.8,2120L1490.2,2115.4L1493.7,2114.3L1497.1,2120L1502.9,2122.3L1505.9,2087.8L1508.2,2030.2L1510.5,2002.5L1512.8,2007.1L1515.6,2053.2L1518.3,2103.9L1522.5,2122.3L1527.1,2117.7L1530.6,2114.3L1534,2115.4L1537.5,2120L1540,2122.3L1542,2126.6L1544.9,2123.6L1547.9,2126.6L1550.1,2132.4L1550.1,2133.4Z"/>
<path class="t" d="M1145.1,2099.3L1146.9,2113.1L1149.2,2123.5L1150.9,2128.3L1152.7,2130.5L1155,2130L1157.3,2131.6L1159.6,2131.1L1161.9,2130.5L1163.6,2128.4L1165.3,2128.2L1167.1,2126.5L1168.8,2123.5L1170.5,2121.4L1172.3,2120.3L1174,2122.5L1175.7,2123.5L1177.4,2126.8L1179.2,2129.3L1180.9,2127L1182.6,2126.7L1184.4,2123.9L1186.1,2121.9L1188.4,2120.6L1190.7,2120.3L1193,2119L1195.3,2117.7L1197.4,2119.3L1199.4,2121.9L1201.1,2076.2L1202.7,2030.2L1204.5,1995.6L1206.4,1977.2L1208.7,1976L1210.3,1979.5L1211.9,2007.1L1213.3,2048.6L1214.9,2018.6L1216.5,2039.4L1218.3,2032.5L1220.2,2041.7L1221.8,2064.7L1223.4,2085.5L1225.3,2097L1227.1,2117.7L1229.4,2131.6L1230.8,2131.6L1232.2,2129.3L1234.5,2113.1L1236.8,2108.5L1239.1,2107.4L1241.4,2115.4L1243.7,2129.3L1245.4,2130.5L1247.1,2131.6L1248.9,2129.4L1250.6,2129.3L1252.9,2129.9L1255.2,2130.5L1257.5,2132.1L1259.8,2131.6L1262.1,2130.1L1264.4,2126.7L1266.2,2123.9L1267.9,2120.3L1269.6,2122.1L1271.3,2123.5L1272.7,2121.3L1274.1,2120.3L1275.9,2099.3L1277.8,2053.2L1279.6,2007.1L1281.7,1972.6L1283.5,1956.4L1285.2,1954.1L1286.3,1972.6L1287.9,2018.6L1289.3,2046.3L1291.6,2053.2L1293.2,2067L1294.8,2085.5L1296.7,2094.7L1298.5,2113.1L1300.8,2126.7L1302.4,2129.4L1304.1,2131.6L1305.9,2127.1L1307.7,2123.5L1309.1,2123.9L1310.5,2126.7L1312.2,2130.4L1314,2131.6L1315.7,2131.2L1317.4,2128.2L1319.7,2125.7L1322,2123.5L1324.3,2124.4L1326.6,2123.5L1328.9,2121.4L1331.2,2117.7L1333,2118.9L1334.7,2123.5L1336.4,2127.6L1338.2,2128.2L1339.9,2130.4L1341.6,2131.6L1343.3,2132.9L1345.1,2132.8L1347.4,2099.3L1349.2,2053.2L1351.1,2007.1L1353.1,1979.5L1355.4,1971.4L1357.7,1976L1359.4,2007.1L1360.7,2041.7L1362.4,2080.9L1364.7,2076.2L1367,2065.9L1369.3,2076.2L1371.6,2099.3L1373.9,2120.3L1376.2,2123.5L1378.5,2108.5L1380.8,2099.3L1383.1,2103.9L1385.4,2113.1L1387.7,2110.8L1390,2099.3L1392.3,2080.9L1394.6,2067L1396.9,2062.4L1399.2,2067L1401.5,2080.9L1403.8,2092.4L1406.1,2076.2L1408.4,2048.6L1410.7,2046.3L1413,2060.1L1415.3,2080.9L1417.6,2097L1420,2085.5L1421.6,2041.7L1423.4,1995.6L1425.3,1981.8L1427.6,1991L1429.4,2014L1431.5,2053.2L1433.1,2090.1L1435.4,2071.6L1437.7,2067L1439.5,2087.8L1441.8,2113.1L1444.1,2131.6L1446.5,2131L1448.8,2131.6L1451.1,2113.1L1452.4,2104.2L1453.8,2094.7L1456.1,2084.3L1458.4,2083.2L1460.7,2094.7L1462.6,2117.7L1464.9,2131.6L1467.2,2131.9L1469.5,2132.8L1471.8,2132.9L1474.1,2132.9L1476.4,2132.9L1478.7,2132.3L1481,2132.9L1483.3,2132.8L1485.6,2130.6L1487.9,2129.3L1490.2,2117.7L1491.6,2117L1493,2114.3L1494.5,2115.3L1496,2117.7L1498.3,2126.7L1500.6,2132.8L1502.3,2131.4L1504.1,2131.6L1505.9,2099.3L1507.7,2053.2L1509.6,2007.1L1511.4,1982.9L1513.3,1984.1L1515.1,1995.6L1516.7,2041.7L1518.3,2087.8L1520.2,2115.4L1521.9,2121.7L1523.6,2129.3L1525.9,2130.3L1528.2,2131.6L1530.2,2132.3L1532.1,2129.7L1534,2130.5L1536,2131.7L1538,2130.4L1540,2130.5L1541.9,2120.3L1544.2,2114.3L1546.5,2116.6L1548.8,2129.3L1550.5,2131.5L1552.3,2131.6L1554.6,2132.2L1556.9,2129.6L1559.2,2130.5L1561.5,2132L1563.8,2130.7L1566.1,2131.6L1568.4,2130.9L1570.7,2131.1L1573,2132.9L1575.3,2132.8L1577.6,2132.9L1579.9,2132.7L1582.2,2131.8L1584.5,2132.1L1586.8,2132L1589.1,2132.9L1591.4,2131.4L1593.7,2132.8L1596,2131.2L1598.3,2129.3L1600.6,2129.4L1602.9,2130.5L1604.9,2130L1606.8,2131L1608.7,2132.8L1610.6,2132.3L1612.5,2130.3L1614.5,2128.2L1616.2,2125.1L1617.9,2123.5L1619.7,2126.2L1621.4,2126.7L1623.7,2128.1L1626,2128.2L1628.3,2128.6L1630.6,2128.8L1632.9,2130.5L1635.2,2131.2L1637.5,2132.2L1639.8,2131.6L1642.1,2132.9L1644.4,2132.3L1646.7,2132.9L1649,2132.1L1651.3,2131.4L1653.6,2131.9L1655.9,2129.8L1658.2,2130.5L1660.6,2129.2L1662.9,2130.5L1665.2,2128.3L1667.5,2129.3L1669.8,2129.9L1672.1,2128.5L1674.4,2127.5L1676.7,2128.2L1679,2127.6L1681.3,2126.7L1683.6,2129L1685.9,2130.5L1688.2,2131.1L1690.5,2132.5L1692.8,2131.9L1695.1,2132.8L1697.4,2131.8L1699.7,2131.8L1702,2132.9L1704.3,2132.9L1706.6,2132.9L1708.9,2132L1711.2,2132.9L1713.5,2131.5L1715.9,2131.6L1718.2,2131.1L1720.5,2131L1722.8,2129.3L1725.1,2128.5L1727.4,2128.2L1729.7,2128.2L1732,2129L1734.3,2130.5L1736.6,2130.7L1738.9,2129.9L1741.2,2129.3L1743.5,2129L1745.8,2127.3L1748.1,2126.7L1750.4,2126.1L1752.7,2128.2L1755,2128.2L1757.3,2130.6L1759.6,2130.5L1761.9,2127.8L1764.2,2126.7L1766,2127.7L1767.7,2126.1L1770,2127.6L1772.3,2130.5L1774.3,2131.6L1776.3,2131.6L1778.4,2132.4L1780.4,2132.8L1782.4,2132.9L1784.4,2131.4L1786.4,2130.8L1788.4,2131.6L1790.4,2129.8L1792.3,2130.2L1794.2,2128.2L1795.9,2128.1L1797.6,2125.1L1799.4,2128.2L1801.1,2128.2L1803,2129.8L1804.9,2130.1L1806.9,2131.6L1809.2,2129.8L1811.5,2128.2L1813.2,2126.8L1814.9,2126.7L1817.2,2129.3L1819.5,2130.5L1821.5,2130.6L1823.4,2132L1825.3,2131.6L1827.6,2129.4L1829.9,2128.2L1832.2,2128.3L1834.5,2129.3L1836.4,2129.6L1838.4,2132.6L1840.3,2132.8L1842.6,2131.1L1844.9,2130.5L1847.2,2131.2L1849.5,2129.3L1851.4,2130.5L1853.3,2130.5L1855.3,2131.6L1857.6,2132.9L1859.9,2132.6L1862.2,2132.8L1864.1,2131.3L1866,2132.4L1867.9,2130.5L1870.2,2128.9L1872.5,2126.7L1874.3,2124.9L1876,2123.5L1878.3,2123.6L1880.6,2125.1L1882.9,2126.8L1885.2,2128.2L1887.1,2128.1L1889,2129.6L1891,2130.5L1892.9,2129L1894.8,2126.9L1896.7,2126.7L1898.5,2122.9L1900.2,2121.9L1901.9,2122.6L1903.6,2123.5L1905.9,2130.5L1908.2,2130.1L1910.6,2131.6"/>
<path class="ax" d="M1144.9,1949V2133.4H1913.9V1949"/>
<path class="tk" d="M1144.9,2082.8h7.6M1144.9,2032.2h7.6M1144.9,1981.6h7.6M1913.9,2081h-9.9M1913.9,2029h-9.9M1913.9,1975.7h-9.9"/>
<text class="al" transform="translate(1927.9 2096.9) scale(0.97 1)">5</text>
<text class="al" transform="translate(1927.9 2044.6) scale(0.97 1)">10</text>
<text class="al" transform="translate(1927.9 1990.9) scale(0.97 1)">15</text>
<rect class="bx" x="1523.6" y="1985.1" width="176.6" height="42.6"/>
<text class="bl" transform="translate(1609.5 2019.3) scale(0.945 1)" text-anchor="middle">60 dB SPL</text>
<text class="nt" transform="translate(1719.5 2052.5) scale(0.985 1)">0.94</text>
</g>
<g id="B_bt50">
<path class="g" d="M1146.9,2339.7L1146.9,2335.2L1158.4,2331.8L1167.6,2328.3L1176.9,2328.3L1186.1,2329.5L1195.3,2330.6L1199.4,2328.3L1201.1,2282.2L1202.7,2213.1L1204.1,2167L1205.2,2154.4L1206.4,2178.6L1208.2,2213.1L1210.5,2247.7L1213.3,2282.2L1216,2305.3L1219.5,2323.7L1224.1,2330.6L1228.7,2328.3L1232.2,2322.6L1234.5,2321L1237.9,2324.9L1243.7,2329.5L1255.2,2330.6L1266.7,2329.5L1273.6,2327.2L1275.9,2293.8L1278.2,2236.2L1280.1,2194.7L1281,2184.3L1282.4,2208.5L1284.7,2236.2L1287.5,2263.8L1290.2,2291.5L1293.2,2312.2L1296.7,2323.7L1301.3,2327.2L1305.9,2326L1312.8,2327.2L1319.7,2328.3L1324.3,2323.7L1327.1,2321L1330.1,2323.7L1334.7,2328.3L1340.5,2329.5L1346.2,2328.3L1348.1,2282.2L1350.1,2224.6L1352,2197L1353.1,2192.4L1354.7,2213.1L1357.7,2236.2L1360.7,2268.4L1363.5,2291.5L1367,2303L1370.4,2307.6L1373.9,2308.7L1377.3,2303L1379.6,2300.7L1383.1,2305.3L1386.5,2308.7L1390,2311.1L1393.5,2309.9L1396.9,2308.7L1400.4,2298.4L1403.8,2284.6L1406.1,2279.9L1409.6,2282.2L1413,2293.8L1416.5,2305.3L1419.3,2259.2L1421.1,2201.6L1422.9,2160.1L1423.9,2156.7L1425.3,2190.1L1427.6,2236.2L1430.3,2273L1433.8,2293.8L1437.2,2305.3L1441.8,2319.1L1446.5,2328.3L1449.9,2314.5L1452.2,2298.4L1453.8,2294.9L1455.7,2300.7L1458,2316.8L1461.4,2326L1467.2,2328.3L1474.1,2329.5L1481,2327.2L1487.9,2323.7L1492.5,2322.6L1497.1,2324.9L1502.9,2323.7L1505.9,2282.2L1507.7,2224.6L1509.1,2190.1L1510.5,2213.1L1513.3,2247.7L1516.7,2293.8L1520.2,2323.7L1524.8,2326L1529.4,2321.4L1532.9,2319.1L1536.3,2322.6L1540,2326L1542,2326.1L1544.9,2327.6L1549.3,2329.8L1553.7,2333.5L1558.2,2336.4L1558.2,2339.7Z"/>
<path class="t" d="M1145.1,2334.2L1146.8,2334L1148.6,2333.6L1150.4,2332.6L1152.7,2335.1L1155,2336.5L1157.3,2337.1L1159.6,2337.6L1161.9,2336.3L1164.2,2334.2L1166.5,2334.9L1168.8,2336.5L1170.7,2336.6L1172.6,2336.6L1174.6,2336.5L1176.5,2335.7L1178.4,2337.5L1180.3,2337.6L1182.2,2337.4L1184.2,2337.6L1186.1,2338.8L1188,2337.1L1189.9,2335.5L1191.8,2335.3L1194.1,2334.7L1196.5,2336.5L1197.9,2337.2L1199.4,2335.3L1201.1,2293.8L1202.7,2247.7L1204.5,2201.6L1206.4,2171.6L1208,2167L1209.8,2169.3L1211.4,2201.6L1213.3,2236.2L1215.1,2263.8L1217.2,2291.5L1219.5,2309.9L1221.8,2326.2L1224.1,2336.5L1226.4,2336.9L1228.7,2338.8L1230.6,2339.2L1232.5,2337.4L1234.5,2337.6L1236.8,2337.7L1239.1,2335.9L1241.4,2336.5L1243.7,2337.7L1246,2338.5L1248.3,2337.6L1250.2,2336.9L1252.1,2336.3L1254.1,2336.5L1256.4,2335.1L1258.7,2334.2L1260.6,2334.5L1262.5,2331.5L1264.4,2332.6L1266.3,2331L1268.3,2332.2L1270.2,2331L1272.1,2329.7L1274.1,2327.8L1275.9,2300.7L1277.8,2263.8L1279.6,2236.2L1281.7,2223.5L1284,2221.2L1285.6,2224.6L1287,2254.6L1288.6,2277.6L1290.2,2291.5L1292.1,2303L1294.4,2319.1L1296.7,2332.6L1298.4,2334.2L1300.1,2337.6L1302.4,2338.7L1304.7,2338.8L1307.1,2336.4L1309.4,2335.3L1311.1,2332.2L1312.8,2331L1314.5,2330.8L1316.3,2334.2L1318,2334.8L1319.7,2336.5L1322,2337.8L1324.3,2337.6L1326.6,2335.4L1328.9,2334.2L1330.7,2334.6L1332.4,2332.6L1334.1,2333.4L1335.9,2335.3L1338.2,2336.7L1340.5,2338.8L1342.4,2338.4L1344.3,2339.2L1346.2,2339.2L1348.1,2305.3L1349.7,2263.8L1351.5,2224.6L1353.4,2208.5L1355.4,2205.1L1357.3,2210.8L1358.9,2236.2L1360.5,2277.6L1362.4,2305.3L1364.7,2303L1367,2297.2L1369.3,2298.4L1370.9,2312.2L1372.7,2326.2L1375,2335.3L1377.3,2336.6L1379.6,2338.8L1381.9,2337.4L1384.2,2337.6L1386,2335.6L1387.7,2334.2L1389.4,2333.4L1391.2,2329.4L1392.9,2329.9L1394.6,2327.8L1396.3,2331.5L1398.1,2335.3L1399.8,2337.1L1401.5,2337.6L1403.8,2323.7L1406.1,2305.3L1408.4,2291.5L1410.7,2283.4L1413,2291.5L1415.3,2305.3L1417.6,2321.4L1420,2323.7L1421.6,2293.8L1423.4,2247.7L1425.3,2215.4L1427.6,2212L1429.9,2217.7L1431.5,2247.7L1433.1,2286.9L1434.9,2303L1437.2,2296.1L1439.5,2303L1441.8,2316.8L1444.1,2332.6L1445.9,2334.8L1447.6,2338.8L1449.9,2338L1452.2,2339.2L1453.8,2320.3L1455.7,2319.5L1457.6,2320.4L1459.5,2319.4L1461.4,2320.3L1463,2338.8L1465.2,2339L1467.3,2339.2L1469.5,2339.2L1471.8,2339.2L1474.1,2339.2L1476.4,2338.8L1478.7,2337.1L1481,2338.2L1483.3,2336.5L1485.6,2335.2L1487.9,2334.2L1489.7,2334.7L1491.4,2332.6L1493.7,2334.9L1496,2336.5L1497.9,2338L1499.8,2338.4L1501.8,2339.2L1503.5,2338.7L1505.2,2337.6L1506.8,2293.8L1508.7,2247.7L1510.5,2232.7L1511.9,2232.6L1513.3,2231.6L1515.6,2240.8L1517,2282.2L1518.6,2319.1L1520,2326.8L1521.3,2335.3L1523.3,2337.7L1525.2,2337.6L1527.1,2338.8L1529.4,2337.5L1531.7,2338.2L1534,2337.6L1536,2338.5L1538,2336.1L1540,2336.5L1541.8,2336.1L1543.6,2335.3L1545.3,2335.3L1547.6,2336.2L1550,2335L1552.3,2336.5L1554.6,2334.4L1556.9,2332.6L1559.2,2331.9L1561.5,2332L1563.8,2334.7L1566.1,2335.8L1568.4,2337.1L1570.7,2335.9L1573,2337.2L1575.3,2336.4L1577.6,2338L1579.9,2337.6L1582.2,2337.7L1584.5,2338.4L1586.8,2337.4L1589.1,2337.6L1591.4,2338.7L1593.7,2338.4L1596,2338.7L1598.3,2338.1L1600.6,2337.9L1602.9,2337.2L1605.3,2336.9L1607.6,2337.6L1609.9,2339.2L1612.2,2338.2L1614.5,2337.8L1616.8,2338.8L1619.1,2338.8L1621.4,2338L1623.7,2337.6L1626,2336.7L1628.3,2333.3L1630.6,2334.2L1632.9,2332L1635.2,2334.9L1637.5,2336.5L1639.8,2335L1642.1,2334.2L1644.4,2332.7L1646.7,2330L1648.5,2330.5L1650.2,2331L1652.5,2335.3L1654.8,2336.5L1656.8,2336.9L1658.8,2337L1660.8,2336.9L1662.9,2338.1L1665.2,2338.2L1667.5,2337.8L1669.8,2338.8L1672.1,2337.6L1674.4,2336.4L1676.7,2336.2L1679,2337.5L1681.3,2336.5L1683.6,2337L1685.9,2336.4L1688.2,2335.3L1689.9,2334.7L1691.7,2332L1693.4,2331.8L1695.1,2330L1697.4,2333L1699.7,2334.2L1702,2335.7L1704.3,2334.9L1706.6,2335.8L1708.9,2335L1711.2,2336.8L1713.5,2335.3L1715.9,2335.4L1718.2,2335.5L1720.5,2334.9L1722.8,2335.6L1725.1,2334.1L1727.4,2334.2L1729.7,2332.2L1732,2332L1734.3,2333.2L1736.6,2331L1738.9,2332.8L1741.2,2334.2L1743.5,2335.2L1745.8,2332.5L1748.1,2333.3L1750.4,2331.9L1752.7,2331L1755,2329.2L1757.3,2330L1759.6,2330.3L1761.9,2333.3L1764.2,2332.5L1766.5,2334.7L1768.8,2335.3L1771.2,2335L1773.5,2336.8L1775.8,2335.8L1778.1,2334.3L1780.4,2334.9L1782.7,2334.9L1785,2334L1787.3,2334.5L1789.6,2334.2L1791.9,2335.1L1794.2,2335.8L1796.5,2335.3L1798.8,2336.7L1801.1,2335.1L1803.4,2335.8L1805.7,2336.5L1808,2335.1L1810.3,2336.5L1812.6,2337L1814.9,2336L1817.2,2337.6L1819.5,2336.5L1821.8,2336.7L1824.1,2335.8L1826.5,2335.9L1828.8,2334.6L1831.1,2334.9L1833.4,2335.8L1835.7,2334.1L1838,2335.3L1840.3,2335.1L1842.6,2334.2L1844.3,2331L1846,2331L1847.8,2328.7L1849.5,2329.4L1851.2,2331.7L1852.9,2332.6L1854.7,2334.7L1856.4,2336.5L1858.1,2336.3L1859.9,2334.2L1861.4,2331.5L1862.9,2326.2L1864.2,2322.2L1865.6,2320.3L1867,2323L1868.4,2324.9L1869.9,2329.7L1871.4,2334.2L1873.7,2334.9L1876,2337.6L1877.9,2337.4L1879.8,2337.9L1881.8,2338.8L1884.1,2336.2L1886.4,2335.3L1888.7,2332.6L1891,2331L1892.7,2329.1L1894.4,2329.4L1896.2,2329.9L1897.9,2332.6L1899.6,2336.1L1901.3,2337.6L1903.3,2339L1905.2,2337L1907.1,2338.1L1909.4,2337.9L1911.7,2336.5"/>
<path class="ax" d="M1144.9,2155.3V2339.7H1913.9V2155.3"/>
<path class="tk" d="M1144.9,2288.5h7.6M1144.9,2237.3h7.6M1144.9,2186.1h7.6M1913.9,2305.7h-9.9M1913.9,2272.3h-9.9M1913.9,2238.5h-9.9M1913.9,2207h-9.9M1913.9,2172.2h-9.9M1220.8,2339.7v-9M1297.6,2339.7v-9M1374.4,2339.7v-9M1451.2,2339.7v-9M1528,2339.7v-9M1604.8,2339.7v-9M1681.6,2339.7v-9M1758.4,2339.7v-9M1835.2,2339.7v-9"/>
<text class="al" transform="translate(1927.9 2319.6) scale(0.97 1)">1</text>
<text class="al" transform="translate(1927.9 2252.7) scale(0.97 1)">3</text>
<text class="al" transform="translate(1927.9 2185.4) scale(0.97 1)">5</text>
<rect class="bx" x="1523.6" y="2191.6" width="176.6" height="42.6"/>
<text class="bl" transform="translate(1609.5 2225.8) scale(0.945 1)" text-anchor="middle">50 dB SPL</text>
<text class="nt" transform="translate(1719.5 2258.9) scale(0.985 1)">0.94</text>
</g>
</svg>
</body></html>
